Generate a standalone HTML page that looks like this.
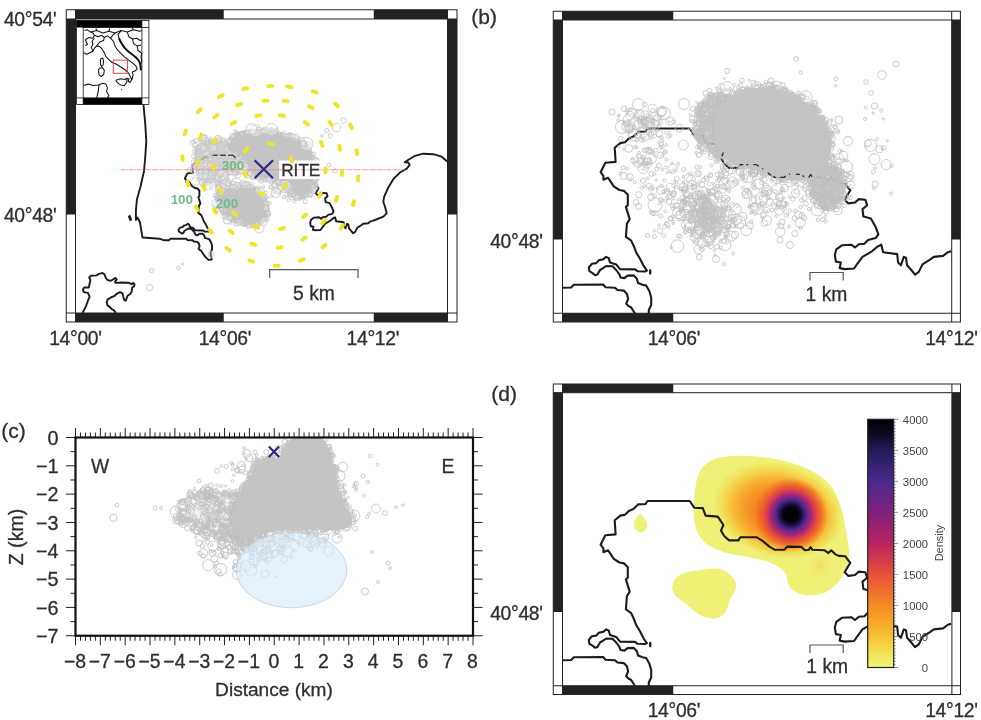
<!DOCTYPE html>
<html lang="en"><head><meta charset="utf-8"><title>Figure</title>
<style>html,body{margin:0;padding:0;background:#fff;}svg{display:block;}</style></head>
<body>
<svg width="981" height="720" viewBox="0 0 981 720" font-family="'Liberation Sans', sans-serif" fill="#2e2e2e"><style>text{stroke:#2e2e2e;stroke-width:0.3px;paint-order:stroke}.g text,text.g{stroke:none}</style>
<rect width="981" height="720" fill="#fff"/>
<g id="panelB">
<path d="M648.8,313.5 L648.8,310.0 L651.2,305.0 L651.2,297.5 L649.4,291.2 L646.2,285.6 L642.5,284.8 L638.1,283.1 L636.9,278.8 L633.8,275.4 L627.5,275.6 L624.4,278.1 L620.6,277.5 L619.4,274.4 L616.2,270.0 L612.5,266.2 L606.2,266.0 L603.1,268.1 L600.0,270.0 L597.5,274.4 L595.0,275.2 L592.5,273.1 L589.4,271.2 L588.8,267.5 L591.9,263.8 L596.2,263.1 L598.8,260.2 L603.1,259.4 L606.2,256.9 L608.8,258.1 L610.0,262.5 L616.2,264.4 L620.0,269.1 L635.0,269.4 L637.5,271.2 L645.0,271.5 L646.9,270.6 L643.8,266.2 L640.0,258.8 L636.2,252.5 L633.8,246.2 L631.2,240.6 L626.9,237.5 L625.9,236.9 L626.9,223.8 L629.7,219.1 L625.9,206.9 L627.8,205.0 L627.8,194.7 L624.1,190.9 L619.4,190.0 L613.8,186.3 L608.1,177.8 L603.4,179.7 L603.4,175.9 L600.6,172.2 L605.3,162.8 L615.6,161.9 L614.7,147.8 L620.3,143.1 L625.0,142.2 L628.8,138.4 L633.4,136.6 L638.1,131.9 L645.6,131.5 L647.5,128.5 L689.7,128.5 L694.4,135.3 L702.8,135.6 L705.6,143.1 L717.8,144.1 L723.4,152.5 L721.0,158.1 L724.4,163.8 L729.1,167.9 L738.4,167.9 L740.3,164.7 L756.3,164.7 L761.9,167.9 L769.4,174.1 L775.0,177.3 L784.4,177.3 L787.2,174.1 L801.3,174.4 L805.0,177.8 L808.8,177.3 L810.6,174.6 L812.5,177.3 L824.7,177.8 L828.4,180.6 L831.3,177.8 L835.0,181.6 L838.8,183.4 L845.3,183.8 L850.3,190.3 L844.7,199.7 L848.4,203.4 L855.0,202.5 L858.8,199.1 L865.3,199.7 L867.2,205.3 L862.5,209.1 L863.4,216.6 L870.9,218.4 L875.6,226.9 L878.4,234.4 L875.6,238.1 L868.1,240.0 L864.4,243.8 L858.8,244.3 L855.0,247.5 L851.3,244.7 L841.9,245.3 L836.3,249.4 L834.8,255.0 L835.9,261.6 L840.9,262.5 L839.6,268.1 L844.7,269.1 L854.1,268.5 L856.9,264.4 L862.5,256.9 L871.9,251.3 L877.5,246.6 L881.3,244.7 L883.1,252.2 L897.2,254.1 L898.1,262.5 L900.9,265.3 L903.8,256.9 L906.0,257.8 L907.1,265.3 L911.3,270.0 L915.0,274.7 L918.8,271.9 L922.5,264.4 L930.0,259.7 L933.8,256.9 L943.1,255.9 L947.8,252.2 L951.2,251.3" fill="none" stroke="#1c1c1c" stroke-width="2.1" stroke-linejoin="round"/>
<path d="M562.5,287.8 L571.2,287.5 L573.8,284.8 L603.1,284.5 L605.6,287.2 L615.0,287.8 L617.5,290.0 L623.8,290.6 L626.9,293.8 L628.1,298.8 L626.2,303.8 L628.8,306.2 L631.2,307.5 L635.0,313.5" fill="none" stroke="#1c1c1c" stroke-width="2.1" stroke-linejoin="round"/>
<ellipse cx="650.2" cy="271.9" rx="1.3" ry="3" fill="#1c1c1c"/>
<path d="M813.3,173.5 L825.8,165.2 L837.3,168.3 L843.5,180.8 L842.1,195.4 L835.2,205.8 L823.8,209.0 L814.4,197.5 L811.7,185.0Z" fill="#c4c4c4" stroke="#c4c4c4" stroke-width="3" stroke-linejoin="round" opacity="0.6"/>
<path d="M692.5,122.5C693.0,117.3 694.6,109.5 697.7,104.8C700.8,100.1 705.5,96.1 711.2,94.4C717.0,92.6 729.3,93.2 732.1,94.4C734.9,95.6 729.7,99.1 727.9,101.7C726.2,104.3 723.2,106.5 721.7,110.0C720.1,113.5 718.9,118.3 718.5,122.5C718.2,126.7 718.9,130.8 719.6,135.0C720.3,139.2 721.0,143.9 722.7,147.5C724.4,151.1 730.2,154.8 730.0,156.9C729.8,159.0 725.8,161.2 721.7,160.0C717.5,158.8 709.5,153.6 705.0,149.6C700.5,145.6 696.7,140.6 694.6,136.0C692.5,131.5 692.0,127.7 692.5,122.5Z" fill="#c4c4c4" opacity="0.5"/>
<g fill="none" stroke="#c0c0c0" stroke-width="0.8" >
<circle cx="815.2" cy="109.6" r="2.9"/>
<circle cx="818.7" cy="141.7" r="2.0"/>
<circle cx="737.9" cy="116.6" r="1.4"/>
<circle cx="730.0" cy="138.7" r="1.6"/>
<circle cx="770.8" cy="153.0" r="2.1"/>
<circle cx="851.1" cy="184.7" r="3.8"/>
<circle cx="723.5" cy="101.0" r="2.3"/>
<circle cx="791.2" cy="147.8" r="3.3"/>
<circle cx="769.6" cy="112.5" r="2.0"/>
<circle cx="801.5" cy="106.3" r="2.3"/>
<circle cx="748.8" cy="80.3" r="1.0"/>
<circle cx="793.0" cy="177.9" r="2.0"/>
<circle cx="703.3" cy="151.4" r="3.0"/>
<circle cx="747.4" cy="158.9" r="1.8"/>
<circle cx="698.0" cy="131.1" r="5.2"/>
<circle cx="741.2" cy="99.7" r="1.8"/>
<circle cx="821.8" cy="130.0" r="3.2"/>
<circle cx="787.3" cy="164.2" r="2.5"/>
<circle cx="799.0" cy="99.7" r="2.3"/>
<circle cx="760.3" cy="111.5" r="0.9"/>
<circle cx="754.2" cy="92.6" r="1.2"/>
<circle cx="798.2" cy="119.5" r="4.5"/>
<circle cx="831.3" cy="167.4" r="1.2"/>
<circle cx="842.9" cy="199.4" r="1.8"/>
<circle cx="781.5" cy="99.0" r="2.0"/>
<circle cx="778.7" cy="103.7" r="1.7"/>
<circle cx="832.9" cy="164.7" r="2.5"/>
<circle cx="781.5" cy="129.6" r="1.8"/>
<circle cx="755.5" cy="111.5" r="3.3"/>
<circle cx="764.8" cy="152.2" r="1.7"/>
<circle cx="692.5" cy="129.0" r="1.5"/>
<circle cx="846.5" cy="166.8" r="6.1"/>
<circle cx="758.4" cy="149.1" r="1.4"/>
<circle cx="831.1" cy="125.3" r="1.0"/>
<circle cx="784.9" cy="170.2" r="2.4"/>
<circle cx="746.5" cy="148.5" r="2.0"/>
<circle cx="813.5" cy="200.1" r="2.2"/>
<circle cx="818.0" cy="147.7" r="4.1"/>
<circle cx="807.0" cy="109.7" r="1.5"/>
<circle cx="720.8" cy="127.8" r="2.0"/>
<circle cx="717.7" cy="125.6" r="1.8"/>
<circle cx="843.4" cy="155.6" r="4.3"/>
<circle cx="743.9" cy="115.7" r="1.6"/>
<circle cx="809.8" cy="156.6" r="1.0"/>
<circle cx="699.6" cy="136.7" r="1.7"/>
<circle cx="799.0" cy="174.7" r="1.2"/>
<circle cx="742.7" cy="132.5" r="1.2"/>
<circle cx="721.5" cy="86.5" r="2.9"/>
<circle cx="787.1" cy="143.2" r="1.4"/>
<circle cx="785.6" cy="167.0" r="1.5"/>
<circle cx="764.5" cy="162.9" r="1.9"/>
<circle cx="792.2" cy="104.1" r="6.1"/>
<circle cx="698.5" cy="134.2" r="1.2"/>
<circle cx="813.3" cy="187.6" r="1.3"/>
<circle cx="837.7" cy="185.9" r="1.9"/>
<circle cx="831.9" cy="149.0" r="1.8"/>
<circle cx="729.7" cy="112.7" r="1.3"/>
<circle cx="719.0" cy="154.8" r="3.4"/>
<circle cx="691.8" cy="120.9" r="1.4"/>
<circle cx="841.8" cy="151.0" r="1.3"/>
<circle cx="821.1" cy="166.8" r="1.9"/>
<circle cx="788.2" cy="105.1" r="1.3"/>
<circle cx="782.3" cy="85.0" r="2.7"/>
<circle cx="819.4" cy="206.8" r="1.9"/>
<circle cx="743.7" cy="121.9" r="1.3"/>
<circle cx="818.8" cy="121.3" r="4.1"/>
<circle cx="829.4" cy="185.2" r="1.4"/>
<circle cx="782.1" cy="164.3" r="1.6"/>
<circle cx="788.0" cy="92.5" r="1.9"/>
<circle cx="796.5" cy="163.4" r="1.9"/>
<circle cx="823.1" cy="186.1" r="1.9"/>
<circle cx="741.8" cy="175.3" r="1.1"/>
<circle cx="830.2" cy="197.9" r="1.7"/>
<circle cx="794.8" cy="108.2" r="1.0"/>
<circle cx="750.4" cy="113.2" r="1.5"/>
<circle cx="763.0" cy="166.7" r="1.6"/>
<circle cx="704.9" cy="130.1" r="2.0"/>
<circle cx="824.2" cy="129.6" r="1.3"/>
<circle cx="749.1" cy="151.2" r="1.8"/>
<circle cx="723.5" cy="112.5" r="1.4"/>
<circle cx="742.3" cy="140.3" r="1.7"/>
<circle cx="783.0" cy="119.4" r="1.2"/>
<circle cx="709.8" cy="97.4" r="2.4"/>
<circle cx="709.7" cy="90.5" r="2.3"/>
<circle cx="789.7" cy="104.5" r="1.0"/>
<circle cx="749.7" cy="173.8" r="1.5"/>
<circle cx="815.3" cy="189.0" r="1.4"/>
<circle cx="798.6" cy="128.8" r="1.0"/>
<circle cx="698.8" cy="148.4" r="1.1"/>
<circle cx="812.2" cy="105.0" r="1.5"/>
<circle cx="731.9" cy="150.7" r="1.1"/>
<circle cx="810.7" cy="198.4" r="1.7"/>
<circle cx="708.9" cy="104.2" r="2.2"/>
<circle cx="819.1" cy="165.1" r="1.3"/>
<circle cx="841.9" cy="191.3" r="2.1"/>
<circle cx="815.4" cy="132.0" r="2.8"/>
<circle cx="793.2" cy="104.2" r="1.3"/>
<circle cx="812.5" cy="180.0" r="2.6"/>
<circle cx="806.3" cy="138.6" r="2.6"/>
<circle cx="750.2" cy="135.3" r="2.8"/>
<circle cx="777.0" cy="131.1" r="1.7"/>
<circle cx="778.0" cy="175.3" r="1.8"/>
<circle cx="838.7" cy="131.0" r="1.3"/>
<circle cx="804.9" cy="189.0" r="2.3"/>
<circle cx="707.4" cy="103.2" r="2.2"/>
<circle cx="782.4" cy="138.8" r="1.9"/>
<circle cx="811.1" cy="105.0" r="1.7"/>
<circle cx="765.8" cy="84.1" r="1.3"/>
<circle cx="739.7" cy="121.1" r="0.9"/>
<circle cx="806.0" cy="140.0" r="1.4"/>
<circle cx="833.7" cy="201.0" r="1.0"/>
<circle cx="728.7" cy="131.9" r="1.6"/>
<circle cx="725.5" cy="96.3" r="1.3"/>
<circle cx="708.5" cy="103.1" r="4.2"/>
<circle cx="829.1" cy="143.9" r="1.4"/>
<circle cx="731.8" cy="149.5" r="1.2"/>
<circle cx="734.6" cy="148.1" r="3.4"/>
<circle cx="791.1" cy="150.7" r="1.0"/>
<circle cx="710.6" cy="94.8" r="2.7"/>
<circle cx="722.3" cy="146.8" r="2.7"/>
<circle cx="695.0" cy="121.5" r="1.6"/>
<circle cx="786.5" cy="88.6" r="1.1"/>
<circle cx="727.0" cy="141.3" r="1.4"/>
<circle cx="832.4" cy="180.5" r="1.8"/>
<circle cx="823.9" cy="180.5" r="2.4"/>
<circle cx="799.8" cy="177.1" r="2.1"/>
<circle cx="737.7" cy="102.0" r="2.0"/>
<circle cx="812.1" cy="101.7" r="1.5"/>
<circle cx="838.7" cy="158.7" r="5.1"/>
<circle cx="713.7" cy="147.9" r="1.2"/>
<circle cx="803.3" cy="164.9" r="1.3"/>
<circle cx="756.2" cy="171.4" r="1.8"/>
<circle cx="824.9" cy="124.1" r="2.3"/>
<circle cx="797.9" cy="107.4" r="2.0"/>
<circle cx="778.6" cy="181.5" r="2.1"/>
<circle cx="765.0" cy="133.9" r="1.4"/>
<circle cx="806.2" cy="149.0" r="5.2"/>
<circle cx="780.4" cy="153.6" r="1.0"/>
<circle cx="762.4" cy="163.3" r="1.3"/>
<circle cx="778.4" cy="89.6" r="1.1"/>
<circle cx="785.4" cy="109.2" r="1.2"/>
<circle cx="720.7" cy="139.9" r="2.0"/>
<circle cx="811.0" cy="173.4" r="2.3"/>
<circle cx="764.5" cy="161.9" r="1.2"/>
<circle cx="822.3" cy="169.5" r="1.7"/>
<circle cx="793.3" cy="133.5" r="3.6"/>
<circle cx="779.6" cy="132.2" r="1.9"/>
<circle cx="810.1" cy="130.1" r="3.0"/>
<circle cx="764.6" cy="179.7" r="2.6"/>
<circle cx="770.7" cy="124.5" r="2.7"/>
<circle cx="823.6" cy="130.2" r="1.5"/>
<circle cx="826.5" cy="183.7" r="2.0"/>
<circle cx="761.5" cy="174.1" r="4.2"/>
<circle cx="694.0" cy="131.4" r="1.3"/>
<circle cx="829.0" cy="156.5" r="2.8"/>
<circle cx="779.6" cy="167.7" r="1.4"/>
<circle cx="799.2" cy="157.0" r="1.7"/>
<circle cx="757.1" cy="104.1" r="2.2"/>
<circle cx="736.2" cy="118.5" r="1.5"/>
<circle cx="746.0" cy="139.0" r="1.6"/>
<circle cx="749.1" cy="156.7" r="1.2"/>
<circle cx="843.4" cy="197.4" r="1.6"/>
<circle cx="750.0" cy="115.1" r="1.1"/>
<circle cx="833.0" cy="145.1" r="2.0"/>
<circle cx="830.1" cy="121.2" r="1.8"/>
<circle cx="769.2" cy="106.0" r="2.6"/>
<circle cx="823.7" cy="142.5" r="1.6"/>
<circle cx="813.9" cy="140.4" r="2.6"/>
<circle cx="749.4" cy="152.0" r="2.7"/>
<circle cx="721.3" cy="121.7" r="2.8"/>
<circle cx="803.9" cy="181.7" r="2.3"/>
<circle cx="822.0" cy="138.7" r="2.0"/>
<circle cx="728.6" cy="164.9" r="1.9"/>
<circle cx="749.9" cy="164.1" r="1.4"/>
<circle cx="730.5" cy="142.8" r="4.5"/>
<circle cx="774.1" cy="163.3" r="1.7"/>
<circle cx="735.6" cy="120.3" r="3.9"/>
<circle cx="730.3" cy="88.7" r="1.2"/>
<circle cx="804.4" cy="105.7" r="1.5"/>
<circle cx="710.7" cy="122.3" r="1.9"/>
<circle cx="814.0" cy="144.4" r="1.2"/>
<circle cx="839.3" cy="166.6" r="2.2"/>
<circle cx="789.9" cy="181.4" r="5.4"/>
<circle cx="811.0" cy="125.3" r="1.9"/>
<circle cx="730.4" cy="137.7" r="1.7"/>
<circle cx="768.3" cy="98.5" r="2.1"/>
<circle cx="760.5" cy="164.4" r="1.1"/>
<circle cx="710.5" cy="98.1" r="1.9"/>
<circle cx="716.7" cy="117.3" r="3.0"/>
<circle cx="718.4" cy="101.6" r="2.4"/>
<circle cx="765.9" cy="81.8" r="1.7"/>
<circle cx="763.3" cy="101.3" r="1.7"/>
<circle cx="718.4" cy="161.4" r="1.8"/>
<circle cx="754.8" cy="135.0" r="1.6"/>
<circle cx="839.4" cy="198.0" r="1.3"/>
<circle cx="796.8" cy="159.2" r="1.7"/>
<circle cx="814.6" cy="108.1" r="1.7"/>
<circle cx="844.2" cy="197.0" r="3.8"/>
<circle cx="707.0" cy="121.5" r="2.1"/>
<circle cx="838.0" cy="210.7" r="4.1"/>
<circle cx="788.4" cy="167.9" r="1.7"/>
<circle cx="799.3" cy="155.2" r="1.9"/>
<circle cx="844.1" cy="160.2" r="1.7"/>
<circle cx="743.2" cy="147.6" r="1.3"/>
<circle cx="801.8" cy="135.5" r="1.2"/>
<circle cx="827.6" cy="179.7" r="1.5"/>
<circle cx="743.4" cy="90.0" r="2.5"/>
<circle cx="710.0" cy="104.2" r="1.2"/>
<circle cx="738.0" cy="139.0" r="1.1"/>
<circle cx="835.3" cy="169.8" r="1.7"/>
<circle cx="827.9" cy="133.1" r="1.4"/>
<circle cx="728.5" cy="98.6" r="1.3"/>
<circle cx="819.1" cy="170.6" r="3.1"/>
<circle cx="723.1" cy="115.2" r="1.7"/>
<circle cx="803.2" cy="96.9" r="2.1"/>
<circle cx="772.7" cy="84.5" r="1.6"/>
<circle cx="702.1" cy="116.1" r="2.3"/>
<circle cx="813.4" cy="160.2" r="1.6"/>
<circle cx="739.5" cy="163.0" r="1.6"/>
<circle cx="792.3" cy="177.7" r="2.2"/>
<circle cx="750.2" cy="175.7" r="1.6"/>
<circle cx="802.6" cy="131.1" r="2.8"/>
<circle cx="805.0" cy="106.9" r="1.3"/>
<circle cx="807.9" cy="116.7" r="3.0"/>
<circle cx="761.6" cy="117.9" r="1.2"/>
<circle cx="738.3" cy="90.0" r="1.5"/>
<circle cx="724.2" cy="115.7" r="1.8"/>
<circle cx="716.6" cy="88.1" r="1.2"/>
<circle cx="764.5" cy="108.2" r="1.4"/>
<circle cx="733.0" cy="155.5" r="2.2"/>
<circle cx="771.2" cy="89.7" r="1.5"/>
<circle cx="829.8" cy="194.5" r="1.3"/>
<circle cx="700.3" cy="114.8" r="2.2"/>
<circle cx="821.2" cy="141.9" r="1.7"/>
<circle cx="740.6" cy="85.3" r="2.1"/>
<circle cx="752.5" cy="100.1" r="3.0"/>
<circle cx="794.2" cy="122.6" r="1.7"/>
<circle cx="781.7" cy="179.3" r="1.9"/>
<circle cx="778.4" cy="106.0" r="5.0"/>
<circle cx="783.6" cy="144.7" r="1.0"/>
<circle cx="715.5" cy="161.7" r="1.8"/>
<circle cx="777.5" cy="176.9" r="1.3"/>
<circle cx="754.2" cy="115.5" r="2.0"/>
<circle cx="749.2" cy="151.5" r="1.3"/>
<circle cx="800.6" cy="153.8" r="1.4"/>
<circle cx="729.1" cy="102.8" r="1.1"/>
<circle cx="827.2" cy="200.2" r="2.2"/>
<circle cx="695.6" cy="123.8" r="1.7"/>
<circle cx="719.8" cy="141.9" r="1.5"/>
<circle cx="716.3" cy="144.2" r="1.2"/>
<circle cx="774.0" cy="178.4" r="2.7"/>
<circle cx="759.9" cy="98.5" r="1.0"/>
<circle cx="820.5" cy="120.9" r="2.5"/>
<circle cx="762.9" cy="167.3" r="1.9"/>
<circle cx="771.4" cy="101.7" r="1.4"/>
<circle cx="711.1" cy="117.4" r="3.9"/>
<circle cx="696.9" cy="108.4" r="1.1"/>
<circle cx="709.6" cy="141.3" r="2.9"/>
<circle cx="746.6" cy="157.4" r="1.1"/>
<circle cx="734.3" cy="84.3" r="1.4"/>
<circle cx="730.2" cy="133.3" r="2.4"/>
<circle cx="811.8" cy="133.6" r="1.5"/>
<circle cx="833.4" cy="201.2" r="1.8"/>
<circle cx="729.7" cy="98.2" r="1.8"/>
<circle cx="759.9" cy="159.5" r="1.3"/>
<circle cx="804.8" cy="142.7" r="1.4"/>
<circle cx="802.1" cy="96.8" r="3.3"/>
<circle cx="703.5" cy="123.7" r="2.4"/>
<circle cx="838.5" cy="160.7" r="2.1"/>
<circle cx="763.4" cy="154.4" r="1.7"/>
<circle cx="808.9" cy="169.6" r="1.3"/>
<circle cx="821.3" cy="134.2" r="1.1"/>
<circle cx="816.4" cy="197.8" r="2.1"/>
<circle cx="765.4" cy="139.1" r="1.4"/>
<circle cx="751.5" cy="137.0" r="1.5"/>
<circle cx="811.6" cy="154.5" r="1.2"/>
<circle cx="798.2" cy="185.9" r="1.0"/>
<circle cx="726.0" cy="110.7" r="1.7"/>
<circle cx="733.8" cy="120.0" r="1.2"/>
<circle cx="812.7" cy="129.3" r="3.6"/>
<circle cx="741.2" cy="164.0" r="3.2"/>
<circle cx="718.8" cy="93.9" r="1.5"/>
<circle cx="802.3" cy="179.9" r="2.6"/>
<circle cx="736.8" cy="163.9" r="1.3"/>
<circle cx="693.9" cy="133.3" r="2.6"/>
<circle cx="782.9" cy="113.3" r="3.8"/>
<circle cx="745.3" cy="160.4" r="2.1"/>
<circle cx="784.8" cy="100.2" r="4.0"/>
<circle cx="729.8" cy="106.3" r="1.0"/>
<circle cx="773.6" cy="159.3" r="1.6"/>
<circle cx="803.2" cy="124.2" r="1.5"/>
<circle cx="742.0" cy="80.4" r="2.2"/>
<circle cx="700.7" cy="106.6" r="1.7"/>
<circle cx="742.8" cy="89.1" r="2.1"/>
<circle cx="759.5" cy="106.9" r="1.8"/>
<circle cx="835.1" cy="163.9" r="1.3"/>
<circle cx="703.6" cy="121.9" r="1.1"/>
<circle cx="692.9" cy="108.8" r="2.5"/>
<circle cx="791.9" cy="93.1" r="1.3"/>
<circle cx="743.2" cy="123.8" r="2.1"/>
<circle cx="798.9" cy="152.2" r="1.9"/>
<circle cx="789.4" cy="93.1" r="1.4"/>
<circle cx="730.9" cy="157.0" r="1.1"/>
<circle cx="844.1" cy="187.9" r="1.8"/>
<circle cx="793.1" cy="148.4" r="2.7"/>
<circle cx="801.7" cy="187.2" r="1.1"/>
<circle cx="817.0" cy="139.6" r="4.6"/>
<circle cx="827.6" cy="209.1" r="1.8"/>
<circle cx="754.2" cy="121.0" r="2.0"/>
<circle cx="770.9" cy="80.9" r="2.9"/>
<circle cx="760.7" cy="106.2" r="3.2"/>
<circle cx="804.8" cy="146.3" r="1.9"/>
<circle cx="830.4" cy="198.4" r="2.3"/>
<circle cx="740.1" cy="116.9" r="1.4"/>
<circle cx="697.2" cy="147.4" r="1.7"/>
<circle cx="770.8" cy="137.4" r="3.9"/>
<circle cx="843.9" cy="205.3" r="2.2"/>
<circle cx="708.8" cy="99.9" r="2.1"/>
<circle cx="790.3" cy="176.3" r="2.1"/>
<circle cx="782.5" cy="107.6" r="2.2"/>
<circle cx="802.6" cy="105.5" r="1.0"/>
<circle cx="776.5" cy="87.3" r="6.1"/>
<circle cx="758.5" cy="167.1" r="3.7"/>
<circle cx="697.6" cy="113.2" r="1.5"/>
<circle cx="750.7" cy="146.4" r="2.1"/>
<circle cx="736.7" cy="166.7" r="3.0"/>
<circle cx="743.0" cy="159.5" r="1.6"/>
<circle cx="820.4" cy="151.5" r="4.4"/>
<circle cx="750.3" cy="126.1" r="1.4"/>
<circle cx="699.7" cy="114.0" r="1.6"/>
<circle cx="790.2" cy="92.7" r="1.6"/>
<circle cx="848.7" cy="197.4" r="1.8"/>
<circle cx="830.5" cy="195.9" r="2.2"/>
<circle cx="790.0" cy="148.8" r="1.1"/>
<circle cx="721.1" cy="148.5" r="1.0"/>
<circle cx="735.9" cy="96.4" r="1.3"/>
<circle cx="690.5" cy="114.7" r="1.4"/>
<circle cx="710.3" cy="104.7" r="3.0"/>
<circle cx="783.7" cy="135.7" r="1.5"/>
<circle cx="758.5" cy="107.0" r="2.4"/>
<circle cx="797.0" cy="118.1" r="1.2"/>
<circle cx="753.6" cy="141.1" r="4.7"/>
<circle cx="805.9" cy="120.7" r="2.5"/>
<circle cx="834.6" cy="131.9" r="1.2"/>
<circle cx="798.4" cy="92.3" r="1.6"/>
<circle cx="693.1" cy="119.6" r="3.7"/>
<circle cx="714.7" cy="108.0" r="2.0"/>
<circle cx="702.5" cy="142.2" r="1.4"/>
<circle cx="785.2" cy="121.9" r="5.6"/>
<circle cx="819.9" cy="154.2" r="2.0"/>
<circle cx="710.9" cy="151.5" r="1.0"/>
<circle cx="791.3" cy="136.5" r="4.2"/>
<circle cx="829.6" cy="131.4" r="2.6"/>
<circle cx="771.9" cy="94.9" r="1.7"/>
<circle cx="780.5" cy="181.2" r="1.4"/>
<circle cx="807.9" cy="113.8" r="1.3"/>
<circle cx="850.5" cy="175.0" r="1.0"/>
<circle cx="757.6" cy="134.7" r="1.8"/>
<circle cx="815.8" cy="103.0" r="1.3"/>
<circle cx="792.9" cy="174.9" r="1.2"/>
<circle cx="765.0" cy="141.3" r="1.3"/>
<circle cx="740.1" cy="171.8" r="4.0"/>
<circle cx="700.4" cy="145.5" r="1.4"/>
<circle cx="718.7" cy="128.5" r="4.3"/>
<circle cx="738.2" cy="159.5" r="3.1"/>
<circle cx="822.8" cy="203.7" r="1.8"/>
<circle cx="742.1" cy="155.2" r="2.3"/>
<circle cx="689.3" cy="129.0" r="1.2"/>
<circle cx="830.6" cy="166.1" r="1.5"/>
<circle cx="811.0" cy="139.2" r="1.8"/>
<circle cx="712.4" cy="147.7" r="1.2"/>
<circle cx="736.9" cy="152.5" r="1.3"/>
<circle cx="810.0" cy="193.1" r="3.8"/>
<circle cx="831.2" cy="156.8" r="2.8"/>
<circle cx="833.6" cy="183.9" r="6.2"/>
<circle cx="805.4" cy="105.9" r="1.2"/>
<circle cx="731.8" cy="122.8" r="1.8"/>
<circle cx="785.0" cy="162.9" r="1.2"/>
<circle cx="720.0" cy="127.7" r="1.6"/>
<circle cx="822.1" cy="152.5" r="1.7"/>
<circle cx="772.1" cy="180.4" r="1.8"/>
<circle cx="795.5" cy="118.1" r="1.4"/>
<circle cx="702.6" cy="141.0" r="2.3"/>
<circle cx="832.3" cy="158.9" r="2.9"/>
<circle cx="697.0" cy="138.0" r="1.5"/>
<circle cx="751.2" cy="156.8" r="1.8"/>
<circle cx="743.6" cy="133.8" r="1.4"/>
<circle cx="803.8" cy="142.1" r="1.9"/>
<circle cx="821.5" cy="144.0" r="2.9"/>
<circle cx="788.0" cy="147.1" r="1.4"/>
<circle cx="831.8" cy="119.9" r="1.3"/>
<circle cx="766.8" cy="96.3" r="1.6"/>
<circle cx="769.9" cy="112.4" r="1.5"/>
<circle cx="755.0" cy="164.5" r="1.9"/>
<circle cx="838.0" cy="185.7" r="1.8"/>
<circle cx="714.7" cy="142.9" r="1.0"/>
<circle cx="702.5" cy="147.4" r="2.7"/>
<circle cx="837.9" cy="132.6" r="1.5"/>
<circle cx="731.1" cy="153.3" r="1.7"/>
<circle cx="702.2" cy="107.1" r="1.4"/>
<circle cx="834.5" cy="203.7" r="2.8"/>
<circle cx="846.6" cy="174.5" r="2.5"/>
<circle cx="829.5" cy="191.1" r="1.8"/>
<circle cx="746.9" cy="92.9" r="2.1"/>
<circle cx="807.3" cy="97.9" r="1.9"/>
<circle cx="779.9" cy="148.8" r="1.3"/>
<circle cx="747.8" cy="123.1" r="1.6"/>
<circle cx="833.9" cy="158.9" r="3.1"/>
<circle cx="798.2" cy="176.8" r="2.1"/>
<circle cx="770.1" cy="86.4" r="4.4"/>
<circle cx="770.8" cy="177.2" r="2.1"/>
<circle cx="795.8" cy="161.4" r="1.1"/>
<circle cx="695.9" cy="111.1" r="2.0"/>
<circle cx="775.5" cy="86.4" r="1.6"/>
<circle cx="755.4" cy="152.1" r="1.1"/>
<circle cx="808.8" cy="125.7" r="1.1"/>
<circle cx="815.0" cy="103.1" r="2.7"/>
<circle cx="763.6" cy="148.9" r="2.4"/>
<circle cx="800.8" cy="131.7" r="1.3"/>
<circle cx="805.3" cy="141.5" r="1.5"/>
<circle cx="755.9" cy="128.2" r="1.6"/>
<circle cx="769.0" cy="117.0" r="2.2"/>
<circle cx="727.9" cy="99.4" r="1.9"/>
<circle cx="760.3" cy="118.6" r="3.1"/>
<circle cx="825.2" cy="192.0" r="3.7"/>
<circle cx="744.6" cy="161.7" r="3.3"/>
<circle cx="835.9" cy="127.3" r="2.3"/>
<circle cx="779.1" cy="138.5" r="1.9"/>
<circle cx="797.2" cy="185.1" r="1.8"/>
<circle cx="741.7" cy="173.5" r="2.1"/>
<circle cx="731.5" cy="147.1" r="2.4"/>
<circle cx="799.8" cy="106.4" r="1.6"/>
<circle cx="820.6" cy="167.9" r="1.5"/>
<circle cx="740.9" cy="166.9" r="1.6"/>
<circle cx="782.6" cy="161.4" r="3.8"/>
<circle cx="761.4" cy="109.6" r="2.5"/>
<circle cx="807.0" cy="141.2" r="2.3"/>
<circle cx="810.2" cy="128.0" r="1.1"/>
<circle cx="702.7" cy="151.6" r="1.4"/>
<circle cx="814.6" cy="114.4" r="1.2"/>
<circle cx="802.4" cy="130.0" r="1.6"/>
<circle cx="741.0" cy="144.4" r="1.5"/>
<circle cx="775.1" cy="171.7" r="1.3"/>
<circle cx="792.7" cy="169.5" r="2.2"/>
<circle cx="751.1" cy="169.4" r="1.5"/>
<circle cx="744.8" cy="160.2" r="1.8"/>
<circle cx="763.5" cy="154.2" r="1.6"/>
<circle cx="724.3" cy="130.8" r="2.2"/>
<circle cx="834.5" cy="126.7" r="2.1"/>
<circle cx="708.4" cy="127.7" r="1.6"/>
<circle cx="769.2" cy="95.4" r="2.0"/>
<circle cx="740.5" cy="116.2" r="1.8"/>
<circle cx="711.3" cy="156.5" r="3.0"/>
<circle cx="759.1" cy="117.9" r="1.3"/>
<circle cx="822.7" cy="178.5" r="1.8"/>
<circle cx="710.2" cy="118.5" r="1.7"/>
<circle cx="822.4" cy="211.1" r="1.6"/>
<circle cx="849.3" cy="177.8" r="3.8"/>
<circle cx="793.8" cy="109.1" r="1.9"/>
<circle cx="748.9" cy="162.3" r="2.6"/>
<circle cx="753.0" cy="82.7" r="2.6"/>
<circle cx="802.3" cy="138.5" r="1.9"/>
<circle cx="818.8" cy="110.7" r="1.9"/>
<circle cx="796.2" cy="168.8" r="1.3"/>
<circle cx="764.3" cy="104.7" r="1.4"/>
<circle cx="754.2" cy="178.4" r="1.8"/>
<circle cx="719.3" cy="91.7" r="2.4"/>
<circle cx="764.0" cy="110.8" r="3.3"/>
<circle cx="819.3" cy="187.9" r="1.2"/>
<circle cx="842.9" cy="190.9" r="2.1"/>
<circle cx="794.2" cy="104.5" r="2.5"/>
<circle cx="822.9" cy="176.1" r="1.4"/>
<circle cx="810.5" cy="172.1" r="1.3"/>
<circle cx="824.1" cy="119.2" r="1.1"/>
<circle cx="798.3" cy="148.2" r="2.2"/>
<circle cx="743.6" cy="123.0" r="1.7"/>
<circle cx="713.8" cy="144.8" r="6.1"/>
<circle cx="748.6" cy="135.6" r="1.3"/>
<circle cx="827.6" cy="170.0" r="1.8"/>
<circle cx="724.0" cy="147.0" r="4.0"/>
<circle cx="703.5" cy="131.8" r="1.7"/>
<circle cx="812.3" cy="194.3" r="2.3"/>
<circle cx="760.5" cy="126.5" r="2.7"/>
<circle cx="771.0" cy="105.6" r="1.8"/>
<circle cx="738.6" cy="120.2" r="2.1"/>
<circle cx="827.9" cy="165.4" r="2.5"/>
<circle cx="758.3" cy="105.9" r="2.4"/>
<circle cx="705.7" cy="93.5" r="2.8"/>
<circle cx="745.4" cy="133.7" r="1.8"/>
<circle cx="839.4" cy="150.7" r="1.6"/>
<circle cx="850.3" cy="175.2" r="4.0"/>
<circle cx="712.3" cy="153.0" r="4.2"/>
<circle cx="719.3" cy="93.3" r="2.1"/>
<circle cx="795.0" cy="140.8" r="3.7"/>
<circle cx="768.2" cy="150.6" r="1.0"/>
<circle cx="763.1" cy="169.2" r="1.5"/>
<circle cx="850.2" cy="185.3" r="1.0"/>
<circle cx="699.6" cy="145.2" r="2.7"/>
<circle cx="726.6" cy="93.3" r="4.4"/>
<circle cx="720.3" cy="112.6" r="1.6"/>
<circle cx="845.3" cy="178.3" r="2.1"/>
<circle cx="827.8" cy="172.2" r="2.3"/>
<circle cx="740.0" cy="131.5" r="1.0"/>
<circle cx="760.4" cy="118.6" r="1.5"/>
<circle cx="700.7" cy="116.4" r="2.0"/>
<circle cx="766.7" cy="169.3" r="1.1"/>
<circle cx="794.0" cy="175.7" r="1.4"/>
<circle cx="705.5" cy="103.7" r="2.7"/>
<circle cx="738.9" cy="117.1" r="6.1"/>
<circle cx="839.5" cy="158.5" r="1.2"/>
<circle cx="745.4" cy="126.8" r="1.3"/>
<circle cx="744.1" cy="105.0" r="2.1"/>
<circle cx="827.5" cy="162.4" r="1.1"/>
<circle cx="754.0" cy="164.1" r="1.3"/>
<circle cx="800.8" cy="139.5" r="1.7"/>
<circle cx="764.6" cy="174.7" r="2.5"/>
<circle cx="775.8" cy="90.5" r="4.1"/>
<circle cx="727.0" cy="88.1" r="6.5"/>
<circle cx="719.5" cy="106.3" r="1.8"/>
<circle cx="756.2" cy="122.3" r="5.9"/>
<circle cx="740.3" cy="165.4" r="1.7"/>
<circle cx="763.1" cy="168.9" r="1.7"/>
<circle cx="767.0" cy="89.7" r="1.7"/>
<circle cx="823.2" cy="122.9" r="2.7"/>
<circle cx="719.8" cy="111.4" r="1.9"/>
<circle cx="783.7" cy="90.3" r="1.9"/>
<circle cx="812.6" cy="109.2" r="2.0"/>
<circle cx="718.0" cy="130.7" r="1.3"/>
<circle cx="813.6" cy="109.3" r="1.2"/>
<circle cx="751.1" cy="172.9" r="1.9"/>
<circle cx="733.1" cy="162.6" r="1.3"/>
<circle cx="781.4" cy="91.0" r="1.2"/>
<circle cx="722.3" cy="149.3" r="1.9"/>
<circle cx="747.6" cy="165.9" r="2.3"/>
<circle cx="761.5" cy="170.5" r="2.1"/>
<circle cx="721.4" cy="109.4" r="2.6"/>
<circle cx="751.3" cy="87.0" r="1.4"/>
<circle cx="720.9" cy="110.6" r="2.3"/>
<circle cx="808.6" cy="178.1" r="2.3"/>
<circle cx="769.3" cy="88.1" r="1.1"/>
<circle cx="716.6" cy="116.5" r="1.2"/>
<circle cx="758.8" cy="88.9" r="1.3"/>
<circle cx="715.7" cy="134.4" r="2.1"/>
<circle cx="762.0" cy="172.6" r="1.7"/>
<circle cx="719.7" cy="123.7" r="1.7"/>
<circle cx="756.5" cy="86.4" r="5.1"/>
<circle cx="763.5" cy="174.5" r="1.5"/>
<circle cx="809.9" cy="179.2" r="1.9"/>
<circle cx="725.2" cy="102.5" r="1.1"/>
<circle cx="826.3" cy="122.4" r="1.4"/>
<circle cx="762.9" cy="89.8" r="2.0"/>
<circle cx="723.9" cy="150.7" r="1.4"/>
<circle cx="734.1" cy="161.4" r="1.2"/>
<circle cx="824.9" cy="167.1" r="2.1"/>
<circle cx="744.2" cy="165.2" r="1.1"/>
<circle cx="717.9" cy="116.4" r="1.7"/>
<circle cx="795.4" cy="100.7" r="2.5"/>
<circle cx="830.0" cy="137.5" r="5.2"/>
<circle cx="808.0" cy="105.0" r="2.0"/>
<circle cx="761.9" cy="86.6" r="2.0"/>
<circle cx="716.5" cy="115.6" r="3.4"/>
<circle cx="812.7" cy="115.8" r="1.6"/>
<circle cx="790.4" cy="100.0" r="3.8"/>
<circle cx="793.0" cy="95.6" r="2.7"/>
<circle cx="742.4" cy="95.5" r="1.2"/>
<circle cx="718.3" cy="137.1" r="1.5"/>
<circle cx="713.8" cy="129.5" r="1.9"/>
<circle cx="731.6" cy="98.7" r="2.1"/>
<circle cx="728.7" cy="154.1" r="2.6"/>
<circle cx="728.4" cy="100.8" r="1.5"/>
<circle cx="828.8" cy="145.0" r="1.3"/>
<circle cx="756.7" cy="91.7" r="1.7"/>
<circle cx="740.7" cy="161.0" r="1.3"/>
<circle cx="799.8" cy="103.7" r="1.5"/>
<circle cx="742.5" cy="91.6" r="1.2"/>
<circle cx="820.6" cy="164.4" r="4.3"/>
<circle cx="758.7" cy="91.0" r="2.3"/>
<circle cx="763.7" cy="90.9" r="1.7"/>
<circle cx="810.2" cy="173.6" r="2.3"/>
<circle cx="753.1" cy="171.7" r="4.9"/>
<circle cx="768.1" cy="170.5" r="1.4"/>
<circle cx="817.1" cy="166.5" r="2.1"/>
<circle cx="776.7" cy="93.8" r="1.2"/>
<circle cx="795.7" cy="178.0" r="1.3"/>
<circle cx="734.2" cy="159.4" r="2.5"/>
<circle cx="756.6" cy="84.8" r="1.8"/>
<circle cx="719.9" cy="151.9" r="2.4"/>
<circle cx="803.3" cy="176.6" r="1.9"/>
<circle cx="808.5" cy="106.4" r="1.1"/>
<circle cx="721.6" cy="150.6" r="1.5"/>
<circle cx="746.1" cy="159.5" r="2.6"/>
<circle cx="829.6" cy="146.9" r="1.7"/>
<circle cx="716.6" cy="117.0" r="2.4"/>
<circle cx="755.5" cy="168.8" r="1.8"/>
<circle cx="828.7" cy="154.7" r="1.2"/>
<circle cx="715.9" cy="122.1" r="2.5"/>
<circle cx="730.9" cy="157.4" r="1.5"/>
<circle cx="783.8" cy="91.1" r="3.2"/>
<circle cx="747.1" cy="87.2" r="1.6"/>
<circle cx="716.3" cy="131.9" r="1.4"/>
<circle cx="792.2" cy="177.1" r="3.7"/>
<circle cx="736.7" cy="93.6" r="1.9"/>
<circle cx="720.9" cy="103.0" r="1.0"/>
<circle cx="833.0" cy="155.5" r="1.5"/>
<circle cx="717.3" cy="121.9" r="1.0"/>
<circle cx="719.7" cy="144.0" r="2.5"/>
<circle cx="779.4" cy="92.2" r="1.8"/>
<circle cx="832.4" cy="143.8" r="2.5"/>
<circle cx="782.2" cy="176.8" r="3.3"/>
<circle cx="761.1" cy="171.3" r="1.4"/>
<circle cx="726.0" cy="155.8" r="2.5"/>
<circle cx="754.1" cy="89.9" r="1.3"/>
<circle cx="719.0" cy="140.9" r="1.0"/>
<circle cx="717.2" cy="114.3" r="2.1"/>
<circle cx="808.7" cy="109.5" r="1.3"/>
<circle cx="746.1" cy="92.4" r="3.5"/>
<circle cx="752.8" cy="91.7" r="2.3"/>
<circle cx="725.5" cy="153.8" r="1.0"/>
<circle cx="716.7" cy="106.6" r="1.7"/>
<circle cx="813.9" cy="169.8" r="1.4"/>
<circle cx="819.7" cy="168.0" r="2.3"/>
<circle cx="768.1" cy="88.4" r="1.6"/>
<circle cx="741.4" cy="165.7" r="2.8"/>
<circle cx="749.4" cy="90.3" r="2.2"/>
<circle cx="738.9" cy="94.5" r="4.2"/>
<circle cx="735.0" cy="96.2" r="2.1"/>
<circle cx="761.1" cy="92.9" r="1.4"/>
<circle cx="803.7" cy="104.5" r="1.7"/>
<circle cx="721.7" cy="111.0" r="1.3"/>
<circle cx="823.3" cy="117.5" r="1.2"/>
<circle cx="722.0" cy="153.1" r="1.9"/>
<circle cx="733.3" cy="164.9" r="2.1"/>
<circle cx="731.7" cy="90.8" r="1.5"/>
<circle cx="767.6" cy="92.6" r="1.8"/>
<circle cx="739.7" cy="92.3" r="1.2"/>
<circle cx="805.8" cy="96.9" r="6.2"/>
<circle cx="734.7" cy="96.9" r="1.4"/>
<circle cx="717.2" cy="137.5" r="1.0"/>
<circle cx="828.1" cy="149.1" r="1.4"/>
<circle cx="718.3" cy="112.2" r="1.2"/>
<circle cx="785.4" cy="97.0" r="1.5"/>
<circle cx="737.6" cy="94.7" r="1.0"/>
<circle cx="816.9" cy="114.3" r="2.0"/>
<circle cx="802.0" cy="105.7" r="2.8"/>
<circle cx="829.7" cy="142.8" r="1.6"/>
<circle cx="801.8" cy="100.9" r="2.0"/>
<circle cx="735.3" cy="164.2" r="1.7"/>
<circle cx="830.9" cy="133.6" r="2.2"/>
<circle cx="741.9" cy="165.4" r="1.7"/>
<circle cx="751.4" cy="88.9" r="1.1"/>
<circle cx="769.8" cy="85.8" r="3.3"/>
<circle cx="718.5" cy="144.8" r="1.1"/>
<circle cx="824.5" cy="128.4" r="2.1"/>
<circle cx="718.4" cy="137.3" r="2.3"/>
<circle cx="782.6" cy="176.8" r="4.9"/>
<circle cx="725.8" cy="107.6" r="1.4"/>
<circle cx="811.5" cy="168.4" r="1.5"/>
<circle cx="816.2" cy="109.6" r="1.7"/>
<circle cx="801.1" cy="176.3" r="2.3"/>
<circle cx="794.5" cy="100.6" r="1.1"/>
<circle cx="811.8" cy="178.8" r="1.6"/>
<circle cx="818.4" cy="114.6" r="2.4"/>
<circle cx="739.2" cy="164.1" r="3.1"/>
<circle cx="763.2" cy="92.4" r="2.5"/>
<circle cx="804.0" cy="173.8" r="2.3"/>
<circle cx="718.3" cy="127.1" r="1.5"/>
<circle cx="788.6" cy="175.5" r="4.2"/>
<circle cx="816.5" cy="111.9" r="2.6"/>
<circle cx="826.1" cy="163.3" r="1.6"/>
<circle cx="745.8" cy="166.4" r="2.2"/>
<circle cx="815.1" cy="112.4" r="1.2"/>
<circle cx="820.9" cy="168.7" r="1.0"/>
<circle cx="762.8" cy="170.4" r="2.0"/>
<circle cx="781.5" cy="173.8" r="3.1"/>
<circle cx="751.0" cy="91.6" r="1.4"/>
<circle cx="743.5" cy="163.8" r="1.1"/>
<circle cx="714.0" cy="126.3" r="2.0"/>
<circle cx="759.2" cy="171.1" r="1.9"/>
<circle cx="738.5" cy="92.6" r="1.4"/>
<circle cx="783.2" cy="93.1" r="1.1"/>
<circle cx="793.6" cy="176.8" r="3.0"/>
<circle cx="715.3" cy="116.0" r="1.4"/>
<circle cx="806.2" cy="111.2" r="2.9"/>
<circle cx="802.8" cy="104.5" r="1.1"/>
<circle cx="827.6" cy="134.7" r="1.9"/>
<circle cx="815.0" cy="121.5" r="5.5"/>
<circle cx="827.9" cy="149.4" r="1.5"/>
<circle cx="749.3" cy="168.0" r="3.7"/>
<circle cx="714.8" cy="144.0" r="1.5"/>
<circle cx="822.4" cy="119.1" r="2.2"/>
<circle cx="795.3" cy="178.3" r="1.8"/>
<circle cx="737.1" cy="95.0" r="1.3"/>
<circle cx="725.9" cy="97.6" r="1.1"/>
<circle cx="769.4" cy="89.9" r="1.2"/>
<circle cx="805.2" cy="107.0" r="2.3"/>
<circle cx="742.2" cy="161.8" r="1.2"/>
<circle cx="737.1" cy="98.3" r="1.0"/>
<circle cx="804.2" cy="108.1" r="2.3"/>
<circle cx="801.5" cy="178.8" r="2.5"/>
<circle cx="726.5" cy="102.1" r="1.1"/>
<circle cx="791.2" cy="98.2" r="2.1"/>
<circle cx="830.3" cy="135.6" r="1.3"/>
<circle cx="831.2" cy="143.8" r="1.2"/>
<circle cx="717.6" cy="122.6" r="2.0"/>
<circle cx="715.3" cy="116.8" r="1.2"/>
<circle cx="723.0" cy="153.1" r="2.1"/>
<circle cx="782.3" cy="180.7" r="1.6"/>
<circle cx="808.0" cy="102.7" r="1.1"/>
<circle cx="730.2" cy="103.8" r="2.4"/>
<circle cx="815.5" cy="108.6" r="1.3"/>
<circle cx="778.0" cy="171.9" r="1.5"/>
<circle cx="762.1" cy="94.8" r="5.7"/>
<circle cx="821.3" cy="167.7" r="2.6"/>
<circle cx="720.8" cy="147.6" r="1.4"/>
<circle cx="710.2" cy="118.5" r="1.7"/>
<circle cx="786.4" cy="93.1" r="1.2"/>
<circle cx="827.2" cy="124.0" r="1.1"/>
<circle cx="748.7" cy="94.0" r="3.7"/>
<circle cx="818.3" cy="119.7" r="2.1"/>
<circle cx="785.1" cy="177.9" r="4.5"/>
<circle cx="744.5" cy="165.6" r="1.6"/>
<circle cx="777.7" cy="173.2" r="3.6"/>
<circle cx="776.1" cy="93.7" r="1.3"/>
<circle cx="724.6" cy="155.0" r="1.3"/>
<circle cx="724.3" cy="102.6" r="1.9"/>
<circle cx="821.4" cy="171.9" r="1.0"/>
<circle cx="769.7" cy="90.0" r="4.0"/>
<circle cx="765.7" cy="171.4" r="1.6"/>
<circle cx="762.0" cy="174.3" r="1.7"/>
<circle cx="769.0" cy="86.2" r="1.1"/>
<circle cx="808.0" cy="110.3" r="1.5"/>
<circle cx="734.6" cy="98.1" r="2.0"/>
<circle cx="802.0" cy="100.8" r="2.1"/>
<circle cx="830.6" cy="141.6" r="1.7"/>
<circle cx="783.6" cy="174.6" r="2.2"/>
<circle cx="829.0" cy="135.5" r="3.9"/>
<circle cx="825.9" cy="142.4" r="1.6"/>
<circle cx="773.1" cy="86.7" r="1.1"/>
<circle cx="755.4" cy="170.0" r="3.9"/>
<circle cx="809.5" cy="105.5" r="1.3"/>
<circle cx="777.5" cy="88.6" r="2.7"/>
<circle cx="817.7" cy="111.4" r="2.0"/>
<circle cx="769.2" cy="91.7" r="1.3"/>
<circle cx="715.4" cy="133.1" r="2.3"/>
<circle cx="823.7" cy="159.7" r="3.5"/>
<circle cx="802.2" cy="176.7" r="0.9"/>
<circle cx="738.4" cy="87.5" r="1.9"/>
<circle cx="797.2" cy="180.8" r="1.8"/>
<circle cx="756.9" cy="88.2" r="3.1"/>
<circle cx="761.7" cy="87.7" r="2.3"/>
<circle cx="745.7" cy="163.4" r="1.2"/>
<circle cx="737.4" cy="160.0" r="0.9"/>
<circle cx="829.1" cy="136.8" r="2.0"/>
<circle cx="722.0" cy="103.1" r="2.3"/>
<circle cx="739.4" cy="162.5" r="1.5"/>
<circle cx="780.9" cy="171.3" r="1.6"/>
<circle cx="802.6" cy="102.7" r="1.2"/>
<circle cx="718.3" cy="118.9" r="2.2"/>
<circle cx="765.0" cy="88.0" r="1.7"/>
<circle cx="832.2" cy="158.2" r="2.2"/>
<circle cx="744.9" cy="166.9" r="1.5"/>
<circle cx="797.7" cy="96.2" r="1.3"/>
<circle cx="817.9" cy="167.4" r="1.4"/>
<circle cx="723.9" cy="104.4" r="3.5"/>
<circle cx="719.3" cy="139.7" r="2.8"/>
<circle cx="721.5" cy="120.0" r="2.5"/>
<circle cx="821.9" cy="165.0" r="2.8"/>
<circle cx="731.2" cy="161.9" r="1.6"/>
<circle cx="811.7" cy="108.3" r="1.7"/>
<circle cx="714.2" cy="120.9" r="1.1"/>
<circle cx="807.7" cy="109.7" r="2.2"/>
<circle cx="778.6" cy="174.2" r="2.7"/>
<circle cx="728.7" cy="162.4" r="1.5"/>
<circle cx="717.1" cy="120.8" r="3.4"/>
<circle cx="732.7" cy="99.1" r="1.2"/>
<circle cx="725.2" cy="154.9" r="1.6"/>
<circle cx="797.3" cy="100.0" r="1.8"/>
<circle cx="717.0" cy="140.6" r="2.6"/>
<circle cx="811.8" cy="108.2" r="2.8"/>
<circle cx="714.9" cy="127.2" r="1.3"/>
<circle cx="723.2" cy="151.2" r="3.4"/>
<circle cx="767.3" cy="170.3" r="5.4"/>
<circle cx="792.0" cy="94.7" r="1.4"/>
<circle cx="748.2" cy="165.2" r="2.3"/>
<circle cx="767.1" cy="94.3" r="1.6"/>
<circle cx="736.4" cy="93.9" r="2.4"/>
<circle cx="723.7" cy="151.3" r="1.6"/>
<circle cx="785.1" cy="96.2" r="2.4"/>
<circle cx="812.5" cy="104.3" r="1.3"/>
<circle cx="722.5" cy="152.8" r="1.9"/>
<circle cx="823.6" cy="166.1" r="2.2"/>
<circle cx="825.8" cy="155.3" r="1.7"/>
<circle cx="798.3" cy="96.8" r="1.4"/>
<circle cx="823.5" cy="157.9" r="3.2"/>
<circle cx="716.9" cy="147.1" r="1.5"/>
<circle cx="789.0" cy="180.5" r="2.6"/>
<circle cx="747.7" cy="89.0" r="1.6"/>
<circle cx="819.6" cy="110.8" r="2.0"/>
<circle cx="772.8" cy="88.6" r="1.9"/>
<circle cx="740.3" cy="95.5" r="6.1"/>
<circle cx="782.2" cy="95.6" r="1.7"/>
<circle cx="810.9" cy="180.3" r="1.2"/>
<circle cx="793.9" cy="99.0" r="1.6"/>
<circle cx="763.8" cy="91.6" r="1.6"/>
<circle cx="744.4" cy="91.5" r="1.7"/>
<circle cx="719.5" cy="112.5" r="1.3"/>
<circle cx="826.2" cy="122.6" r="1.4"/>
<circle cx="722.3" cy="146.1" r="1.0"/>
<circle cx="808.7" cy="176.8" r="2.6"/>
<circle cx="761.8" cy="89.8" r="1.4"/>
<circle cx="742.3" cy="163.9" r="1.2"/>
<circle cx="821.6" cy="173.1" r="1.0"/>
<circle cx="747.1" cy="88.8" r="1.4"/>
<circle cx="826.0" cy="134.8" r="2.4"/>
<circle cx="794.7" cy="180.3" r="3.3"/>
<circle cx="720.4" cy="150.0" r="1.0"/>
<circle cx="712.8" cy="126.7" r="3.2"/>
<circle cx="826.9" cy="128.3" r="1.4"/>
<circle cx="828.6" cy="132.7" r="1.2"/>
<circle cx="770.7" cy="92.7" r="1.7"/>
<circle cx="793.3" cy="95.2" r="1.6"/>
<circle cx="813.3" cy="175.3" r="2.4"/>
<circle cx="814.8" cy="173.8" r="4.2"/>
<circle cx="821.1" cy="123.2" r="1.6"/>
<circle cx="812.1" cy="111.3" r="1.7"/>
<circle cx="716.0" cy="119.6" r="2.1"/>
<circle cx="822.4" cy="118.1" r="2.8"/>
<circle cx="777.9" cy="90.1" r="1.8"/>
<circle cx="718.1" cy="109.4" r="2.2"/>
<circle cx="827.3" cy="134.5" r="2.5"/>
<circle cx="753.1" cy="94.0" r="2.2"/>
<circle cx="792.8" cy="94.3" r="1.8"/>
<circle cx="716.1" cy="138.7" r="1.3"/>
<circle cx="826.6" cy="158.0" r="1.4"/>
<circle cx="720.2" cy="109.2" r="1.4"/>
<circle cx="719.3" cy="104.7" r="3.2"/>
<circle cx="821.3" cy="117.7" r="1.1"/>
<circle cx="802.4" cy="176.5" r="2.6"/>
<circle cx="785.7" cy="90.5" r="2.7"/>
<circle cx="789.2" cy="95.6" r="5.6"/>
<circle cx="787.7" cy="177.7" r="1.4"/>
<circle cx="828.1" cy="134.2" r="6.1"/>
<circle cx="718.9" cy="118.4" r="2.0"/>
<circle cx="752.0" cy="92.9" r="1.8"/>
<circle cx="816.0" cy="109.6" r="1.1"/>
<circle cx="817.2" cy="168.9" r="1.3"/>
<circle cx="817.5" cy="171.5" r="1.6"/>
<circle cx="780.4" cy="178.0" r="4.0"/>
<circle cx="745.5" cy="164.8" r="1.9"/>
<circle cx="784.5" cy="88.3" r="1.8"/>
<circle cx="740.5" cy="96.8" r="3.4"/>
<circle cx="791.5" cy="175.6" r="1.5"/>
<circle cx="824.1" cy="124.7" r="1.6"/>
<circle cx="772.0" cy="91.1" r="3.2"/>
<circle cx="826.6" cy="138.1" r="2.4"/>
<circle cx="826.6" cy="157.0" r="1.3"/>
<circle cx="721.4" cy="119.8" r="2.3"/>
<circle cx="786.3" cy="179.2" r="1.3"/>
<circle cx="759.0" cy="90.2" r="2.0"/>
<circle cx="754.6" cy="172.1" r="4.3"/>
<circle cx="827.3" cy="139.1" r="1.6"/>
<circle cx="827.3" cy="157.8" r="2.5"/>
<circle cx="772.0" cy="92.6" r="2.2"/>
<circle cx="812.9" cy="118.7" r="3.1"/>
<circle cx="719.9" cy="119.4" r="1.5"/>
<circle cx="730.9" cy="101.5" r="1.8"/>
<circle cx="730.9" cy="163.2" r="2.2"/>
<circle cx="816.7" cy="114.8" r="1.6"/>
<circle cx="728.4" cy="148.2" r="1.4"/>
<circle cx="713.8" cy="124.9" r="2.0"/>
<circle cx="723.5" cy="149.6" r="3.0"/>
<circle cx="726.2" cy="102.2" r="2.2"/>
<circle cx="712.2" cy="122.0" r="1.3"/>
<circle cx="721.2" cy="107.4" r="1.9"/>
<circle cx="762.0" cy="86.1" r="1.8"/>
<circle cx="825.9" cy="126.9" r="2.9"/>
<circle cx="743.0" cy="92.0" r="1.4"/>
<circle cx="719.8" cy="109.5" r="1.6"/>
<circle cx="813.0" cy="177.2" r="3.3"/>
<circle cx="785.0" cy="94.4" r="1.6"/>
<circle cx="796.8" cy="95.0" r="1.3"/>
<circle cx="772.6" cy="176.7" r="1.5"/>
<circle cx="773.7" cy="86.9" r="1.5"/>
<circle cx="822.0" cy="116.9" r="1.5"/>
<circle cx="731.0" cy="151.0" r="3.1"/>
<circle cx="795.1" cy="98.6" r="1.4"/>
<circle cx="729.5" cy="152.0" r="1.1"/>
<circle cx="713.5" cy="115.4" r="2.9"/>
<circle cx="828.6" cy="128.7" r="1.9"/>
<circle cx="830.8" cy="154.8" r="2.1"/>
<circle cx="830.1" cy="135.5" r="1.9"/>
<circle cx="832.3" cy="143.9" r="2.1"/>
<circle cx="729.6" cy="156.9" r="2.2"/>
<circle cx="827.7" cy="144.8" r="1.9"/>
<circle cx="788.3" cy="178.2" r="1.1"/>
<circle cx="731.0" cy="160.2" r="1.8"/>
<circle cx="721.9" cy="155.3" r="1.3"/>
<circle cx="771.6" cy="90.0" r="2.0"/>
<circle cx="752.3" cy="170.8" r="1.8"/>
<circle cx="816.0" cy="108.5" r="3.0"/>
<circle cx="784.3" cy="90.7" r="1.3"/>
<circle cx="830.7" cy="132.3" r="1.3"/>
<circle cx="773.2" cy="172.0" r="1.3"/>
<circle cx="795.3" cy="97.3" r="2.2"/>
<circle cx="727.9" cy="160.8" r="1.2"/>
<circle cx="725.5" cy="96.7" r="1.3"/>
<circle cx="781.0" cy="94.2" r="2.3"/>
<circle cx="724.8" cy="98.1" r="1.2"/>
<circle cx="713.3" cy="122.3" r="1.1"/>
<circle cx="714.3" cy="126.7" r="1.3"/>
<circle cx="735.3" cy="92.6" r="1.8"/>
<circle cx="723.5" cy="106.0" r="1.1"/>
<circle cx="762.1" cy="174.2" r="1.7"/>
<circle cx="742.7" cy="165.3" r="4.8"/>
<circle cx="744.6" cy="92.0" r="2.4"/>
<circle cx="724.7" cy="96.4" r="1.6"/>
<circle cx="724.2" cy="155.5" r="3.5"/>
<circle cx="799.3" cy="98.6" r="1.7"/>
<circle cx="746.2" cy="163.6" r="1.3"/>
<circle cx="784.1" cy="94.5" r="1.8"/>
<circle cx="736.7" cy="93.0" r="1.6"/>
<circle cx="761.0" cy="89.0" r="1.4"/>
<circle cx="716.5" cy="132.3" r="4.3"/>
<circle cx="749.3" cy="165.7" r="2.8"/>
<circle cx="715.8" cy="117.3" r="2.6"/>
<circle cx="789.9" cy="176.7" r="2.6"/>
<circle cx="814.4" cy="172.4" r="1.3"/>
<circle cx="806.6" cy="108.5" r="1.4"/>
<circle cx="820.5" cy="121.4" r="3.8"/>
<circle cx="717.4" cy="144.8" r="2.6"/>
<circle cx="776.8" cy="91.2" r="6.1"/>
<circle cx="728.1" cy="100.2" r="1.5"/>
<circle cx="797.6" cy="178.1" r="1.7"/>
<circle cx="751.9" cy="170.6" r="1.5"/>
<circle cx="712.9" cy="135.3" r="2.0"/>
<circle cx="826.5" cy="137.1" r="1.8"/>
<circle cx="726.9" cy="99.5" r="1.9"/>
<circle cx="819.7" cy="119.6" r="2.1"/>
<circle cx="802.1" cy="96.4" r="1.8"/>
<circle cx="824.1" cy="166.4" r="3.6"/>
<circle cx="721.1" cy="96.1" r="1.3"/>
<circle cx="703.2" cy="107.3" r="1.6"/>
<circle cx="718.6" cy="99.8" r="2.2"/>
<circle cx="716.8" cy="144.1" r="1.8"/>
<circle cx="712.4" cy="107.8" r="1.2"/>
<circle cx="699.2" cy="137.0" r="3.1"/>
<circle cx="712.9" cy="126.3" r="1.4"/>
<circle cx="699.8" cy="118.4" r="1.9"/>
<circle cx="717.3" cy="128.2" r="1.4"/>
<circle cx="719.7" cy="111.0" r="1.4"/>
<circle cx="699.5" cy="139.3" r="1.7"/>
<circle cx="717.3" cy="131.7" r="2.5"/>
<circle cx="711.1" cy="144.7" r="0.9"/>
<circle cx="717.6" cy="103.0" r="1.2"/>
<circle cx="715.1" cy="134.3" r="1.1"/>
<circle cx="722.7" cy="158.0" r="1.4"/>
<circle cx="710.6" cy="114.9" r="2.4"/>
<circle cx="698.8" cy="116.3" r="2.1"/>
<circle cx="712.7" cy="138.7" r="1.8"/>
<circle cx="721.5" cy="95.3" r="2.2"/>
<circle cx="701.7" cy="129.8" r="1.6"/>
<circle cx="705.0" cy="141.6" r="1.8"/>
<circle cx="710.7" cy="110.7" r="3.4"/>
<circle cx="712.2" cy="95.7" r="2.3"/>
<circle cx="719.9" cy="140.9" r="2.8"/>
<circle cx="702.1" cy="114.5" r="3.8"/>
<circle cx="714.0" cy="129.7" r="1.2"/>
<circle cx="716.7" cy="97.1" r="4.1"/>
<circle cx="708.3" cy="146.1" r="1.2"/>
<circle cx="718.3" cy="152.8" r="2.9"/>
<circle cx="704.8" cy="125.6" r="1.6"/>
<circle cx="701.8" cy="106.5" r="4.0"/>
<circle cx="699.0" cy="123.2" r="2.9"/>
<circle cx="708.8" cy="144.5" r="1.3"/>
<circle cx="718.5" cy="125.1" r="2.2"/>
<circle cx="704.8" cy="127.4" r="2.2"/>
<circle cx="717.5" cy="157.0" r="1.4"/>
<circle cx="724.8" cy="98.7" r="1.9"/>
<circle cx="717.8" cy="100.3" r="1.4"/>
<circle cx="717.1" cy="150.1" r="1.6"/>
<circle cx="720.2" cy="102.2" r="1.7"/>
<circle cx="709.3" cy="107.2" r="1.8"/>
<circle cx="718.7" cy="141.0" r="1.2"/>
<circle cx="716.2" cy="108.0" r="3.6"/>
<circle cx="720.9" cy="109.5" r="1.1"/>
<circle cx="720.5" cy="95.2" r="1.9"/>
<circle cx="707.8" cy="146.8" r="1.4"/>
<circle cx="709.6" cy="119.9" r="2.9"/>
<circle cx="711.7" cy="117.5" r="1.5"/>
<circle cx="707.8" cy="102.3" r="1.5"/>
<circle cx="727.8" cy="98.8" r="3.5"/>
<circle cx="706.6" cy="125.2" r="1.5"/>
<circle cx="708.6" cy="101.7" r="1.7"/>
<circle cx="699.9" cy="129.5" r="1.3"/>
<circle cx="721.0" cy="141.4" r="2.1"/>
<circle cx="719.1" cy="138.6" r="1.9"/>
<circle cx="705.8" cy="111.2" r="1.2"/>
<circle cx="707.9" cy="120.6" r="1.9"/>
<circle cx="726.7" cy="157.2" r="1.4"/>
<circle cx="716.9" cy="112.3" r="2.0"/>
<circle cx="716.2" cy="140.1" r="1.2"/>
<circle cx="720.2" cy="158.7" r="2.4"/>
<circle cx="718.4" cy="101.5" r="2.6"/>
<circle cx="716.2" cy="142.4" r="1.3"/>
<circle cx="714.5" cy="117.6" r="1.7"/>
<circle cx="723.6" cy="105.5" r="2.2"/>
<circle cx="706.7" cy="121.6" r="1.1"/>
<circle cx="719.4" cy="144.3" r="1.8"/>
<circle cx="714.9" cy="134.3" r="1.9"/>
<circle cx="703.6" cy="133.3" r="1.2"/>
<circle cx="712.8" cy="134.3" r="1.3"/>
<circle cx="698.0" cy="108.5" r="2.9"/>
<circle cx="699.4" cy="129.5" r="2.0"/>
<circle cx="719.0" cy="140.8" r="1.5"/>
<circle cx="700.8" cy="116.3" r="1.2"/>
<circle cx="698.3" cy="137.3" r="2.2"/>
<circle cx="709.1" cy="112.3" r="1.4"/>
<circle cx="705.2" cy="108.5" r="4.2"/>
<circle cx="720.8" cy="154.2" r="2.0"/>
<circle cx="715.8" cy="153.7" r="2.6"/>
<circle cx="710.1" cy="123.5" r="1.9"/>
<circle cx="702.2" cy="126.1" r="3.2"/>
<circle cx="722.3" cy="101.5" r="2.0"/>
<circle cx="711.5" cy="128.9" r="1.3"/>
<circle cx="700.3" cy="136.5" r="1.9"/>
<circle cx="702.5" cy="131.8" r="1.5"/>
<circle cx="715.1" cy="143.5" r="1.9"/>
<circle cx="712.4" cy="111.6" r="1.6"/>
<circle cx="717.5" cy="149.3" r="1.7"/>
<circle cx="718.3" cy="144.8" r="1.4"/>
<circle cx="711.8" cy="151.7" r="1.5"/>
<circle cx="722.5" cy="150.0" r="1.9"/>
<circle cx="718.5" cy="141.5" r="1.6"/>
<circle cx="713.5" cy="137.6" r="2.6"/>
<circle cx="701.4" cy="129.4" r="2.4"/>
<circle cx="717.4" cy="131.7" r="4.5"/>
<circle cx="702.7" cy="102.7" r="1.2"/>
<circle cx="718.4" cy="101.8" r="2.9"/>
<circle cx="723.9" cy="106.3" r="1.5"/>
<circle cx="698.7" cy="138.7" r="1.2"/>
<circle cx="711.2" cy="137.8" r="1.3"/>
<circle cx="704.2" cy="119.9" r="1.6"/>
<circle cx="714.9" cy="114.3" r="3.0"/>
<circle cx="726.6" cy="98.6" r="2.4"/>
<circle cx="714.8" cy="117.6" r="1.8"/>
<circle cx="703.8" cy="129.0" r="1.1"/>
<circle cx="696.4" cy="114.4" r="1.5"/>
<circle cx="711.8" cy="141.4" r="1.4"/>
<circle cx="725.8" cy="157.1" r="3.1"/>
<circle cx="700.5" cy="108.4" r="1.6"/>
<circle cx="701.1" cy="138.7" r="4.5"/>
<circle cx="713.0" cy="120.3" r="4.0"/>
<circle cx="708.5" cy="117.9" r="1.3"/>
<circle cx="701.7" cy="122.9" r="1.9"/>
<circle cx="696.7" cy="121.9" r="1.3"/>
<circle cx="711.0" cy="95.3" r="2.1"/>
<circle cx="696.5" cy="130.6" r="4.2"/>
<circle cx="704.9" cy="108.3" r="2.8"/>
<circle cx="720.2" cy="147.9" r="1.9"/>
<circle cx="715.2" cy="116.9" r="2.4"/>
<circle cx="698.0" cy="137.1" r="1.2"/>
<circle cx="719.2" cy="145.6" r="4.3"/>
<circle cx="694.7" cy="135.9" r="1.2"/>
<circle cx="714.5" cy="141.3" r="1.9"/>
<circle cx="718.1" cy="108.9" r="3.3"/>
<circle cx="707.5" cy="103.8" r="1.5"/>
<circle cx="707.7" cy="120.3" r="2.0"/>
<circle cx="724.3" cy="99.8" r="1.1"/>
<circle cx="697.7" cy="134.5" r="1.6"/>
<circle cx="718.4" cy="140.1" r="2.0"/>
<circle cx="716.1" cy="115.8" r="1.2"/>
<circle cx="716.6" cy="95.0" r="2.5"/>
<circle cx="708.9" cy="147.7" r="1.6"/>
<circle cx="700.6" cy="136.9" r="1.2"/>
<circle cx="721.0" cy="104.6" r="1.4"/>
<circle cx="716.7" cy="156.6" r="1.3"/>
<circle cx="700.2" cy="134.7" r="1.7"/>
<circle cx="715.8" cy="98.6" r="2.2"/>
<circle cx="713.3" cy="106.3" r="1.7"/>
<circle cx="718.0" cy="124.2" r="1.9"/>
<circle cx="706.7" cy="117.3" r="1.7"/>
<circle cx="717.1" cy="156.6" r="2.1"/>
<circle cx="711.1" cy="110.9" r="2.7"/>
<circle cx="720.2" cy="110.5" r="1.1"/>
<circle cx="699.5" cy="112.2" r="1.8"/>
<circle cx="703.6" cy="120.6" r="1.6"/>
<circle cx="703.4" cy="119.3" r="3.1"/>
<circle cx="704.6" cy="117.6" r="2.6"/>
<circle cx="720.6" cy="105.8" r="1.1"/>
<circle cx="719.7" cy="117.2" r="1.4"/>
<circle cx="728.1" cy="97.1" r="1.0"/>
<circle cx="697.2" cy="131.5" r="2.0"/>
<circle cx="712.6" cy="123.1" r="1.9"/>
<circle cx="708.5" cy="136.3" r="1.5"/>
<circle cx="702.2" cy="104.5" r="1.1"/>
<circle cx="717.9" cy="135.4" r="2.0"/>
<circle cx="723.5" cy="149.4" r="1.3"/>
<circle cx="720.3" cy="94.7" r="2.2"/>
<circle cx="725.6" cy="97.2" r="1.3"/>
<circle cx="726.4" cy="94.4" r="3.9"/>
<circle cx="715.4" cy="102.3" r="3.0"/>
<circle cx="700.5" cy="105.9" r="3.0"/>
<circle cx="716.9" cy="134.2" r="1.0"/>
<circle cx="708.1" cy="128.4" r="2.6"/>
<circle cx="718.2" cy="103.3" r="2.7"/>
<circle cx="700.7" cy="109.2" r="1.3"/>
<circle cx="708.1" cy="145.0" r="1.7"/>
<circle cx="713.0" cy="115.0" r="1.5"/>
<circle cx="722.9" cy="107.2" r="2.4"/>
<circle cx="720.5" cy="143.8" r="4.1"/>
<circle cx="696.5" cy="131.8" r="1.2"/>
<circle cx="704.3" cy="124.6" r="1.1"/>
<circle cx="708.0" cy="110.6" r="2.1"/>
<circle cx="700.7" cy="140.0" r="1.2"/>
<circle cx="717.7" cy="110.1" r="2.3"/>
<circle cx="712.1" cy="113.2" r="1.5"/>
<circle cx="716.9" cy="154.3" r="4.4"/>
<circle cx="711.7" cy="136.4" r="2.5"/>
<circle cx="703.3" cy="139.9" r="1.9"/>
<circle cx="715.0" cy="134.7" r="2.5"/>
<circle cx="716.2" cy="97.1" r="1.2"/>
<circle cx="703.9" cy="100.3" r="1.2"/>
<circle cx="718.2" cy="150.5" r="1.8"/>
<circle cx="718.6" cy="147.8" r="1.2"/>
<circle cx="708.7" cy="105.5" r="1.7"/>
<circle cx="704.6" cy="110.0" r="2.1"/>
<circle cx="699.7" cy="139.5" r="1.7"/>
<circle cx="716.2" cy="148.4" r="2.0"/>
<circle cx="712.8" cy="96.2" r="1.9"/>
<circle cx="697.4" cy="114.9" r="0.9"/>
<circle cx="719.5" cy="95.6" r="1.6"/>
<circle cx="702.3" cy="130.8" r="1.4"/>
<circle cx="718.4" cy="122.7" r="3.0"/>
<circle cx="701.1" cy="114.7" r="2.9"/>
<circle cx="709.8" cy="147.2" r="1.4"/>
<circle cx="714.9" cy="138.7" r="2.5"/>
<circle cx="699.7" cy="121.2" r="1.6"/>
<circle cx="714.8" cy="103.2" r="2.2"/>
<circle cx="707.4" cy="124.2" r="1.1"/>
<circle cx="720.2" cy="104.0" r="2.3"/>
<circle cx="708.6" cy="128.7" r="2.3"/>
<circle cx="718.2" cy="137.9" r="1.1"/>
<circle cx="713.2" cy="134.6" r="2.1"/>
<circle cx="710.7" cy="134.4" r="3.0"/>
<circle cx="722.0" cy="95.1" r="1.7"/>
<circle cx="712.6" cy="128.3" r="5.7"/>
<circle cx="717.7" cy="108.8" r="1.3"/>
<circle cx="718.4" cy="111.8" r="1.2"/>
<circle cx="705.7" cy="135.4" r="1.1"/>
<circle cx="699.5" cy="140.9" r="2.5"/>
<circle cx="710.0" cy="125.3" r="1.0"/>
<circle cx="714.6" cy="125.0" r="2.3"/>
<circle cx="700.2" cy="139.1" r="1.6"/>
<circle cx="703.0" cy="113.4" r="2.4"/>
<circle cx="721.3" cy="154.9" r="1.9"/>
<circle cx="714.6" cy="112.7" r="1.7"/>
<circle cx="707.8" cy="130.9" r="2.3"/>
<circle cx="706.3" cy="139.8" r="2.5"/>
<circle cx="695.5" cy="131.3" r="2.7"/>
<circle cx="706.5" cy="141.3" r="2.6"/>
<circle cx="721.4" cy="103.8" r="2.4"/>
<circle cx="724.8" cy="158.0" r="1.4"/>
<circle cx="714.8" cy="108.5" r="1.6"/>
<circle cx="714.0" cy="150.2" r="1.1"/>
<circle cx="719.3" cy="149.0" r="1.6"/>
<circle cx="707.0" cy="105.5" r="1.6"/>
<circle cx="719.0" cy="154.6" r="4.8"/>
<circle cx="713.4" cy="97.1" r="3.6"/>
<circle cx="707.4" cy="139.2" r="1.2"/>
<circle cx="715.9" cy="100.1" r="3.5"/>
<circle cx="728.6" cy="95.0" r="1.3"/>
<circle cx="712.5" cy="123.1" r="1.9"/>
<circle cx="700.7" cy="113.2" r="3.5"/>
<circle cx="696.2" cy="112.0" r="1.1"/>
<circle cx="718.4" cy="130.6" r="1.1"/>
<circle cx="715.0" cy="129.1" r="1.2"/>
<circle cx="702.9" cy="130.9" r="2.8"/>
<circle cx="719.0" cy="130.9" r="1.4"/>
<circle cx="705.9" cy="136.3" r="1.5"/>
<circle cx="719.6" cy="154.7" r="1.2"/>
<circle cx="717.7" cy="128.7" r="2.1"/>
<circle cx="706.5" cy="122.3" r="1.5"/>
<circle cx="703.8" cy="135.1" r="1.7"/>
<circle cx="719.8" cy="156.4" r="1.3"/>
<circle cx="698.5" cy="129.8" r="1.4"/>
<circle cx="703.3" cy="141.6" r="2.8"/>
<circle cx="720.8" cy="99.9" r="5.8"/>
<circle cx="723.3" cy="150.6" r="2.2"/>
<circle cx="709.8" cy="114.6" r="1.5"/>
<circle cx="700.8" cy="116.0" r="1.2"/>
<circle cx="710.5" cy="126.8" r="1.9"/>
<circle cx="716.2" cy="149.5" r="1.3"/>
<circle cx="708.6" cy="119.1" r="1.8"/>
<circle cx="718.1" cy="113.2" r="2.6"/>
<circle cx="719.4" cy="118.5" r="1.5"/>
<circle cx="719.0" cy="111.9" r="1.3"/>
<circle cx="715.7" cy="137.9" r="2.6"/>
<circle cx="700.1" cy="130.1" r="1.6"/>
<circle cx="711.8" cy="149.3" r="1.3"/>
<circle cx="709.4" cy="96.3" r="1.7"/>
<circle cx="713.3" cy="124.7" r="2.3"/>
<circle cx="696.1" cy="137.7" r="2.2"/>
<circle cx="715.8" cy="129.4" r="2.0"/>
<circle cx="704.2" cy="145.6" r="6.0"/>
<circle cx="709.6" cy="137.0" r="1.7"/>
<circle cx="712.2" cy="106.1" r="1.2"/>
<circle cx="714.5" cy="138.4" r="1.7"/>
<circle cx="719.9" cy="113.1" r="1.0"/>
<circle cx="711.8" cy="98.7" r="2.0"/>
<circle cx="696.6" cy="135.3" r="1.2"/>
<circle cx="707.5" cy="142.0" r="1.2"/>
<circle cx="702.7" cy="123.5" r="3.1"/>
<circle cx="714.4" cy="122.0" r="1.8"/>
<circle cx="712.3" cy="112.2" r="1.8"/>
<circle cx="724.8" cy="102.0" r="1.5"/>
<circle cx="716.0" cy="135.9" r="4.6"/>
<circle cx="719.1" cy="150.7" r="1.3"/>
<circle cx="708.0" cy="129.2" r="1.4"/>
<circle cx="710.8" cy="136.3" r="1.7"/>
<circle cx="720.6" cy="146.9" r="1.7"/>
<circle cx="714.7" cy="137.7" r="0.9"/>
<circle cx="700.2" cy="105.0" r="2.9"/>
<circle cx="709.8" cy="152.4" r="1.3"/>
<circle cx="698.3" cy="138.9" r="2.4"/>
<circle cx="702.3" cy="135.5" r="2.7"/>
<circle cx="714.0" cy="105.7" r="2.0"/>
<circle cx="699.9" cy="141.6" r="1.4"/>
<circle cx="710.2" cy="134.6" r="2.1"/>
<circle cx="715.5" cy="132.1" r="1.5"/>
<circle cx="707.8" cy="110.2" r="1.2"/>
<circle cx="714.6" cy="154.8" r="0.9"/>
<circle cx="708.0" cy="143.4" r="2.2"/>
<circle cx="714.6" cy="148.4" r="1.8"/>
<circle cx="701.1" cy="135.6" r="3.0"/>
<circle cx="699.1" cy="117.5" r="1.7"/>
<circle cx="714.3" cy="137.2" r="4.3"/>
<circle cx="700.6" cy="139.9" r="1.8"/>
<circle cx="708.9" cy="121.5" r="1.5"/>
<circle cx="698.0" cy="133.2" r="2.1"/>
<circle cx="698.8" cy="139.1" r="2.1"/>
<circle cx="823.6" cy="170.2" r="1.1"/>
<circle cx="821.6" cy="190.8" r="2.6"/>
<circle cx="827.6" cy="195.8" r="1.1"/>
<circle cx="817.5" cy="185.9" r="2.3"/>
<circle cx="834.4" cy="182.2" r="1.6"/>
<circle cx="813.7" cy="185.7" r="5.1"/>
<circle cx="837.9" cy="185.4" r="1.8"/>
<circle cx="831.8" cy="187.5" r="3.5"/>
<circle cx="823.1" cy="204.7" r="3.4"/>
<circle cx="814.6" cy="186.5" r="1.7"/>
<circle cx="836.6" cy="174.0" r="2.0"/>
<circle cx="824.4" cy="186.3" r="1.8"/>
<circle cx="830.0" cy="200.7" r="2.5"/>
<circle cx="830.2" cy="171.4" r="1.4"/>
<circle cx="817.8" cy="183.8" r="3.8"/>
<circle cx="826.8" cy="204.5" r="1.9"/>
<circle cx="823.1" cy="186.0" r="2.0"/>
<circle cx="812.4" cy="182.0" r="1.8"/>
<circle cx="822.9" cy="170.7" r="1.9"/>
<circle cx="838.2" cy="177.4" r="1.6"/>
<circle cx="828.6" cy="188.1" r="5.7"/>
<circle cx="824.9" cy="207.4" r="1.6"/>
<circle cx="823.7" cy="186.0" r="2.0"/>
<circle cx="833.7" cy="205.9" r="2.6"/>
<circle cx="837.9" cy="179.6" r="2.0"/>
<circle cx="835.4" cy="197.5" r="1.7"/>
<circle cx="836.6" cy="168.6" r="2.1"/>
<circle cx="818.3" cy="170.5" r="2.5"/>
<circle cx="826.5" cy="168.1" r="2.2"/>
<circle cx="829.2" cy="205.6" r="3.4"/>
<circle cx="833.4" cy="171.5" r="1.8"/>
<circle cx="815.0" cy="179.4" r="1.8"/>
<circle cx="818.2" cy="196.7" r="1.5"/>
<circle cx="841.9" cy="185.8" r="1.4"/>
<circle cx="821.7" cy="204.0" r="2.0"/>
<circle cx="821.2" cy="196.8" r="1.6"/>
<circle cx="837.5" cy="191.3" r="2.3"/>
<circle cx="837.4" cy="185.7" r="1.7"/>
<circle cx="824.7" cy="196.0" r="1.9"/>
<circle cx="826.5" cy="178.8" r="3.7"/>
<circle cx="820.1" cy="184.3" r="2.5"/>
<circle cx="823.8" cy="198.2" r="2.7"/>
<circle cx="836.7" cy="200.1" r="1.4"/>
<circle cx="838.6" cy="181.1" r="1.3"/>
<circle cx="823.4" cy="201.9" r="1.5"/>
<circle cx="817.4" cy="195.9" r="2.8"/>
<circle cx="828.4" cy="194.4" r="1.3"/>
<circle cx="833.9" cy="194.5" r="1.9"/>
<circle cx="827.8" cy="194.1" r="3.3"/>
<circle cx="814.6" cy="185.3" r="1.6"/>
<circle cx="830.4" cy="195.8" r="1.8"/>
<circle cx="837.6" cy="173.2" r="2.3"/>
<circle cx="837.3" cy="181.9" r="1.1"/>
<circle cx="822.3" cy="172.2" r="2.9"/>
<circle cx="830.5" cy="192.0" r="1.6"/>
<circle cx="828.0" cy="169.6" r="6.0"/>
<circle cx="837.0" cy="179.1" r="1.1"/>
<circle cx="820.1" cy="193.3" r="1.4"/>
<circle cx="832.3" cy="199.7" r="0.9"/>
<circle cx="822.5" cy="184.0" r="2.9"/>
<circle cx="819.7" cy="176.2" r="3.1"/>
<circle cx="824.9" cy="199.6" r="1.4"/>
<circle cx="827.7" cy="201.7" r="2.7"/>
<circle cx="815.2" cy="177.9" r="2.2"/>
<circle cx="813.7" cy="188.9" r="1.3"/>
<circle cx="833.1" cy="174.1" r="1.3"/>
<circle cx="819.3" cy="171.3" r="1.1"/>
<circle cx="832.4" cy="187.7" r="1.1"/>
<circle cx="830.9" cy="192.2" r="2.2"/>
<circle cx="821.6" cy="197.9" r="3.9"/>
<circle cx="826.0" cy="207.9" r="2.2"/>
<circle cx="826.9" cy="165.7" r="1.0"/>
<circle cx="840.9" cy="177.3" r="1.5"/>
<circle cx="837.9" cy="192.0" r="1.7"/>
<circle cx="835.4" cy="197.5" r="1.1"/>
<circle cx="832.2" cy="179.5" r="1.3"/>
<circle cx="827.4" cy="177.4" r="2.0"/>
<circle cx="822.4" cy="185.4" r="1.6"/>
<circle cx="825.2" cy="177.9" r="1.4"/>
<circle cx="821.4" cy="178.8" r="1.1"/>
<circle cx="817.8" cy="190.7" r="2.5"/>
<circle cx="814.6" cy="176.1" r="2.1"/>
<circle cx="817.1" cy="196.1" r="3.7"/>
<circle cx="820.6" cy="169.6" r="1.2"/>
<circle cx="837.8" cy="184.4" r="2.3"/>
<circle cx="837.3" cy="179.2" r="2.3"/>
<circle cx="822.7" cy="189.7" r="1.9"/>
<circle cx="832.7" cy="198.6" r="1.4"/>
<circle cx="828.7" cy="183.3" r="1.5"/>
<circle cx="817.8" cy="172.7" r="1.8"/>
<circle cx="825.0" cy="196.9" r="1.0"/>
<circle cx="833.9" cy="186.8" r="2.3"/>
<circle cx="827.0" cy="189.4" r="1.8"/>
<circle cx="822.7" cy="197.8" r="1.6"/>
<circle cx="825.0" cy="187.3" r="1.9"/>
<circle cx="832.7" cy="180.3" r="1.8"/>
<circle cx="820.4" cy="180.0" r="2.1"/>
<circle cx="832.1" cy="191.0" r="1.9"/>
<circle cx="834.3" cy="202.9" r="1.3"/>
<circle cx="824.5" cy="195.4" r="1.4"/>
<circle cx="828.5" cy="180.4" r="1.8"/>
<circle cx="825.9" cy="180.0" r="1.7"/>
<circle cx="823.8" cy="193.7" r="3.1"/>
<circle cx="822.4" cy="202.4" r="1.4"/>
<circle cx="823.2" cy="184.2" r="1.5"/>
<circle cx="825.5" cy="204.7" r="1.6"/>
<circle cx="831.8" cy="195.2" r="1.1"/>
<circle cx="824.1" cy="182.2" r="1.9"/>
<circle cx="816.7" cy="171.4" r="1.3"/>
<circle cx="831.6" cy="180.2" r="1.5"/>
<circle cx="817.1" cy="173.7" r="1.3"/>
<circle cx="826.1" cy="205.0" r="1.7"/>
<circle cx="830.2" cy="197.6" r="1.9"/>
<circle cx="815.0" cy="195.5" r="1.7"/>
<circle cx="834.4" cy="191.8" r="2.0"/>
<circle cx="836.9" cy="196.7" r="1.2"/>
<circle cx="834.8" cy="180.7" r="1.5"/>
<circle cx="833.2" cy="178.9" r="3.5"/>
<circle cx="837.6" cy="186.1" r="1.5"/>
<circle cx="821.0" cy="176.4" r="2.1"/>
<circle cx="822.9" cy="181.3" r="2.6"/>
<circle cx="818.9" cy="174.8" r="1.0"/>
<circle cx="842.6" cy="183.6" r="1.9"/>
<circle cx="831.5" cy="195.9" r="1.5"/>
<circle cx="822.2" cy="206.1" r="1.9"/>
<circle cx="821.0" cy="173.6" r="1.7"/>
<circle cx="813.1" cy="176.7" r="2.1"/>
<circle cx="813.6" cy="192.7" r="1.2"/>
<circle cx="829.2" cy="206.5" r="1.1"/>
<circle cx="828.6" cy="172.9" r="2.0"/>
<circle cx="813.6" cy="187.3" r="1.9"/>
<circle cx="818.2" cy="193.3" r="1.0"/>
<circle cx="833.7" cy="198.5" r="3.2"/>
<circle cx="813.4" cy="186.3" r="1.6"/>
<circle cx="816.8" cy="171.7" r="1.7"/>
<circle cx="841.5" cy="189.7" r="1.1"/>
<circle cx="819.8" cy="186.4" r="1.8"/>
<circle cx="813.4" cy="174.7" r="2.0"/>
<circle cx="831.7" cy="195.6" r="2.2"/>
<circle cx="826.5" cy="198.3" r="1.2"/>
<circle cx="819.6" cy="203.0" r="5.7"/>
<circle cx="827.6" cy="200.9" r="2.3"/>
<circle cx="828.3" cy="201.7" r="2.5"/>
<circle cx="834.2" cy="193.2" r="3.6"/>
<circle cx="841.2" cy="188.0" r="1.7"/>
<circle cx="834.2" cy="194.4" r="4.5"/>
<circle cx="824.2" cy="188.3" r="1.0"/>
<circle cx="842.7" cy="186.6" r="1.0"/>
<circle cx="830.0" cy="195.4" r="1.7"/>
<circle cx="824.3" cy="168.8" r="1.8"/>
<circle cx="836.9" cy="198.2" r="1.7"/>
<circle cx="823.8" cy="169.5" r="1.5"/>
<circle cx="838.4" cy="199.2" r="2.2"/>
<circle cx="838.3" cy="201.0" r="2.2"/>
<circle cx="820.1" cy="192.5" r="1.5"/>
<circle cx="826.5" cy="182.3" r="1.8"/>
<circle cx="824.7" cy="194.7" r="2.1"/>
<circle cx="823.4" cy="192.7" r="1.9"/>
<circle cx="831.7" cy="183.0" r="1.1"/>
<circle cx="832.3" cy="193.9" r="1.5"/>
<circle cx="835.5" cy="172.5" r="1.5"/>
<circle cx="832.5" cy="183.5" r="2.9"/>
<circle cx="839.7" cy="192.3" r="1.3"/>
<circle cx="837.5" cy="200.7" r="1.6"/>
<circle cx="841.9" cy="195.4" r="1.6"/>
<circle cx="825.2" cy="194.5" r="1.5"/>
<circle cx="815.9" cy="193.1" r="1.1"/>
<circle cx="841.6" cy="178.8" r="3.4"/>
<circle cx="824.3" cy="206.3" r="1.7"/>
<circle cx="837.1" cy="182.0" r="2.1"/>
<circle cx="832.7" cy="187.5" r="1.9"/>
<circle cx="821.9" cy="186.1" r="1.5"/>
<circle cx="814.0" cy="193.5" r="1.7"/>
<circle cx="816.3" cy="187.4" r="2.8"/>
<circle cx="834.1" cy="177.7" r="1.1"/>
<circle cx="840.6" cy="191.8" r="1.7"/>
<circle cx="831.0" cy="183.6" r="1.9"/>
<circle cx="815.1" cy="183.1" r="1.5"/>
<circle cx="835.3" cy="190.7" r="1.5"/>
<circle cx="830.6" cy="177.4" r="2.2"/>
<circle cx="827.9" cy="184.7" r="1.6"/>
<circle cx="825.6" cy="187.2" r="3.7"/>
<circle cx="821.0" cy="190.0" r="2.2"/>
<circle cx="821.6" cy="182.1" r="3.0"/>
<circle cx="823.2" cy="172.4" r="2.2"/>
<circle cx="824.1" cy="181.5" r="1.3"/>
<circle cx="840.2" cy="188.8" r="1.7"/>
<circle cx="839.4" cy="183.0" r="1.7"/>
<circle cx="824.1" cy="189.2" r="1.7"/>
<circle cx="833.3" cy="202.3" r="2.1"/>
<circle cx="837.7" cy="178.9" r="2.1"/>
<circle cx="835.1" cy="181.7" r="1.8"/>
<circle cx="838.7" cy="195.7" r="1.2"/>
<circle cx="816.3" cy="176.2" r="3.2"/>
<circle cx="821.6" cy="187.7" r="1.5"/>
<circle cx="830.9" cy="170.0" r="1.4"/>
<circle cx="814.5" cy="194.3" r="1.0"/>
<circle cx="832.9" cy="194.1" r="2.2"/>
<circle cx="821.5" cy="180.0" r="2.5"/>
<circle cx="832.4" cy="169.4" r="2.5"/>
<circle cx="820.5" cy="172.9" r="1.0"/>
<circle cx="813.2" cy="185.9" r="2.6"/>
<circle cx="818.2" cy="186.3" r="1.5"/>
<circle cx="818.2" cy="199.9" r="1.6"/>
<circle cx="832.6" cy="172.1" r="4.1"/>
<circle cx="823.7" cy="181.9" r="2.1"/>
<circle cx="826.2" cy="194.7" r="2.5"/>
<circle cx="833.9" cy="169.3" r="1.7"/>
<circle cx="838.6" cy="181.4" r="1.5"/>
<circle cx="812.5" cy="182.8" r="2.7"/>
<circle cx="825.1" cy="183.1" r="1.7"/>
<circle cx="830.7" cy="199.5" r="1.9"/>
<circle cx="833.2" cy="203.6" r="1.5"/>
<circle cx="826.1" cy="203.8" r="1.9"/>
<circle cx="824.0" cy="170.1" r="2.1"/>
<circle cx="815.7" cy="175.2" r="1.3"/>
<circle cx="839.2" cy="179.9" r="1.1"/>
<circle cx="819.8" cy="173.7" r="1.6"/>
<circle cx="831.7" cy="177.7" r="1.1"/>
<circle cx="828.9" cy="184.3" r="1.6"/>
<circle cx="834.6" cy="174.0" r="2.6"/>
<circle cx="820.9" cy="171.3" r="1.6"/>
<circle cx="822.0" cy="201.7" r="0.9"/>
<circle cx="838.6" cy="197.3" r="1.3"/>
<circle cx="839.3" cy="173.7" r="1.9"/>
<circle cx="840.6" cy="188.8" r="1.8"/>
<circle cx="815.8" cy="191.7" r="1.3"/>
<circle cx="825.9" cy="168.3" r="2.1"/>
<circle cx="830.3" cy="173.7" r="1.3"/>
<circle cx="833.0" cy="195.6" r="3.1"/>
<circle cx="838.5" cy="180.2" r="2.4"/>
<circle cx="827.3" cy="167.0" r="4.6"/>
<circle cx="821.6" cy="203.3" r="2.1"/>
<circle cx="831.6" cy="190.7" r="1.9"/>
<circle cx="812.2" cy="183.9" r="1.2"/>
<circle cx="815.6" cy="182.1" r="1.8"/>
<circle cx="824.1" cy="183.8" r="1.2"/>
<circle cx="821.7" cy="199.4" r="2.6"/>
<circle cx="826.4" cy="204.9" r="1.3"/>
<circle cx="822.6" cy="171.5" r="4.5"/>
<circle cx="817.8" cy="175.0" r="1.9"/>
<circle cx="840.9" cy="171.7" r="1.2"/>
<circle cx="840.9" cy="179.2" r="1.4"/>
<circle cx="824.8" cy="207.9" r="2.6"/>
<circle cx="844.4" cy="182.9" r="2.5"/>
<circle cx="830.4" cy="167.9" r="4.6"/>
<circle cx="809.3" cy="179.6" r="2.2"/>
<circle cx="841.4" cy="183.0" r="1.9"/>
<circle cx="822.7" cy="207.7" r="2.1"/>
<circle cx="837.6" cy="165.3" r="1.2"/>
<circle cx="816.5" cy="173.0" r="1.4"/>
<circle cx="827.1" cy="207.5" r="1.3"/>
<circle cx="838.7" cy="183.3" r="1.2"/>
<circle cx="819.9" cy="165.0" r="4.8"/>
<circle cx="825.3" cy="216.6" r="1.3"/>
<circle cx="833.3" cy="207.0" r="2.6"/>
<circle cx="817.5" cy="209.6" r="6.3"/>
<circle cx="833.8" cy="170.9" r="1.0"/>
<circle cx="829.0" cy="205.6" r="1.8"/>
<circle cx="837.6" cy="184.0" r="2.3"/>
<circle cx="809.7" cy="185.0" r="1.2"/>
<circle cx="843.5" cy="198.4" r="1.6"/>
<circle cx="833.2" cy="167.6" r="3.0"/>
<circle cx="838.2" cy="205.6" r="2.9"/>
<circle cx="812.4" cy="172.0" r="1.3"/>
<circle cx="813.3" cy="186.1" r="4.1"/>
<circle cx="839.2" cy="184.6" r="3.3"/>
<circle cx="826.6" cy="208.3" r="2.6"/>
<circle cx="843.9" cy="184.8" r="1.1"/>
<circle cx="840.0" cy="202.6" r="1.4"/>
<circle cx="839.3" cy="201.5" r="2.1"/>
<circle cx="832.4" cy="166.5" r="1.7"/>
<circle cx="814.5" cy="179.5" r="1.8"/>
<circle cx="823.4" cy="164.4" r="2.1"/>
<circle cx="809.1" cy="181.4" r="1.9"/>
<circle cx="807.4" cy="192.3" r="2.4"/>
<circle cx="813.3" cy="192.5" r="3.4"/>
<circle cx="836.3" cy="187.6" r="2.0"/>
<circle cx="823.4" cy="165.0" r="1.6"/>
<circle cx="835.3" cy="169.5" r="1.8"/>
<circle cx="820.3" cy="205.3" r="1.2"/>
<circle cx="840.1" cy="169.9" r="1.9"/>
<circle cx="809.3" cy="183.5" r="2.9"/>
<circle cx="814.5" cy="203.2" r="1.0"/>
<circle cx="819.1" cy="194.2" r="1.0"/>
<circle cx="835.8" cy="201.6" r="2.6"/>
<circle cx="841.0" cy="171.0" r="1.4"/>
<circle cx="809.0" cy="172.9" r="1.7"/>
<circle cx="841.7" cy="194.4" r="2.1"/>
<circle cx="842.2" cy="194.2" r="3.6"/>
<circle cx="835.4" cy="170.1" r="2.6"/>
<circle cx="813.6" cy="192.1" r="2.6"/>
<circle cx="826.8" cy="163.6" r="2.3"/>
<circle cx="841.6" cy="198.7" r="1.3"/>
<circle cx="814.3" cy="181.4" r="2.1"/>
<circle cx="828.6" cy="163.4" r="3.3"/>
<circle cx="815.0" cy="186.5" r="0.9"/>
<circle cx="826.0" cy="160.7" r="1.0"/>
<circle cx="826.2" cy="211.7" r="2.3"/>
<circle cx="819.7" cy="205.5" r="1.2"/>
<circle cx="816.6" cy="194.0" r="1.6"/>
<circle cx="814.7" cy="191.1" r="2.0"/>
<circle cx="832.8" cy="169.5" r="3.5"/>
<circle cx="811.8" cy="192.9" r="1.8"/>
<circle cx="813.9" cy="195.2" r="2.0"/>
<circle cx="810.2" cy="180.5" r="3.0"/>
<circle cx="839.0" cy="197.7" r="1.4"/>
<circle cx="842.5" cy="204.2" r="1.1"/>
<circle cx="836.2" cy="208.9" r="3.0"/>
<circle cx="816.3" cy="167.8" r="1.0"/>
<circle cx="832.7" cy="208.6" r="1.1"/>
<circle cx="841.8" cy="172.9" r="1.2"/>
<circle cx="842.1" cy="172.9" r="2.4"/>
<circle cx="827.1" cy="208.0" r="2.4"/>
<circle cx="844.3" cy="193.4" r="2.2"/>
<circle cx="836.3" cy="205.5" r="2.7"/>
<circle cx="826.0" cy="169.6" r="1.3"/>
<circle cx="829.9" cy="209.3" r="1.6"/>
<circle cx="827.8" cy="168.1" r="5.2"/>
<circle cx="833.7" cy="200.1" r="1.8"/>
<circle cx="816.4" cy="206.6" r="1.8"/>
<circle cx="821.5" cy="171.5" r="1.2"/>
<circle cx="814.9" cy="179.7" r="2.0"/>
<circle cx="842.4" cy="171.4" r="2.3"/>
<circle cx="822.2" cy="174.6" r="2.4"/>
<circle cx="810.9" cy="193.9" r="1.7"/>
<circle cx="829.8" cy="168.6" r="1.9"/>
<circle cx="812.8" cy="188.6" r="1.6"/>
<circle cx="832.5" cy="210.4" r="1.0"/>
<circle cx="823.0" cy="202.0" r="2.9"/>
<circle cx="816.3" cy="170.2" r="2.9"/>
<circle cx="817.5" cy="200.2" r="1.3"/>
<circle cx="845.3" cy="183.7" r="1.6"/>
<circle cx="814.1" cy="196.3" r="1.9"/>
<circle cx="823.9" cy="198.0" r="2.1"/>
<circle cx="843.8" cy="175.7" r="4.7"/>
<circle cx="805.5" cy="182.3" r="1.8"/>
<circle cx="845.1" cy="185.6" r="2.0"/>
<circle cx="839.7" cy="199.4" r="1.1"/>
<circle cx="820.1" cy="194.5" r="1.9"/>
<circle cx="836.1" cy="172.4" r="1.6"/>
<circle cx="817.0" cy="199.8" r="4.0"/>
<circle cx="844.1" cy="183.5" r="3.5"/>
<circle cx="837.7" cy="173.5" r="5.7"/>
<circle cx="816.4" cy="167.9" r="1.6"/>
<circle cx="816.1" cy="197.3" r="2.5"/>
<circle cx="814.7" cy="195.7" r="1.3"/>
<circle cx="813.5" cy="200.8" r="3.1"/>
<circle cx="813.8" cy="189.5" r="5.1"/>
<circle cx="842.9" cy="187.9" r="1.8"/>
<circle cx="707.2" cy="96.6" r="2.3"/>
<circle cx="758.2" cy="128.3" r="2.8"/>
<circle cx="729.7" cy="154.2" r="1.3"/>
<circle cx="785.2" cy="148.9" r="2.5"/>
<circle cx="814.3" cy="107.6" r="1.6"/>
<circle cx="696.7" cy="102.4" r="1.1"/>
<circle cx="726.7" cy="153.3" r="1.3"/>
<circle cx="777.9" cy="101.5" r="2.1"/>
<circle cx="807.6" cy="146.1" r="1.9"/>
<circle cx="777.8" cy="119.4" r="1.4"/>
<circle cx="778.4" cy="131.8" r="1.6"/>
<circle cx="784.3" cy="188.2" r="3.8"/>
<circle cx="786.5" cy="169.6" r="2.4"/>
<circle cx="820.8" cy="152.4" r="1.3"/>
<circle cx="787.7" cy="98.7" r="5.6"/>
<circle cx="728.2" cy="139.8" r="2.7"/>
<circle cx="752.9" cy="133.3" r="1.6"/>
<circle cx="774.8" cy="129.6" r="1.2"/>
<circle cx="742.0" cy="164.4" r="2.8"/>
<circle cx="759.7" cy="90.3" r="6.0"/>
<circle cx="751.1" cy="139.7" r="1.4"/>
<circle cx="745.5" cy="135.1" r="1.7"/>
<circle cx="790.3" cy="113.8" r="1.8"/>
<circle cx="755.5" cy="173.9" r="1.2"/>
<circle cx="732.9" cy="101.3" r="6.3"/>
<circle cx="745.0" cy="132.7" r="3.1"/>
<circle cx="769.2" cy="133.9" r="2.0"/>
<circle cx="835.9" cy="78.8" r="1.9"/>
<circle cx="776.3" cy="97.3" r="1.9"/>
<circle cx="815.7" cy="108.4" r="1.6"/>
<circle cx="783.9" cy="151.1" r="1.8"/>
<circle cx="698.9" cy="154.9" r="2.6"/>
<circle cx="780.2" cy="146.4" r="1.6"/>
<circle cx="740.6" cy="137.8" r="2.3"/>
<circle cx="724.5" cy="78.6" r="1.1"/>
<circle cx="733.4" cy="137.2" r="1.7"/>
<circle cx="825.5" cy="119.5" r="2.3"/>
<circle cx="717.2" cy="160.4" r="1.9"/>
<circle cx="748.1" cy="164.6" r="1.4"/>
<circle cx="805.3" cy="186.3" r="2.1"/>
<circle cx="789.4" cy="149.2" r="3.2"/>
<circle cx="712.9" cy="151.7" r="1.0"/>
<circle cx="764.4" cy="106.9" r="1.9"/>
<circle cx="751.4" cy="133.8" r="1.8"/>
<circle cx="761.7" cy="101.9" r="1.9"/>
<circle cx="792.2" cy="153.7" r="1.2"/>
<circle cx="749.4" cy="102.9" r="3.0"/>
<circle cx="757.7" cy="126.7" r="3.2"/>
<circle cx="815.0" cy="112.0" r="1.7"/>
<circle cx="708.6" cy="120.5" r="2.3"/>
<circle cx="756.0" cy="143.0" r="2.4"/>
<circle cx="783.1" cy="118.2" r="4.2"/>
<circle cx="727.8" cy="137.2" r="1.2"/>
<circle cx="747.6" cy="107.5" r="1.4"/>
<circle cx="725.6" cy="165.8" r="2.4"/>
<circle cx="773.0" cy="116.2" r="2.2"/>
<circle cx="747.9" cy="156.5" r="1.7"/>
<circle cx="793.3" cy="183.8" r="1.7"/>
<circle cx="800.8" cy="72.6" r="1.7"/>
<circle cx="769.4" cy="107.7" r="1.6"/>
<circle cx="755.7" cy="126.8" r="1.1"/>
<circle cx="776.3" cy="160.3" r="2.9"/>
<circle cx="769.8" cy="120.0" r="1.1"/>
<circle cx="728.7" cy="141.0" r="2.1"/>
<circle cx="802.5" cy="114.0" r="1.4"/>
<circle cx="775.2" cy="145.5" r="2.8"/>
<circle cx="793.3" cy="102.2" r="1.3"/>
<circle cx="724.0" cy="152.2" r="1.4"/>
<circle cx="796.2" cy="58.9" r="2.5"/>
<circle cx="835.8" cy="85.7" r="1.3"/>
<circle cx="787.8" cy="176.1" r="2.3"/>
<circle cx="721.1" cy="136.0" r="1.5"/>
<circle cx="769.1" cy="109.9" r="1.7"/>
<circle cx="766.0" cy="185.5" r="2.6"/>
<circle cx="774.9" cy="157.4" r="2.5"/>
<circle cx="760.3" cy="159.3" r="1.5"/>
<circle cx="783.9" cy="121.4" r="2.1"/>
<circle cx="752.9" cy="146.9" r="5.1"/>
<circle cx="775.3" cy="144.1" r="4.2"/>
<circle cx="745.6" cy="91.3" r="1.4"/>
<circle cx="771.0" cy="146.2" r="3.5"/>
<circle cx="800.0" cy="127.2" r="1.4"/>
<circle cx="752.0" cy="163.2" r="1.2"/>
<circle cx="789.4" cy="163.6" r="5.6"/>
<circle cx="739.2" cy="116.0" r="1.8"/>
<circle cx="755.8" cy="117.0" r="4.5"/>
<circle cx="760.2" cy="136.4" r="1.3"/>
<circle cx="808.1" cy="147.7" r="1.7"/>
<circle cx="743.1" cy="121.7" r="1.4"/>
<circle cx="807.1" cy="128.9" r="1.8"/>
<circle cx="627.0" cy="110.3" r="1.7"/>
<circle cx="623.8" cy="123.2" r="1.7"/>
<circle cx="642.6" cy="119.1" r="1.3"/>
<circle cx="650.7" cy="120.1" r="2.7"/>
<circle cx="653.4" cy="127.4" r="1.5"/>
<circle cx="644.8" cy="104.6" r="2.3"/>
<circle cx="636.0" cy="123.1" r="6.3"/>
<circle cx="644.9" cy="114.5" r="3.9"/>
<circle cx="652.7" cy="123.1" r="2.1"/>
<circle cx="641.1" cy="125.6" r="2.4"/>
<circle cx="645.8" cy="118.6" r="1.2"/>
<circle cx="640.9" cy="118.6" r="2.4"/>
<circle cx="638.0" cy="111.3" r="1.1"/>
<circle cx="645.5" cy="127.1" r="1.4"/>
<circle cx="630.1" cy="115.8" r="4.1"/>
<circle cx="659.1" cy="126.1" r="1.7"/>
<circle cx="624.1" cy="108.8" r="2.8"/>
<circle cx="651.2" cy="134.6" r="2.6"/>
<circle cx="626.8" cy="112.6" r="1.1"/>
<circle cx="665.3" cy="132.7" r="1.2"/>
<circle cx="656.7" cy="117.9" r="3.0"/>
<circle cx="634.1" cy="127.0" r="1.8"/>
<circle cx="639.0" cy="120.7" r="1.9"/>
<circle cx="629.9" cy="128.3" r="4.4"/>
<circle cx="644.2" cy="122.0" r="2.3"/>
<circle cx="650.5" cy="133.7" r="1.6"/>
<circle cx="679.2" cy="128.2" r="3.9"/>
<circle cx="626.7" cy="128.3" r="2.8"/>
<circle cx="661.6" cy="137.4" r="1.7"/>
<circle cx="637.2" cy="115.6" r="2.0"/>
<circle cx="648.7" cy="134.0" r="1.2"/>
<circle cx="656.8" cy="122.7" r="2.6"/>
<circle cx="652.3" cy="108.3" r="4.1"/>
<circle cx="650.7" cy="126.4" r="4.0"/>
<circle cx="642.4" cy="120.1" r="1.5"/>
<circle cx="644.9" cy="137.6" r="3.7"/>
<circle cx="647.0" cy="117.5" r="1.2"/>
<circle cx="661.0" cy="122.5" r="1.6"/>
<circle cx="625.4" cy="124.2" r="1.9"/>
<circle cx="638.4" cy="104.4" r="5.9"/>
<circle cx="628.3" cy="126.7" r="6.4"/>
<circle cx="632.1" cy="112.8" r="4.4"/>
<circle cx="634.3" cy="135.0" r="6.0"/>
<circle cx="659.7" cy="137.4" r="1.3"/>
<circle cx="673.7" cy="121.9" r="2.0"/>
<circle cx="663.1" cy="107.4" r="1.3"/>
<circle cx="629.2" cy="123.7" r="2.0"/>
<circle cx="646.0" cy="123.6" r="3.0"/>
<circle cx="629.8" cy="128.6" r="3.4"/>
<circle cx="651.0" cy="119.3" r="1.5"/>
<circle cx="662.0" cy="111.0" r="4.7"/>
<circle cx="652.9" cy="120.7" r="1.8"/>
<circle cx="656.6" cy="113.5" r="1.4"/>
<circle cx="643.0" cy="138.4" r="1.0"/>
<circle cx="618.7" cy="115.5" r="1.6"/>
<circle cx="618.5" cy="116.0" r="1.1"/>
<circle cx="643.7" cy="121.6" r="3.0"/>
<circle cx="652.7" cy="110.6" r="2.2"/>
<circle cx="662.0" cy="117.9" r="2.1"/>
<circle cx="640.3" cy="120.8" r="1.7"/>
<circle cx="646.0" cy="117.5" r="1.4"/>
<circle cx="648.4" cy="119.7" r="5.9"/>
<circle cx="659.2" cy="133.5" r="3.3"/>
<circle cx="644.1" cy="126.0" r="2.4"/>
<circle cx="630.4" cy="109.7" r="1.8"/>
<circle cx="659.5" cy="118.0" r="2.1"/>
<circle cx="650.5" cy="128.9" r="2.0"/>
<circle cx="650.1" cy="116.0" r="1.2"/>
<circle cx="628.0" cy="122.8" r="1.2"/>
<circle cx="644.9" cy="121.7" r="1.8"/>
<circle cx="622.0" cy="126.9" r="6.5"/>
<circle cx="618.2" cy="120.3" r="1.5"/>
<circle cx="641.8" cy="120.7" r="4.4"/>
<circle cx="639.2" cy="114.1" r="4.7"/>
<circle cx="652.6" cy="125.3" r="6.3"/>
<circle cx="664.2" cy="113.4" r="6.2"/>
<circle cx="644.5" cy="138.0" r="1.7"/>
<circle cx="668.9" cy="121.8" r="1.1"/>
<circle cx="637.1" cy="119.9" r="1.4"/>
<circle cx="655.2" cy="129.3" r="1.1"/>
<circle cx="650.8" cy="152.2" r="2.7"/>
<circle cx="664.5" cy="180.5" r="1.6"/>
<circle cx="668.5" cy="136.3" r="1.9"/>
<circle cx="660.2" cy="155.2" r="3.2"/>
<circle cx="638.8" cy="128.8" r="1.3"/>
<circle cx="628.8" cy="148.5" r="3.9"/>
<circle cx="632.5" cy="160.4" r="2.0"/>
<circle cx="623.1" cy="167.6" r="2.0"/>
<circle cx="670.6" cy="135.5" r="1.2"/>
<circle cx="644.0" cy="163.7" r="1.8"/>
<circle cx="648.2" cy="163.0" r="1.5"/>
<circle cx="649.1" cy="150.9" r="3.1"/>
<circle cx="673.5" cy="185.5" r="1.9"/>
<circle cx="639.0" cy="152.6" r="1.3"/>
<circle cx="662.3" cy="140.8" r="1.4"/>
<circle cx="650.6" cy="158.2" r="5.7"/>
<circle cx="644.5" cy="127.6" r="1.5"/>
<circle cx="620.9" cy="173.4" r="1.7"/>
<circle cx="658.8" cy="165.8" r="2.5"/>
<circle cx="636.6" cy="147.2" r="1.5"/>
<circle cx="640.4" cy="160.8" r="3.0"/>
<circle cx="649.6" cy="159.7" r="2.1"/>
<circle cx="647.8" cy="178.4" r="1.5"/>
<circle cx="661.6" cy="144.3" r="2.1"/>
<circle cx="637.6" cy="135.3" r="2.9"/>
<circle cx="648.7" cy="125.3" r="3.8"/>
<circle cx="650.3" cy="148.6" r="1.5"/>
<circle cx="646.9" cy="131.5" r="1.5"/>
<circle cx="655.6" cy="150.2" r="2.0"/>
<circle cx="643.1" cy="158.0" r="1.8"/>
<circle cx="662.7" cy="146.6" r="1.8"/>
<circle cx="637.1" cy="139.9" r="2.0"/>
<circle cx="627.3" cy="168.5" r="1.3"/>
<circle cx="646.0" cy="149.9" r="2.3"/>
<circle cx="662.4" cy="155.7" r="1.6"/>
<circle cx="639.7" cy="165.3" r="1.4"/>
<circle cx="638.2" cy="135.1" r="3.1"/>
<circle cx="641.9" cy="140.2" r="2.1"/>
<circle cx="648.8" cy="186.0" r="2.6"/>
<circle cx="644.2" cy="150.4" r="2.1"/>
<circle cx="650.7" cy="138.6" r="1.2"/>
<circle cx="623.6" cy="149.1" r="1.0"/>
<circle cx="666.6" cy="144.9" r="1.3"/>
<circle cx="654.4" cy="136.1" r="2.1"/>
<circle cx="635.0" cy="147.1" r="1.6"/>
<circle cx="664.9" cy="152.3" r="1.6"/>
<circle cx="652.6" cy="152.3" r="1.9"/>
<circle cx="666.3" cy="159.7" r="1.5"/>
<circle cx="630.8" cy="129.3" r="1.5"/>
<circle cx="668.8" cy="132.5" r="1.5"/>
<circle cx="647.2" cy="163.1" r="4.8"/>
<circle cx="619.0" cy="146.6" r="1.2"/>
<circle cx="656.6" cy="168.8" r="2.1"/>
<circle cx="642.5" cy="156.6" r="1.7"/>
<circle cx="633.0" cy="133.7" r="4.4"/>
<circle cx="643.7" cy="159.7" r="1.4"/>
<circle cx="620.6" cy="139.0" r="2.5"/>
<circle cx="654.4" cy="156.0" r="1.1"/>
<circle cx="643.7" cy="169.0" r="1.5"/>
<circle cx="642.9" cy="180.8" r="2.5"/>
<circle cx="665.5" cy="151.6" r="1.9"/>
<circle cx="647.0" cy="161.9" r="3.7"/>
<circle cx="637.7" cy="156.6" r="1.2"/>
<circle cx="633.8" cy="163.1" r="1.2"/>
<circle cx="645.7" cy="118.4" r="1.8"/>
<circle cx="660.8" cy="147.3" r="1.8"/>
<circle cx="638.8" cy="156.4" r="2.8"/>
<circle cx="632.7" cy="158.8" r="1.4"/>
<circle cx="658.9" cy="142.5" r="1.5"/>
<circle cx="647.4" cy="163.6" r="1.5"/>
<circle cx="708.4" cy="227.6" r="3.1"/>
<circle cx="706.0" cy="218.8" r="1.8"/>
<circle cx="718.6" cy="232.0" r="1.4"/>
<circle cx="696.9" cy="218.6" r="1.5"/>
<circle cx="716.4" cy="230.5" r="1.8"/>
<circle cx="719.5" cy="224.0" r="1.0"/>
<circle cx="715.5" cy="227.3" r="1.4"/>
<circle cx="706.3" cy="216.1" r="1.8"/>
<circle cx="708.1" cy="199.7" r="2.2"/>
<circle cx="689.5" cy="196.8" r="1.8"/>
<circle cx="706.8" cy="244.4" r="2.2"/>
<circle cx="711.4" cy="222.4" r="1.4"/>
<circle cx="717.7" cy="223.2" r="1.4"/>
<circle cx="709.8" cy="214.7" r="1.1"/>
<circle cx="704.0" cy="210.6" r="4.0"/>
<circle cx="699.1" cy="257.2" r="2.7"/>
<circle cx="707.7" cy="201.3" r="1.9"/>
<circle cx="709.7" cy="216.1" r="1.8"/>
<circle cx="721.4" cy="216.3" r="1.3"/>
<circle cx="708.3" cy="201.2" r="1.2"/>
<circle cx="702.8" cy="199.2" r="2.0"/>
<circle cx="707.0" cy="207.2" r="1.6"/>
<circle cx="702.9" cy="212.2" r="1.8"/>
<circle cx="705.7" cy="210.2" r="1.9"/>
<circle cx="684.2" cy="228.4" r="1.1"/>
<circle cx="690.9" cy="200.5" r="2.4"/>
<circle cx="695.2" cy="222.7" r="1.5"/>
<circle cx="713.3" cy="237.6" r="2.9"/>
<circle cx="707.4" cy="229.5" r="1.4"/>
<circle cx="709.8" cy="201.1" r="2.7"/>
<circle cx="720.9" cy="175.7" r="2.6"/>
<circle cx="696.9" cy="228.8" r="1.7"/>
<circle cx="720.6" cy="224.0" r="1.5"/>
<circle cx="712.4" cy="208.8" r="2.0"/>
<circle cx="700.4" cy="234.9" r="1.8"/>
<circle cx="724.4" cy="211.3" r="1.7"/>
<circle cx="692.7" cy="218.5" r="1.3"/>
<circle cx="695.9" cy="202.5" r="1.0"/>
<circle cx="705.9" cy="221.5" r="5.2"/>
<circle cx="712.6" cy="211.0" r="1.2"/>
<circle cx="706.1" cy="210.0" r="1.6"/>
<circle cx="685.0" cy="232.1" r="1.7"/>
<circle cx="704.9" cy="220.0" r="2.2"/>
<circle cx="707.3" cy="196.1" r="1.8"/>
<circle cx="735.9" cy="226.7" r="1.5"/>
<circle cx="723.1" cy="228.7" r="1.6"/>
<circle cx="709.5" cy="205.3" r="3.1"/>
<circle cx="696.3" cy="211.5" r="2.3"/>
<circle cx="711.9" cy="217.8" r="1.9"/>
<circle cx="695.5" cy="213.5" r="3.2"/>
<circle cx="710.4" cy="218.7" r="2.0"/>
<circle cx="712.2" cy="226.1" r="2.6"/>
<circle cx="703.8" cy="210.1" r="2.0"/>
<circle cx="710.9" cy="246.1" r="2.5"/>
<circle cx="704.6" cy="207.0" r="2.4"/>
<circle cx="702.0" cy="209.5" r="1.0"/>
<circle cx="724.9" cy="244.6" r="6.1"/>
<circle cx="714.5" cy="250.4" r="1.3"/>
<circle cx="704.8" cy="217.5" r="1.6"/>
<circle cx="699.8" cy="214.4" r="3.5"/>
<circle cx="710.1" cy="202.0" r="1.4"/>
<circle cx="714.3" cy="233.0" r="6.4"/>
<circle cx="717.4" cy="219.4" r="2.4"/>
<circle cx="724.2" cy="205.2" r="3.7"/>
<circle cx="713.2" cy="222.7" r="6.3"/>
<circle cx="696.0" cy="236.2" r="6.0"/>
<circle cx="730.2" cy="226.6" r="1.0"/>
<circle cx="720.8" cy="247.9" r="1.8"/>
<circle cx="717.2" cy="233.2" r="2.2"/>
<circle cx="722.7" cy="223.2" r="2.0"/>
<circle cx="692.0" cy="216.5" r="1.6"/>
<circle cx="704.1" cy="224.7" r="1.3"/>
<circle cx="702.6" cy="234.0" r="1.6"/>
<circle cx="721.1" cy="229.0" r="1.7"/>
<circle cx="695.4" cy="231.8" r="2.1"/>
<circle cx="704.7" cy="220.1" r="2.0"/>
<circle cx="724.6" cy="227.7" r="5.1"/>
<circle cx="715.2" cy="234.0" r="1.7"/>
<circle cx="704.0" cy="214.7" r="1.8"/>
<circle cx="728.6" cy="198.9" r="1.8"/>
<circle cx="693.7" cy="241.2" r="1.5"/>
<circle cx="713.1" cy="225.2" r="1.4"/>
<circle cx="705.7" cy="210.8" r="1.1"/>
<circle cx="713.7" cy="220.3" r="3.4"/>
<circle cx="705.2" cy="213.5" r="1.1"/>
<circle cx="699.1" cy="193.1" r="1.9"/>
<circle cx="710.5" cy="214.4" r="1.0"/>
<circle cx="693.9" cy="197.1" r="1.8"/>
<circle cx="713.9" cy="219.8" r="1.1"/>
<circle cx="704.7" cy="215.5" r="1.2"/>
<circle cx="718.2" cy="232.9" r="1.7"/>
<circle cx="703.3" cy="215.3" r="1.7"/>
<circle cx="700.9" cy="222.2" r="2.2"/>
<circle cx="712.5" cy="212.8" r="1.9"/>
<circle cx="721.5" cy="211.7" r="1.4"/>
<circle cx="685.7" cy="197.4" r="1.6"/>
<circle cx="709.4" cy="230.9" r="6.4"/>
<circle cx="714.9" cy="219.4" r="5.6"/>
<circle cx="692.7" cy="208.8" r="2.4"/>
<circle cx="698.6" cy="219.9" r="1.3"/>
<circle cx="715.1" cy="211.2" r="1.3"/>
<circle cx="699.2" cy="206.9" r="1.1"/>
<circle cx="701.2" cy="220.5" r="4.3"/>
<circle cx="726.7" cy="234.0" r="3.1"/>
<circle cx="697.9" cy="213.2" r="1.5"/>
<circle cx="698.8" cy="197.1" r="1.4"/>
<circle cx="683.0" cy="208.4" r="1.2"/>
<circle cx="696.2" cy="242.2" r="2.5"/>
<circle cx="694.8" cy="205.6" r="1.5"/>
<circle cx="726.7" cy="233.6" r="1.9"/>
<circle cx="721.3" cy="213.7" r="4.1"/>
<circle cx="694.4" cy="227.4" r="1.1"/>
<circle cx="729.4" cy="215.5" r="6.3"/>
<circle cx="716.5" cy="194.9" r="3.0"/>
<circle cx="706.2" cy="211.2" r="3.8"/>
<circle cx="716.9" cy="246.6" r="2.5"/>
<circle cx="712.2" cy="215.2" r="1.6"/>
<circle cx="699.8" cy="224.9" r="1.3"/>
<circle cx="689.0" cy="212.3" r="1.7"/>
<circle cx="698.2" cy="215.2" r="1.3"/>
<circle cx="708.0" cy="221.5" r="1.9"/>
<circle cx="704.2" cy="223.6" r="1.6"/>
<circle cx="700.1" cy="248.1" r="1.5"/>
<circle cx="718.7" cy="216.8" r="1.9"/>
<circle cx="696.6" cy="214.5" r="1.6"/>
<circle cx="717.8" cy="207.7" r="1.2"/>
<circle cx="702.9" cy="198.6" r="1.3"/>
<circle cx="709.3" cy="194.5" r="1.6"/>
<circle cx="695.9" cy="226.3" r="1.5"/>
<circle cx="708.0" cy="191.0" r="2.3"/>
<circle cx="699.6" cy="236.7" r="1.8"/>
<circle cx="689.2" cy="229.0" r="1.9"/>
<circle cx="707.9" cy="212.9" r="1.1"/>
<circle cx="707.5" cy="200.9" r="1.6"/>
<circle cx="717.1" cy="217.4" r="1.1"/>
<circle cx="711.2" cy="217.3" r="1.4"/>
<circle cx="697.1" cy="232.8" r="5.9"/>
<circle cx="701.4" cy="206.6" r="1.4"/>
<circle cx="681.1" cy="211.7" r="1.5"/>
<circle cx="695.9" cy="216.3" r="1.8"/>
<circle cx="722.2" cy="213.2" r="1.5"/>
<circle cx="724.5" cy="208.3" r="2.6"/>
<circle cx="716.3" cy="193.0" r="1.4"/>
<circle cx="711.4" cy="194.1" r="1.6"/>
<circle cx="714.4" cy="207.6" r="2.8"/>
<circle cx="713.4" cy="213.9" r="1.8"/>
<circle cx="689.3" cy="231.0" r="1.6"/>
<circle cx="698.6" cy="249.4" r="4.6"/>
<circle cx="720.9" cy="241.0" r="1.9"/>
<circle cx="720.9" cy="222.6" r="5.4"/>
<circle cx="710.7" cy="243.3" r="2.1"/>
<circle cx="704.7" cy="215.4" r="2.2"/>
<circle cx="703.9" cy="209.7" r="2.9"/>
<circle cx="702.2" cy="249.4" r="2.1"/>
<circle cx="698.0" cy="202.1" r="1.5"/>
<circle cx="687.2" cy="211.2" r="1.7"/>
<circle cx="709.7" cy="213.4" r="1.7"/>
<circle cx="703.2" cy="237.5" r="2.7"/>
<circle cx="705.7" cy="208.7" r="2.5"/>
<circle cx="726.7" cy="228.0" r="1.9"/>
<circle cx="714.5" cy="211.4" r="1.8"/>
<circle cx="700.4" cy="199.9" r="5.9"/>
<circle cx="714.4" cy="220.4" r="2.6"/>
<circle cx="691.7" cy="219.4" r="3.5"/>
<circle cx="719.5" cy="200.9" r="1.9"/>
<circle cx="710.9" cy="204.9" r="1.3"/>
<circle cx="706.0" cy="206.0" r="3.3"/>
<circle cx="714.3" cy="230.5" r="1.3"/>
<circle cx="723.9" cy="223.5" r="3.6"/>
<circle cx="703.0" cy="220.4" r="1.2"/>
<circle cx="697.3" cy="223.9" r="1.5"/>
<circle cx="731.0" cy="210.4" r="1.8"/>
<circle cx="708.2" cy="223.8" r="1.3"/>
<circle cx="724.3" cy="208.6" r="1.8"/>
<circle cx="700.7" cy="198.4" r="2.1"/>
<circle cx="712.2" cy="207.2" r="1.9"/>
<circle cx="701.1" cy="220.0" r="2.6"/>
<circle cx="714.9" cy="218.3" r="3.6"/>
<circle cx="705.0" cy="231.9" r="1.0"/>
<circle cx="700.8" cy="193.4" r="3.7"/>
<circle cx="724.9" cy="214.0" r="3.9"/>
<circle cx="711.7" cy="222.6" r="1.4"/>
<circle cx="686.0" cy="203.6" r="2.8"/>
<circle cx="705.5" cy="220.6" r="2.0"/>
<circle cx="698.1" cy="211.4" r="1.3"/>
<circle cx="694.8" cy="201.3" r="1.5"/>
<circle cx="701.7" cy="232.8" r="1.1"/>
<circle cx="702.8" cy="197.6" r="2.3"/>
<circle cx="708.4" cy="231.1" r="1.6"/>
<circle cx="699.4" cy="211.3" r="3.0"/>
<circle cx="687.8" cy="203.9" r="1.6"/>
<circle cx="702.2" cy="204.7" r="1.6"/>
<circle cx="717.6" cy="206.8" r="1.3"/>
<circle cx="693.2" cy="205.2" r="3.4"/>
<circle cx="714.8" cy="220.9" r="1.6"/>
<circle cx="713.0" cy="191.0" r="2.9"/>
<circle cx="703.1" cy="234.5" r="3.0"/>
<circle cx="711.4" cy="228.8" r="2.0"/>
<circle cx="699.9" cy="236.5" r="1.8"/>
<circle cx="703.7" cy="203.4" r="1.6"/>
<circle cx="696.9" cy="184.7" r="1.8"/>
<circle cx="713.1" cy="208.4" r="2.2"/>
<circle cx="723.0" cy="214.8" r="2.4"/>
<circle cx="700.6" cy="221.4" r="2.9"/>
<circle cx="721.1" cy="209.9" r="2.4"/>
<circle cx="684.7" cy="215.9" r="1.8"/>
<circle cx="698.4" cy="219.2" r="3.4"/>
<circle cx="697.0" cy="195.4" r="4.4"/>
<circle cx="726.8" cy="242.4" r="1.6"/>
<circle cx="701.6" cy="201.4" r="2.3"/>
<circle cx="716.5" cy="220.8" r="2.6"/>
<circle cx="685.6" cy="232.2" r="1.4"/>
<circle cx="709.3" cy="206.2" r="1.5"/>
<circle cx="714.2" cy="217.2" r="1.0"/>
<circle cx="707.6" cy="240.0" r="1.0"/>
<circle cx="678.2" cy="213.2" r="2.1"/>
<circle cx="709.9" cy="231.8" r="4.8"/>
<circle cx="716.9" cy="221.2" r="1.3"/>
<circle cx="722.5" cy="220.3" r="1.3"/>
<circle cx="712.4" cy="227.2" r="1.2"/>
<circle cx="689.5" cy="213.9" r="1.7"/>
<circle cx="705.7" cy="214.2" r="1.1"/>
<circle cx="717.9" cy="230.6" r="4.2"/>
<circle cx="699.0" cy="220.8" r="1.6"/>
<circle cx="714.2" cy="224.1" r="2.8"/>
<circle cx="702.8" cy="200.4" r="3.5"/>
<circle cx="709.0" cy="217.4" r="1.7"/>
<circle cx="716.3" cy="234.1" r="2.7"/>
<circle cx="700.2" cy="229.8" r="1.0"/>
<circle cx="739.4" cy="222.0" r="6.2"/>
<circle cx="709.7" cy="209.9" r="2.0"/>
<circle cx="711.8" cy="208.6" r="3.8"/>
<circle cx="699.9" cy="223.3" r="1.8"/>
<circle cx="708.7" cy="237.1" r="5.8"/>
<circle cx="705.1" cy="217.8" r="1.7"/>
<circle cx="692.0" cy="235.5" r="1.1"/>
<circle cx="691.2" cy="213.0" r="2.4"/>
<circle cx="711.2" cy="234.0" r="1.8"/>
<circle cx="707.0" cy="203.2" r="1.8"/>
<circle cx="679.1" cy="219.8" r="1.3"/>
<circle cx="684.5" cy="202.3" r="2.4"/>
<circle cx="704.6" cy="226.4" r="1.0"/>
<circle cx="707.2" cy="225.2" r="2.3"/>
<circle cx="714.7" cy="203.9" r="1.3"/>
<circle cx="694.4" cy="206.8" r="1.1"/>
<circle cx="714.5" cy="211.0" r="1.3"/>
<circle cx="704.6" cy="196.4" r="2.1"/>
<circle cx="702.4" cy="204.3" r="2.7"/>
<circle cx="706.4" cy="205.1" r="4.7"/>
<circle cx="718.8" cy="228.2" r="2.2"/>
<circle cx="714.1" cy="236.6" r="1.7"/>
<circle cx="717.8" cy="211.0" r="1.7"/>
<circle cx="700.4" cy="213.2" r="2.0"/>
<circle cx="704.9" cy="220.2" r="1.4"/>
<circle cx="695.2" cy="209.9" r="1.4"/>
<circle cx="701.9" cy="213.3" r="1.9"/>
<circle cx="703.6" cy="228.9" r="2.1"/>
<circle cx="702.9" cy="220.4" r="5.0"/>
<circle cx="715.8" cy="216.0" r="1.8"/>
<circle cx="712.7" cy="209.2" r="1.5"/>
<circle cx="704.2" cy="235.0" r="2.4"/>
<circle cx="705.5" cy="215.7" r="3.4"/>
<circle cx="666.0" cy="223.1" r="1.6"/>
<circle cx="707.6" cy="209.9" r="4.7"/>
<circle cx="683.4" cy="203.2" r="3.1"/>
<circle cx="687.7" cy="188.7" r="1.6"/>
<circle cx="725.4" cy="216.0" r="1.4"/>
<circle cx="673.2" cy="208.7" r="1.7"/>
<circle cx="695.1" cy="203.0" r="2.5"/>
<circle cx="715.4" cy="208.6" r="1.9"/>
<circle cx="728.3" cy="206.6" r="1.2"/>
<circle cx="687.3" cy="191.0" r="5.7"/>
<circle cx="707.8" cy="200.4" r="2.2"/>
<circle cx="707.0" cy="230.9" r="2.1"/>
<circle cx="672.3" cy="205.7" r="2.0"/>
<circle cx="647.5" cy="235.5" r="2.0"/>
<circle cx="652.7" cy="188.9" r="1.3"/>
<circle cx="714.7" cy="185.3" r="1.6"/>
<circle cx="702.5" cy="212.3" r="5.2"/>
<circle cx="667.1" cy="224.2" r="2.4"/>
<circle cx="684.3" cy="198.0" r="1.3"/>
<circle cx="690.2" cy="221.4" r="2.3"/>
<circle cx="691.2" cy="227.0" r="6.0"/>
<circle cx="699.2" cy="229.6" r="4.9"/>
<circle cx="754.1" cy="208.0" r="4.6"/>
<circle cx="680.8" cy="209.1" r="1.4"/>
<circle cx="703.5" cy="179.9" r="2.3"/>
<circle cx="681.1" cy="210.4" r="1.1"/>
<circle cx="684.6" cy="215.1" r="1.6"/>
<circle cx="678.4" cy="235.8" r="2.0"/>
<circle cx="694.3" cy="186.8" r="2.4"/>
<circle cx="686.4" cy="194.6" r="2.2"/>
<circle cx="708.5" cy="191.7" r="1.5"/>
<circle cx="705.2" cy="226.4" r="1.9"/>
<circle cx="678.1" cy="163.9" r="1.5"/>
<circle cx="747.0" cy="190.3" r="2.1"/>
<circle cx="671.3" cy="247.6" r="1.2"/>
<circle cx="708.7" cy="222.0" r="1.7"/>
<circle cx="753.2" cy="185.8" r="2.4"/>
<circle cx="682.5" cy="208.9" r="1.2"/>
<circle cx="732.5" cy="225.4" r="2.5"/>
<circle cx="734.8" cy="220.0" r="2.6"/>
<circle cx="708.3" cy="206.0" r="4.2"/>
<circle cx="654.7" cy="195.6" r="1.7"/>
<circle cx="734.8" cy="225.2" r="0.9"/>
<circle cx="702.2" cy="209.9" r="1.4"/>
<circle cx="686.6" cy="224.7" r="5.2"/>
<circle cx="731.3" cy="217.2" r="3.1"/>
<circle cx="682.2" cy="201.5" r="2.0"/>
<circle cx="726.1" cy="236.2" r="1.4"/>
<circle cx="686.5" cy="200.9" r="3.1"/>
<circle cx="713.1" cy="217.8" r="1.9"/>
<circle cx="673.6" cy="198.5" r="1.5"/>
<circle cx="690.3" cy="205.8" r="1.5"/>
<circle cx="677.5" cy="205.5" r="2.6"/>
<circle cx="682.5" cy="198.0" r="2.7"/>
<circle cx="704.6" cy="214.3" r="1.6"/>
<circle cx="695.8" cy="233.8" r="1.8"/>
<circle cx="704.6" cy="243.8" r="2.4"/>
<circle cx="731.4" cy="236.1" r="5.0"/>
<circle cx="697.2" cy="206.9" r="2.3"/>
<circle cx="654.4" cy="236.5" r="2.0"/>
<circle cx="692.9" cy="217.6" r="2.5"/>
<circle cx="701.9" cy="242.7" r="4.8"/>
<circle cx="724.9" cy="187.1" r="2.1"/>
<circle cx="725.3" cy="236.9" r="1.3"/>
<circle cx="723.3" cy="199.1" r="2.0"/>
<circle cx="694.4" cy="231.0" r="1.7"/>
<circle cx="715.8" cy="201.5" r="2.1"/>
<circle cx="664.6" cy="226.6" r="2.0"/>
<circle cx="731.7" cy="204.9" r="2.7"/>
<circle cx="710.7" cy="175.9" r="1.8"/>
<circle cx="712.4" cy="192.4" r="3.0"/>
<circle cx="690.7" cy="205.6" r="1.5"/>
<circle cx="701.3" cy="210.4" r="2.1"/>
<circle cx="683.6" cy="169.4" r="2.0"/>
<circle cx="713.9" cy="188.3" r="1.8"/>
<circle cx="667.4" cy="196.7" r="1.7"/>
<circle cx="723.8" cy="206.2" r="2.2"/>
<circle cx="713.3" cy="214.0" r="5.4"/>
<circle cx="749.6" cy="195.1" r="2.4"/>
<circle cx="699.0" cy="182.5" r="1.7"/>
<circle cx="697.7" cy="215.5" r="4.8"/>
<circle cx="704.7" cy="204.0" r="3.5"/>
<circle cx="700.9" cy="226.1" r="1.5"/>
<circle cx="697.4" cy="200.5" r="2.3"/>
<circle cx="673.0" cy="221.7" r="1.4"/>
<circle cx="672.9" cy="193.8" r="2.9"/>
<circle cx="686.1" cy="214.9" r="5.4"/>
<circle cx="692.9" cy="211.6" r="2.0"/>
<circle cx="670.9" cy="218.2" r="2.2"/>
<circle cx="671.5" cy="193.1" r="0.9"/>
<circle cx="693.0" cy="207.8" r="2.1"/>
<circle cx="718.2" cy="194.6" r="3.4"/>
<circle cx="695.3" cy="207.1" r="4.7"/>
<circle cx="716.6" cy="221.3" r="2.1"/>
<circle cx="723.8" cy="264.1" r="1.6"/>
<circle cx="718.8" cy="210.6" r="2.9"/>
<circle cx="689.7" cy="223.0" r="5.7"/>
<circle cx="690.1" cy="212.1" r="1.8"/>
<circle cx="654.3" cy="230.6" r="1.3"/>
<circle cx="683.2" cy="218.4" r="1.6"/>
<circle cx="711.5" cy="229.0" r="1.2"/>
<circle cx="673.3" cy="216.5" r="1.9"/>
<circle cx="733.2" cy="253.5" r="1.5"/>
<circle cx="735.1" cy="235.0" r="3.7"/>
<circle cx="691.0" cy="179.2" r="4.3"/>
<circle cx="722.6" cy="215.5" r="1.6"/>
<circle cx="665.3" cy="211.4" r="1.3"/>
<circle cx="674.3" cy="170.1" r="1.4"/>
<circle cx="690.9" cy="194.4" r="1.7"/>
<circle cx="700.2" cy="201.7" r="4.1"/>
<circle cx="695.4" cy="196.7" r="3.8"/>
<circle cx="678.9" cy="212.4" r="6.1"/>
<circle cx="748.2" cy="177.6" r="5.0"/>
<circle cx="707.1" cy="223.6" r="6.3"/>
<circle cx="707.0" cy="224.1" r="5.0"/>
<circle cx="716.7" cy="216.4" r="1.9"/>
<circle cx="704.3" cy="204.1" r="1.1"/>
<circle cx="694.3" cy="210.2" r="1.2"/>
<circle cx="686.4" cy="201.7" r="1.6"/>
<circle cx="659.9" cy="230.8" r="2.7"/>
<circle cx="736.6" cy="219.2" r="5.1"/>
<circle cx="677.4" cy="246.1" r="6.3"/>
<circle cx="659.2" cy="203.4" r="1.3"/>
<circle cx="680.2" cy="236.3" r="2.1"/>
<circle cx="660.7" cy="199.7" r="2.2"/>
<circle cx="748.9" cy="207.0" r="1.2"/>
<circle cx="708.9" cy="191.2" r="1.9"/>
<circle cx="734.5" cy="219.6" r="1.9"/>
<circle cx="735.6" cy="209.0" r="5.6"/>
<circle cx="713.9" cy="221.3" r="2.8"/>
<circle cx="714.0" cy="237.0" r="1.6"/>
<circle cx="682.3" cy="209.1" r="1.4"/>
<circle cx="697.9" cy="217.0" r="1.4"/>
<circle cx="685.2" cy="226.4" r="1.1"/>
<circle cx="701.0" cy="209.0" r="1.1"/>
<circle cx="682.9" cy="200.2" r="1.0"/>
<circle cx="731.0" cy="216.6" r="1.3"/>
<circle cx="718.7" cy="219.2" r="1.9"/>
<circle cx="697.4" cy="224.2" r="2.8"/>
<circle cx="659.1" cy="225.2" r="1.3"/>
<circle cx="716.8" cy="198.0" r="1.3"/>
<circle cx="721.7" cy="218.2" r="1.7"/>
<circle cx="698.3" cy="232.4" r="6.1"/>
<circle cx="669.1" cy="201.7" r="2.7"/>
<circle cx="710.6" cy="216.7" r="1.9"/>
<circle cx="725.7" cy="198.9" r="4.0"/>
<circle cx="653.0" cy="213.1" r="2.5"/>
<circle cx="713.9" cy="241.5" r="1.0"/>
<circle cx="655.5" cy="213.3" r="2.6"/>
<circle cx="701.9" cy="192.7" r="6.5"/>
<circle cx="742.8" cy="216.4" r="4.1"/>
<circle cx="702.2" cy="214.0" r="1.3"/>
<circle cx="711.8" cy="230.3" r="1.4"/>
<circle cx="692.1" cy="185.4" r="1.2"/>
<circle cx="699.8" cy="193.6" r="2.2"/>
<circle cx="757.5" cy="208.7" r="5.6"/>
<circle cx="732.7" cy="182.1" r="5.2"/>
<circle cx="692.3" cy="230.6" r="1.3"/>
<circle cx="690.7" cy="173.6" r="1.8"/>
<circle cx="700.4" cy="195.1" r="3.8"/>
<circle cx="753.7" cy="183.5" r="2.2"/>
<circle cx="705.1" cy="198.3" r="2.3"/>
<circle cx="727.2" cy="224.6" r="4.2"/>
<circle cx="691.1" cy="221.0" r="2.2"/>
<circle cx="668.9" cy="226.9" r="1.3"/>
<circle cx="732.4" cy="221.0" r="2.4"/>
<circle cx="698.1" cy="173.5" r="3.4"/>
<circle cx="680.8" cy="215.6" r="5.0"/>
<circle cx="683.1" cy="176.8" r="1.2"/>
<circle cx="683.6" cy="201.1" r="2.1"/>
<circle cx="685.2" cy="203.1" r="1.5"/>
<circle cx="662.3" cy="200.3" r="1.5"/>
<circle cx="729.4" cy="219.0" r="1.7"/>
<circle cx="709.3" cy="195.5" r="1.8"/>
<circle cx="723.8" cy="241.4" r="2.5"/>
<circle cx="691.6" cy="220.9" r="1.6"/>
<circle cx="708.5" cy="231.4" r="1.5"/>
<circle cx="704.1" cy="223.8" r="3.1"/>
<circle cx="728.7" cy="226.3" r="2.1"/>
<circle cx="719.9" cy="209.4" r="1.2"/>
<circle cx="708.8" cy="245.6" r="1.5"/>
<circle cx="684.1" cy="191.2" r="1.9"/>
<circle cx="670.6" cy="218.5" r="2.3"/>
<circle cx="680.5" cy="210.2" r="2.0"/>
<circle cx="684.5" cy="206.1" r="1.9"/>
<circle cx="686.8" cy="215.9" r="1.5"/>
<circle cx="669.8" cy="196.6" r="2.2"/>
<circle cx="740.6" cy="225.8" r="3.2"/>
<circle cx="706.6" cy="224.3" r="1.6"/>
<circle cx="650.8" cy="211.9" r="1.7"/>
<circle cx="673.3" cy="223.5" r="1.2"/>
<circle cx="667.3" cy="191.4" r="2.2"/>
<circle cx="705.8" cy="177.5" r="1.9"/>
<circle cx="726.0" cy="199.7" r="1.0"/>
<circle cx="675.9" cy="205.9" r="2.9"/>
<circle cx="715.1" cy="255.1" r="1.1"/>
<circle cx="693.3" cy="206.0" r="1.2"/>
<circle cx="728.0" cy="228.8" r="2.0"/>
<circle cx="780.3" cy="231.6" r="4.8"/>
<circle cx="786.0" cy="202.7" r="1.2"/>
<circle cx="800.3" cy="222.8" r="4.9"/>
<circle cx="727.7" cy="226.6" r="2.5"/>
<circle cx="760.5" cy="190.4" r="1.4"/>
<circle cx="767.9" cy="197.9" r="1.8"/>
<circle cx="782.2" cy="222.2" r="2.9"/>
<circle cx="776.2" cy="216.0" r="1.3"/>
<circle cx="766.5" cy="211.1" r="1.1"/>
<circle cx="781.6" cy="204.6" r="4.2"/>
<circle cx="710.7" cy="212.0" r="3.1"/>
<circle cx="850.6" cy="197.5" r="2.1"/>
<circle cx="794.8" cy="233.6" r="3.1"/>
<circle cx="796.4" cy="191.5" r="2.6"/>
<circle cx="758.1" cy="184.1" r="4.8"/>
<circle cx="784.7" cy="206.5" r="1.4"/>
<circle cx="825.4" cy="221.4" r="1.8"/>
<circle cx="819.6" cy="199.1" r="3.3"/>
<circle cx="776.3" cy="204.2" r="5.1"/>
<circle cx="743.7" cy="193.0" r="2.0"/>
<circle cx="778.5" cy="203.9" r="2.7"/>
<circle cx="767.0" cy="193.1" r="1.6"/>
<circle cx="795.7" cy="193.2" r="4.2"/>
<circle cx="742.7" cy="187.8" r="1.5"/>
<circle cx="769.8" cy="198.5" r="1.1"/>
<circle cx="781.2" cy="226.2" r="2.8"/>
<circle cx="762.9" cy="204.1" r="2.8"/>
<circle cx="800.7" cy="207.0" r="1.7"/>
<circle cx="746.3" cy="230.5" r="5.3"/>
<circle cx="743.9" cy="197.5" r="1.0"/>
<circle cx="765.8" cy="193.3" r="2.2"/>
<circle cx="795.2" cy="210.8" r="1.8"/>
<circle cx="767.0" cy="190.6" r="5.1"/>
<circle cx="759.8" cy="208.6" r="1.3"/>
<circle cx="794.6" cy="218.1" r="2.5"/>
<circle cx="780.1" cy="192.3" r="1.8"/>
<circle cx="761.5" cy="198.8" r="6.5"/>
<circle cx="777.6" cy="224.3" r="1.0"/>
<circle cx="768.6" cy="192.6" r="2.5"/>
<circle cx="789.7" cy="196.9" r="1.3"/>
<circle cx="778.1" cy="207.5" r="1.8"/>
<circle cx="754.7" cy="201.1" r="5.6"/>
<circle cx="762.7" cy="194.9" r="1.7"/>
<circle cx="764.2" cy="223.2" r="3.3"/>
<circle cx="783.8" cy="198.1" r="1.3"/>
<circle cx="783.9" cy="208.6" r="2.7"/>
<circle cx="753.9" cy="200.0" r="2.8"/>
<circle cx="769.8" cy="202.1" r="3.7"/>
<circle cx="782.2" cy="188.9" r="1.7"/>
<circle cx="801.9" cy="215.5" r="2.8"/>
<circle cx="780.8" cy="199.8" r="1.9"/>
<circle cx="823.1" cy="219.5" r="2.4"/>
<circle cx="775.2" cy="191.3" r="1.6"/>
<circle cx="792.8" cy="199.2" r="2.2"/>
<circle cx="766.4" cy="210.3" r="3.0"/>
<circle cx="749.8" cy="206.0" r="1.5"/>
<circle cx="777.2" cy="197.2" r="1.3"/>
<circle cx="786.6" cy="203.2" r="1.1"/>
<circle cx="782.6" cy="189.8" r="2.3"/>
<circle cx="778.2" cy="205.4" r="1.7"/>
<circle cx="766.3" cy="174.2" r="2.1"/>
<circle cx="754.1" cy="206.8" r="3.4"/>
<circle cx="767.0" cy="220.4" r="4.7"/>
<circle cx="786.2" cy="215.1" r="2.2"/>
<circle cx="798.3" cy="214.6" r="3.7"/>
<circle cx="692.6" cy="199.9" r="2.4"/>
<circle cx="789.7" cy="210.4" r="1.7"/>
<circle cx="801.5" cy="200.1" r="2.0"/>
<circle cx="806.0" cy="203.7" r="2.4"/>
<circle cx="784.0" cy="203.6" r="2.1"/>
<circle cx="791.2" cy="165.9" r="2.1"/>
<circle cx="763.4" cy="215.4" r="2.8"/>
<circle cx="772.3" cy="210.0" r="2.0"/>
<circle cx="787.6" cy="214.5" r="1.4"/>
<circle cx="747.2" cy="193.8" r="4.9"/>
<circle cx="754.8" cy="212.8" r="2.3"/>
<circle cx="779.4" cy="210.3" r="4.7"/>
<circle cx="741.3" cy="179.0" r="1.7"/>
<circle cx="775.8" cy="184.4" r="1.2"/>
<circle cx="737.5" cy="205.4" r="1.8"/>
<circle cx="779.4" cy="197.1" r="3.9"/>
<circle cx="775.2" cy="204.6" r="1.5"/>
<circle cx="760.5" cy="197.4" r="1.7"/>
<circle cx="751.0" cy="222.0" r="1.8"/>
<circle cx="761.9" cy="182.8" r="2.3"/>
<circle cx="718.7" cy="189.0" r="1.7"/>
<circle cx="764.6" cy="193.5" r="3.2"/>
<circle cx="777.5" cy="189.0" r="5.6"/>
<circle cx="804.5" cy="198.1" r="2.5"/>
<circle cx="761.8" cy="204.4" r="1.8"/>
<circle cx="770.2" cy="189.3" r="1.4"/>
<circle cx="809.1" cy="209.0" r="1.7"/>
<circle cx="817.8" cy="219.9" r="1.7"/>
<circle cx="762.4" cy="217.4" r="1.5"/>
<circle cx="800.6" cy="228.0" r="1.7"/>
<circle cx="803.8" cy="217.9" r="2.6"/>
<circle cx="787.4" cy="204.4" r="1.6"/>
<circle cx="749.9" cy="225.4" r="3.6"/>
<circle cx="751.0" cy="213.0" r="1.3"/>
<circle cx="788.9" cy="226.5" r="1.5"/>
<circle cx="745.1" cy="180.3" r="2.2"/>
<circle cx="736.2" cy="182.4" r="1.3"/>
<circle cx="729.3" cy="167.4" r="2.0"/>
<circle cx="725.3" cy="181.3" r="2.8"/>
<circle cx="733.3" cy="181.2" r="1.2"/>
<circle cx="716.5" cy="180.4" r="1.4"/>
<circle cx="711.5" cy="165.6" r="1.6"/>
<circle cx="706.6" cy="178.7" r="2.4"/>
<circle cx="730.6" cy="167.6" r="6.3"/>
<circle cx="713.3" cy="183.5" r="1.3"/>
<circle cx="749.0" cy="192.9" r="2.2"/>
<circle cx="685.4" cy="188.6" r="2.7"/>
<circle cx="742.4" cy="176.8" r="2.3"/>
<circle cx="741.7" cy="174.8" r="2.1"/>
<circle cx="756.3" cy="174.6" r="1.6"/>
<circle cx="724.9" cy="183.5" r="5.9"/>
<circle cx="698.2" cy="173.6" r="1.9"/>
<circle cx="710.5" cy="174.9" r="2.3"/>
<circle cx="754.5" cy="155.7" r="2.7"/>
<circle cx="723.8" cy="171.8" r="1.7"/>
<circle cx="721.5" cy="172.5" r="1.0"/>
<circle cx="717.8" cy="174.8" r="2.6"/>
<circle cx="728.9" cy="191.9" r="1.2"/>
<circle cx="725.4" cy="166.9" r="5.2"/>
<circle cx="696.9" cy="167.1" r="2.0"/>
<circle cx="717.5" cy="185.9" r="1.6"/>
<circle cx="751.8" cy="170.5" r="3.1"/>
<circle cx="761.2" cy="178.5" r="1.3"/>
<circle cx="727.6" cy="181.8" r="1.4"/>
<circle cx="719.2" cy="180.2" r="2.0"/>
<circle cx="759.3" cy="172.5" r="1.8"/>
<circle cx="726.5" cy="189.0" r="1.3"/>
<circle cx="705.0" cy="194.6" r="1.0"/>
<circle cx="727.5" cy="170.3" r="5.5"/>
<circle cx="745.1" cy="177.4" r="2.6"/>
<circle cx="763.6" cy="189.2" r="1.2"/>
<circle cx="719.8" cy="178.0" r="2.1"/>
<circle cx="741.8" cy="170.3" r="2.2"/>
<circle cx="723.2" cy="175.9" r="1.4"/>
<circle cx="754.6" cy="188.1" r="2.0"/>
<circle cx="735.8" cy="170.4" r="1.1"/>
<circle cx="735.8" cy="182.5" r="3.1"/>
<circle cx="709.2" cy="183.8" r="2.1"/>
<circle cx="723.4" cy="173.7" r="5.1"/>
<circle cx="723.3" cy="185.6" r="2.2"/>
<circle cx="653.1" cy="186.5" r="1.3"/>
<circle cx="748.5" cy="189.8" r="1.5"/>
<circle cx="730.0" cy="189.1" r="1.2"/>
<circle cx="725.8" cy="165.6" r="3.5"/>
<circle cx="722.5" cy="188.8" r="4.4"/>
<circle cx="651.4" cy="173.8" r="2.5"/>
<circle cx="688.5" cy="177.7" r="4.2"/>
<circle cx="672.6" cy="168.8" r="4.6"/>
<circle cx="662.2" cy="169.5" r="1.4"/>
<circle cx="650.6" cy="188.8" r="2.2"/>
<circle cx="644.4" cy="186.2" r="1.4"/>
<circle cx="638.7" cy="194.8" r="3.1"/>
<circle cx="693.0" cy="185.9" r="1.6"/>
<circle cx="637.7" cy="161.7" r="1.6"/>
<circle cx="677.9" cy="199.9" r="1.2"/>
<circle cx="660.7" cy="190.2" r="4.1"/>
<circle cx="654.2" cy="174.0" r="1.7"/>
<circle cx="656.2" cy="180.1" r="1.1"/>
<circle cx="663.6" cy="191.7" r="1.6"/>
<circle cx="683.3" cy="186.9" r="4.2"/>
<circle cx="676.6" cy="182.9" r="1.3"/>
<circle cx="665.5" cy="200.4" r="1.6"/>
<circle cx="638.6" cy="206.3" r="3.0"/>
<circle cx="630.6" cy="179.2" r="1.5"/>
<circle cx="702.2" cy="185.0" r="2.8"/>
<circle cx="645.7" cy="163.6" r="2.1"/>
<circle cx="634.7" cy="182.1" r="1.6"/>
<circle cx="687.5" cy="194.7" r="3.2"/>
<circle cx="636.1" cy="202.4" r="2.8"/>
<circle cx="680.1" cy="188.7" r="1.4"/>
<circle cx="683.8" cy="183.7" r="1.3"/>
<circle cx="670.4" cy="171.3" r="1.6"/>
<circle cx="684.4" cy="189.6" r="2.6"/>
<circle cx="638.2" cy="164.0" r="3.4"/>
<circle cx="641.5" cy="187.9" r="1.6"/>
<circle cx="661.7" cy="185.8" r="1.7"/>
<circle cx="665.4" cy="167.6" r="1.5"/>
<circle cx="663.8" cy="191.8" r="1.8"/>
<circle cx="674.6" cy="181.2" r="1.2"/>
<circle cx="651.0" cy="197.1" r="3.4"/>
<circle cx="623.6" cy="175.9" r="3.7"/>
<circle cx="673.4" cy="194.8" r="2.1"/>
<circle cx="661.0" cy="216.0" r="2.0"/>
<circle cx="681.4" cy="188.9" r="2.1"/>
<circle cx="706.3" cy="200.8" r="1.7"/>
<circle cx="667.0" cy="172.8" r="1.1"/>
<circle cx="676.9" cy="178.4" r="2.4"/>
<circle cx="647.9" cy="148.3" r="1.1"/>
<circle cx="683.3" cy="182.4" r="1.3"/>
<circle cx="672.1" cy="163.2" r="1.1"/>
<circle cx="670.3" cy="187.6" r="4.3"/>
<circle cx="683.4" cy="144.9" r="4.9"/>
<circle cx="643.2" cy="168.5" r="5.0"/>
<circle cx="676.5" cy="187.0" r="1.5"/>
<circle cx="674.4" cy="193.0" r="2.3"/>
<circle cx="696.6" cy="152.9" r="1.6"/>
<circle cx="630.0" cy="177.2" r="3.5"/>
<circle cx="663.7" cy="235.6" r="2.0"/>
<circle cx="708.5" cy="200.8" r="2.6"/>
<circle cx="657.4" cy="188.5" r="1.4"/>
<circle cx="656.8" cy="131.3" r="1.6"/>
<circle cx="700.5" cy="167.3" r="1.4"/>
<circle cx="714.6" cy="195.5" r="1.0"/>
<circle cx="667.7" cy="189.9" r="1.8"/>
<circle cx="651.4" cy="194.2" r="1.3"/>
<circle cx="873.3" cy="113.0" r="1.1"/>
<circle cx="891.1" cy="193.4" r="1.5"/>
<circle cx="865.5" cy="107.5" r="1.4"/>
<circle cx="875.2" cy="167.9" r="1.4"/>
<circle cx="866.5" cy="147.1" r="1.2"/>
<circle cx="882.1" cy="148.9" r="1.1"/>
<circle cx="873.5" cy="171.8" r="2.0"/>
<circle cx="891.6" cy="165.8" r="1.7"/>
<circle cx="887.3" cy="140.8" r="1.1"/>
<circle cx="881.2" cy="110.6" r="1.6"/>
<circle cx="874.5" cy="106.0" r="3.2"/>
<circle cx="870.5" cy="145.4" r="6.1"/>
<circle cx="875.1" cy="184.2" r="3.2"/>
<circle cx="886.2" cy="164.6" r="5.1"/>
<circle cx="877.0" cy="139.2" r="1.5"/>
<circle cx="879.4" cy="149.3" r="3.7"/>
<circle cx="874.5" cy="159.2" r="5.5"/>
<circle cx="873.9" cy="188.1" r="1.5"/>
<circle cx="865.1" cy="118.9" r="1.6"/>
<circle cx="847.0" cy="160.3" r="1.4"/>
<circle cx="883.6" cy="147.9" r="2.2"/>
<circle cx="883.4" cy="118.9" r="1.2"/>
<circle cx="882.0" cy="75.0" r="4.3"/>
<circle cx="896.0" cy="64.0" r="3.0"/>
<circle cx="866.0" cy="82.0" r="2.3"/>
<circle cx="871.0" cy="93.0" r="2.3"/>
<circle cx="727.0" cy="71.0" r="2.6"/>
<circle cx="848.0" cy="141.0" r="4.6"/>
<circle cx="839.0" cy="120.0" r="4.0"/>
<circle cx="868.0" cy="143.0" r="3.3"/>
<circle cx="684.0" cy="104.0" r="5.5"/>
<circle cx="629.0" cy="120.0" r="6.0"/>
<circle cx="661.0" cy="112.0" r="4.5"/>
<circle cx="670.0" cy="121.0" r="4.2"/>
<circle cx="692.0" cy="185.0" r="4.5"/>
<circle cx="612.0" cy="112.0" r="3.0"/>
<circle cx="655.0" cy="205.0" r="7.0"/>
<circle cx="780.0" cy="240.0" r="3.0"/>
<circle cx="790.0" cy="245.0" r="3.5"/>
<circle cx="716.0" cy="259.0" r="3.5"/>
</g>
<path d="M715.4,122.5C715.8,118.3 717.0,113.5 718.5,110.0C720.1,106.5 722.5,103.9 724.8,101.7C727.0,99.4 728.4,98.2 732.1,96.5C735.7,94.7 741.5,92.5 746.7,91.2C751.9,90.0 757.8,89.2 763.3,89.2C768.9,89.2 774.4,89.7 780.0,91.2C785.6,92.8 791.8,95.9 796.7,98.5C801.5,101.1 805.3,103.8 809.2,106.9C813.0,110.0 816.6,113.6 819.6,117.3C822.5,120.9 825.1,124.8 826.9,128.8C828.6,132.7 829.7,137.1 830.0,141.2C830.3,145.4 830.0,149.9 829.0,153.8C827.9,157.6 826.0,161.0 823.8,164.2C821.5,167.3 818.5,170.2 815.4,172.5C812.3,174.8 808.8,176.7 805.0,177.7C801.2,178.8 797.0,179.1 792.5,178.8C788.0,178.4 782.8,176.8 777.9,175.6C773.1,174.4 768.2,173.0 763.3,171.5C758.5,169.9 753.3,167.8 748.8,166.2C744.2,164.7 739.7,163.6 736.2,162.1C732.8,160.5 730.7,159.3 727.9,156.9C725.1,154.4 721.5,151.1 719.6,147.5C717.7,143.9 717.2,139.2 716.5,135.0C715.8,130.8 715.1,126.7 715.4,122.5Z" fill="#c4c4c4" stroke="#c4c4c4" stroke-width="3" stroke-linejoin="round"/>
<path d="M723.4,152.5 L721.0,158.1 L724.4,163.8 L729.1,167.9 L738.4,167.9 L740.3,164.7 L756.3,164.7 L761.9,167.9 L769.4,174.1 L775.0,177.3 L784.4,177.3 L787.2,174.1 L801.3,174.4 L805.0,177.8 L808.8,177.3 L810.6,174.6 L812.5,177.3" fill="none" stroke="#1c1c1c" stroke-width="1.3" stroke-dasharray="4 3 2 5 6 4 1 6" opacity="0.9"/>
<rect x="562.5" y="11.25" width="110.75" height="8.75" fill="#222"/>
<rect x="562.5" y="313.25" width="110.75" height="8.75" fill="#222"/>
<rect x="553.25" y="20" width="9.25" height="219.5" fill="#222"/>
<rect x="951.7" y="20" width="8.699999999999932" height="219.5" fill="#222"/>
<rect x="553.25" y="11.25" width="407.15" height="310.75" fill="none" stroke="#222" stroke-width="1"/>
<rect x="562.5" y="20" width="389.20000000000005" height="293.25" fill="none" stroke="#222" stroke-width="1"/>
<path d="M562.5,11.25V20H553.25M951.7,11.25V20H960.4M562.5,322V313.25H553.25M951.7,322V313.25H960.4" fill="none" stroke="#222" stroke-width="1"/>
<path d="M810,280.5V272.5H843.2V280.5" fill="none" stroke="#555" stroke-width="1.2"/>
<text x="826.5" y="301" font-size="19.3" text-anchor="middle">1 km</text>
<text x="471.3" y="23.9" font-size="21">(b)</text>
<text x="517" y="247.5" font-size="19.3" letter-spacing="-0.3" dx="-0.6" text-anchor="middle">40°48'</text>
<text x="674.5" y="345" font-size="19.3" letter-spacing="-0.3" dx="-0.6" text-anchor="middle">14°06'</text>
<text x="952" y="345" font-size="19.3" letter-spacing="-0.3" dx="-0.6" text-anchor="middle">14°12'</text>
</g>
<defs>
<radialGradient id="heat2"><stop offset="0" stop-color="#f4d85a" stop-opacity="0.8"/><stop offset="1" stop-color="#eff274" stop-opacity="0"/></radialGradient>
<radialGradient id="heat" cx="0.5" cy="0.5" r="0.5" fx="0.58" fy="0.55">
<stop offset="0" stop-color="#f0641f"/>
<stop offset="0.35" stop-color="#f47a20"/>
<stop offset="0.55" stop-color="#f69627"/>
<stop offset="0.72" stop-color="#f7b836"/>
<stop offset="0.87" stop-color="#f3dc54"/>
<stop offset="1" stop-color="#eef176"/>
</radialGradient>
<radialGradient id="core" cx="0.5" cy="0.5" r="0.5">
<stop offset="0" stop-color="#000004" stop-opacity="1"/>
<stop offset="0.2" stop-color="#030208" stop-opacity="1"/>
<stop offset="0.29" stop-color="#1b1044" stop-opacity="1"/>
<stop offset="0.37" stop-color="#3b2278" stop-opacity="1"/>
<stop offset="0.45" stop-color="#6a2a8a" stop-opacity="1"/>
<stop offset="0.54" stop-color="#a0257a" stop-opacity="1"/>
<stop offset="0.64" stop-color="#d23a52" stop-opacity="1"/>
<stop offset="0.78" stop-color="#ee5a2c" stop-opacity="0.9"/>
<stop offset="1" stop-color="#f26a1e" stop-opacity="0"/>
</radialGradient>
<linearGradient id="cbar" x1="0" y1="0" x2="0" y2="1">
<stop offset="0" stop-color="#000004"/>
<stop offset="0.06" stop-color="#0c0a20"/>
<stop offset="0.125" stop-color="#241a5c"/>
<stop offset="0.25" stop-color="#4a2a8c"/>
<stop offset="0.375" stop-color="#80207e"/>
<stop offset="0.5" stop-color="#b8245e"/>
<stop offset="0.625" stop-color="#e8503a"/>
<stop offset="0.75" stop-color="#f58a22"/>
<stop offset="0.875" stop-color="#f6c232"/>
<stop offset="0.95" stop-color="#f1e65a"/>
<stop offset="1" stop-color="#eef47a"/>
</linearGradient>
<clipPath id="clipBlob"><path d="M697.5,477.5C699.3,471.7 701.2,468.3 705.0,465.0C708.8,461.7 712.5,459.0 720.0,457.5C727.5,456.0 740.0,455.6 750.0,456.0C760.0,456.4 770.0,457.7 780.0,460.0C790.0,462.3 801.7,465.8 810.0,470.0C818.3,474.2 825.0,479.2 830.0,485.0C835.0,490.8 837.3,497.5 840.0,505.0C842.7,512.5 844.5,520.8 846.0,530.0C847.5,539.2 850.0,551.7 849.0,560.0C848.0,568.3 844.0,574.6 840.0,580.0C836.0,585.4 830.8,590.0 825.0,592.5C819.2,595.0 810.8,595.8 805.0,595.0C799.2,594.2 793.3,591.2 790.0,587.5C786.7,583.8 788.3,576.7 785.0,572.5C781.7,568.3 775.8,565.0 770.0,562.5C764.2,560.0 757.5,559.2 750.0,557.5C742.5,555.8 732.5,555.0 725.0,552.5C717.5,550.0 710.0,547.1 705.0,542.5C700.0,537.9 696.8,532.1 695.0,525.0C693.2,517.9 693.6,507.9 694.0,500.0C694.4,492.1 695.7,483.3 697.5,477.5Z"/></clipPath>
</defs>
<g id="panelD">
<path d="M697.5,477.5C699.3,471.7 701.2,468.3 705.0,465.0C708.8,461.7 712.5,459.0 720.0,457.5C727.5,456.0 740.0,455.6 750.0,456.0C760.0,456.4 770.0,457.7 780.0,460.0C790.0,462.3 801.7,465.8 810.0,470.0C818.3,474.2 825.0,479.2 830.0,485.0C835.0,490.8 837.3,497.5 840.0,505.0C842.7,512.5 844.5,520.8 846.0,530.0C847.5,539.2 850.0,551.7 849.0,560.0C848.0,568.3 844.0,574.6 840.0,580.0C836.0,585.4 830.8,590.0 825.0,592.5C819.2,595.0 810.8,595.8 805.0,595.0C799.2,594.2 793.3,591.2 790.0,587.5C786.7,583.8 788.3,576.7 785.0,572.5C781.7,568.3 775.8,565.0 770.0,562.5C764.2,560.0 757.5,559.2 750.0,557.5C742.5,555.8 732.5,555.0 725.0,552.5C717.5,550.0 710.0,547.1 705.0,542.5C700.0,537.9 696.8,532.1 695.0,525.0C693.2,517.9 693.6,507.9 694.0,500.0C694.4,492.1 695.7,483.3 697.5,477.5Z" fill="#eef176"/>
<g clip-path="url(#clipBlob)"><ellipse cx="778" cy="510" rx="66" ry="47" fill="url(#heat)" transform="rotate(14 778 510)"/><circle cx="791" cy="514.7" r="37" fill="url(#core)"/><circle cx="820" cy="566" r="14" fill="url(#heat2)"/></g>
<path d="M672.5,585.0C673.3,581.7 675.4,577.5 680.0,575.0C684.6,572.5 693.3,571.0 700.0,570.0C706.7,569.0 714.6,567.8 720.0,569.0C725.4,570.2 729.8,574.4 732.5,577.5C735.2,580.6 736.4,583.8 736.0,587.5C735.6,591.2 731.8,595.8 730.0,600.0C728.2,604.2 727.5,609.4 725.0,612.5C722.5,615.6 719.2,618.1 715.0,618.5C710.8,618.9 704.6,617.2 700.0,615.0C695.4,612.8 691.7,608.3 687.5,605.0C683.3,601.7 677.5,598.3 675.0,595.0C672.5,591.7 671.7,588.3 672.5,585.0Z" fill="#eef176"/>
<path d="M640,514 C645,518 648,523 647,527 C646,532 641,533 637.5,531 C634,529 633,524 635,520 C636,518 638,516 640,514Z" fill="#eef176"/>
<path d="M648.8,686.0 L648.8,682.5 L651.2,677.5 L651.2,670.0 L649.4,663.8 L646.2,658.1 L642.5,657.2 L638.1,655.6 L636.9,651.2 L633.8,647.9 L627.5,648.1 L624.4,650.6 L620.6,650.0 L619.4,646.9 L616.2,642.5 L612.5,638.8 L606.2,638.5 L603.1,640.6 L600.0,642.5 L597.5,646.9 L595.0,647.8 L592.5,645.6 L589.4,643.8 L588.8,640.0 L591.9,636.2 L596.2,635.6 L598.8,632.8 L603.1,631.9 L606.2,629.4 L608.8,630.6 L610.0,635.0 L616.2,636.9 L620.0,641.6 L635.0,641.9 L637.5,643.8 L645.0,644.0 L646.9,643.1 L643.8,638.8 L640.0,631.2 L636.2,625.0 L633.8,618.8 L631.2,613.1 L626.9,610.0 L625.9,609.4 L626.9,596.3 L629.7,591.6 L625.9,579.4 L627.8,577.5 L627.8,567.2 L624.1,563.4 L619.4,562.5 L613.8,558.8 L608.1,550.3 L603.4,552.2 L603.4,548.4 L600.6,544.7 L605.3,535.3 L615.6,534.4 L614.7,520.3 L620.3,515.6 L625.0,514.7 L628.8,510.9 L633.4,509.1 L638.1,504.4 L645.6,504.0 L647.5,501.0 L689.7,501.0 L694.4,507.8 L702.8,508.1 L705.6,515.6 L717.8,516.6 L723.4,525.0 L721.0,530.6 L724.4,536.3 L729.1,540.4 L738.4,540.4 L740.3,537.2 L756.3,537.2 L761.9,540.4 L769.4,546.6 L775.0,549.8 L784.4,549.8 L787.2,546.6 L801.3,546.9 L805.0,550.3 L808.8,549.8 L810.6,547.1 L812.5,549.8 L824.7,550.3 L828.4,553.1 L831.3,550.3 L835.0,554.1 L838.8,555.9 L845.3,556.3 L850.3,562.8 L844.7,572.2 L848.4,575.9 L855.0,575.0 L858.8,571.6 L865.3,572.2 L867.2,577.8 L862.5,581.6 L863.4,589.1 L870.9,590.9 L875.6,599.4 L878.4,606.9 L875.6,610.6 L868.1,612.5 L864.4,616.3 L858.8,616.8 L855.0,620.0 L851.3,617.2 L841.9,617.8 L836.3,621.9 L834.8,627.5 L835.9,634.1 L840.9,635.0 L839.6,640.6 L844.7,641.6 L854.1,641.0 L856.9,636.9 L862.5,629.4 L871.9,623.8 L877.5,619.1 L881.3,617.2 L883.1,624.7 L897.2,626.6 L898.1,635.0 L900.9,637.8 L903.8,629.4 L906.0,630.3 L907.1,637.8 L911.3,642.5 L915.0,647.2 L918.8,644.4 L922.5,636.9 L930.0,632.2 L933.8,629.4 L943.1,628.4 L947.8,624.7 L951.2,623.8" fill="none" stroke="#1c1c1c" stroke-width="2.1" stroke-linejoin="round"/>
<path d="M562.5,660.2 L571.2,660.0 L573.8,657.2 L603.1,657.0 L605.6,659.8 L615.0,660.2 L617.5,662.5 L623.8,663.1 L626.9,666.2 L628.1,671.2 L626.2,676.2 L628.8,678.8 L631.2,680.0 L635.0,686.0" fill="none" stroke="#1c1c1c" stroke-width="2.1" stroke-linejoin="round"/>
<ellipse cx="650.2" cy="644.4" rx="1.3" ry="3" fill="#1c1c1c"/>
<rect x="562.5" y="384.0" width="110.75" height="8.699999999999989" fill="#222"/>
<rect x="562.5" y="685.75" width="110.75" height="8.75" fill="#222"/>
<rect x="553.25" y="392.5" width="9.25" height="219.5" fill="#222"/>
<rect x="951.9" y="392.5" width="8.600000000000023" height="219.5" fill="#222"/>
<rect x="553.25" y="384.0" width="407.25" height="310.5" fill="none" stroke="#222" stroke-width="1"/>
<rect x="562.5" y="392.7" width="389.4" height="293.05" fill="none" stroke="#222" stroke-width="1"/>
<path d="M562.5,384.0V392.7H553.25M951.9,384.0V392.7H960.5M562.5,694.5V685.75H553.25M951.9,694.5V685.75H960.5" fill="none" stroke="#222" stroke-width="1"/>
<path d="M810,653.0V645.0H843.2V653.0" fill="none" stroke="#555" stroke-width="1.2"/>
<text x="827.2" y="672.9" font-size="19.3" text-anchor="middle">1 km</text>
<rect x="867.7" y="419.3" width="26" height="248.2" fill="url(#cbar)" stroke="#222" stroke-width="1.2"/>
<path d="M893.7,419.30h4.5M893.7,422.40h2M893.7,425.50h2M893.7,428.61h2M893.7,431.71h2M893.7,434.81h2M893.7,437.92h2M893.7,441.02h2M893.7,444.12h2M893.7,447.22h2M893.7,450.32h4.5M893.7,453.43h2M893.7,456.53h2M893.7,459.63h2M893.7,462.74h2M893.7,465.84h2M893.7,468.94h2M893.7,472.04h2M893.7,475.14h2M893.7,478.25h2M893.7,481.35h4.5M893.7,484.45h2M893.7,487.56h2M893.7,490.66h2M893.7,493.76h2M893.7,496.86h2M893.7,499.97h2M893.7,503.07h2M893.7,506.17h2M893.7,509.27h2M893.7,512.38h4.5M893.7,515.48h2M893.7,518.58h2M893.7,521.68h2M893.7,524.78h2M893.7,527.89h2M893.7,530.99h2M893.7,534.09h2M893.7,537.20h2M893.7,540.30h2M893.7,543.40h4.5M893.7,546.50h2M893.7,549.61h2M893.7,552.71h2M893.7,555.81h2M893.7,558.91h2M893.7,562.01h2M893.7,565.12h2M893.7,568.22h2M893.7,571.32h2M893.7,574.42h4.5M893.7,577.53h2M893.7,580.63h2M893.7,583.73h2M893.7,586.84h2M893.7,589.94h2M893.7,593.04h2M893.7,596.14h2M893.7,599.25h2M893.7,602.35h2M893.7,605.45h4.5M893.7,608.55h2M893.7,611.65h2M893.7,614.76h2M893.7,617.86h2M893.7,620.96h2M893.7,624.07h2M893.7,627.17h2M893.7,630.27h2M893.7,633.37h2M893.7,636.48h4.5M893.7,639.58h2M893.7,642.68h2M893.7,645.78h2M893.7,648.88h2M893.7,651.99h2M893.7,655.09h2M893.7,658.19h2M893.7,661.29h2M893.7,664.40h2M893.7,667.50h4.5" stroke="#444" stroke-width="0.6" fill="none"/>
<text x="928" y="423.5" font-size="11.3" text-anchor="end" fill="#444" class="g">4000</text>
<text x="928" y="454.5" font-size="11.3" text-anchor="end" fill="#444" class="g">3500</text>
<text x="928" y="485.6" font-size="11.3" text-anchor="end" fill="#444" class="g">3000</text>
<text x="928" y="516.6" font-size="11.3" text-anchor="end" fill="#444" class="g">2500</text>
<text x="928" y="547.6" font-size="11.3" text-anchor="end" fill="#444" class="g">2000</text>
<text x="928" y="578.6" font-size="11.3" text-anchor="end" fill="#444" class="g">1500</text>
<text x="928" y="609.7" font-size="11.3" text-anchor="end" fill="#444" class="g">1000</text>
<text x="928" y="640.7" font-size="11.3" text-anchor="end" fill="#444" class="g">500</text>
<text x="928" y="671.7" font-size="11.3" text-anchor="end" fill="#444" class="g">0</text>
<text transform="translate(943,543) rotate(-90)" font-size="11" text-anchor="middle" fill="#444" class="g">Density</text>
<text x="491.3" y="401.2" font-size="21">(d)</text>
<text x="517" y="620.0" font-size="19.3" letter-spacing="-0.3" dx="-0.6" text-anchor="middle">40°48'</text>
<text x="674.5" y="716.5" font-size="19.3" letter-spacing="-0.3" dx="-0.6" text-anchor="middle">14°06'</text>
<text x="952" y="716.5" font-size="19.3" letter-spacing="-0.3" dx="-0.6" text-anchor="middle">14°12'</text>
</g>
<g id="panelA">
<path d="M143.4,103.8 L145.3,124.4 L146.3,141.3 L145.3,156.3 L144.0,171.3 L140.6,186.3 L136.9,199.4 L135.9,210.6 L135.9,220.0 L137.5,217.5 L140.0,222.5 L142.5,237.5 L160.0,238.8 L164.5,240.3 L169.1,240.2 L170.5,238.7 L186.2,238.6 L187.5,240.1 L192.6,240.3 L193.9,241.5 L197.3,241.9 L198.9,243.5 L199.6,246.2 L198.6,248.9 L199.9,250.2 L201.3,250.9 L203.3,254.1 L205.4,256.8 L208.5,259.9 L211.7,259.6 L210.6,254.1 L210.6,252.2 L212.0,249.6 L212.0,245.5 L211.0,242.2 L209.3,239.2 L207.3,238.7 L204.9,237.9 L204.3,235.5 L202.6,233.7 L199.3,233.8 L197.6,235.2 L195.6,234.8 L194.9,233.2 L193.2,230.8 L191.2,228.8 L187.9,228.7 L186.2,229.8 L184.5,230.8 L183.2,233.2 L181.9,233.6 L180.5,232.5 L178.8,231.5 L178.5,229.5 L180.2,227.5 L182.5,227.1 L183.9,225.6 L186.2,225.1 L187.9,223.8 L189.2,224.5 L189.9,226.8 L193.2,227.8 L195.2,230.4 L203.3,230.5 L204.6,231.5 L208.6,231.6 L209.6,231.2 L208.0,228.8 L206.0,224.8 L203.9,221.5 L202.6,218.1 L201.3,215.1 L198.9,213.4 L198.4,213.1 L198.9,206.1 L200.4,203.6 L198.4,197.0 L199.4,196.0 L199.4,190.5 L197.4,188.5 L194.9,188.0 L191.9,186.0 L188.9,181.5 L186.4,182.5 L186.4,180.5 L184.9,178.5 L187.4,173.4 L192.9,172.9 L192.4,165.4 L195.4,162.9 L197.9,162.4 L199.9,160.4 L202.4,159.4 L204.9,156.9 L209.0,156.7 L210.0,155.1 L232.5,155.1 L235.1,158.7 L239.6,158.9 L241.1,162.9 L247.6,163.4 L250.6,167.9 L249.3,170.9 L251.1,173.9 L253.6,176.2 L258.6,176.2 L259.7,174.5 L268.2,174.5 L271.2,176.2 L275.2,179.5 L278.2,181.2 L283.2,181.2 L284.7,179.5 L292.3,179.7 L294.3,181.5 L296.3,181.2 L297.3,179.8 L298.3,181.2 L304.8,181.5 L306.8,183.0 L308.3,181.5 L310.3,183.5 L312.3,184.5 L315.9,184.7 L318.5,188.2 L315.5,193.2 L317.5,195.2 L321.0,194.7 L323.1,192.9 L326.6,193.2 L327.6,196.2 L325.1,198.2 L325.6,202.2 L329.6,203.2 L332.1,207.7 L333.6,211.8 L332.1,213.8 L328.1,214.8 L326.1,216.8 L323.1,217.1 L321.0,218.8 L319.0,217.3 L314.0,217.6 L311.0,219.8 L310.2,222.8 L310.8,226.3 L313.5,226.8 L312.8,229.8 L315.5,230.3 L320.5,230.0 L322.1,227.8 L325.1,223.8 L330.1,220.8 L333.1,218.3 L335.1,217.3 L336.1,221.3 L343.6,222.3 L344.1,226.8 L345.6,228.3 L347.1,223.8 L348.3,224.3 L349.0,228.3 L351.2,230.8 L353.2,233.3 L355.2,231.8 L357.2,227.8 L361.2,225.3 L363.2,223.8 L368.2,223.3 L370.7,221.3 L372.5,220.8 L375.0,220.0 L383.3,216.7 L386.7,213.3 L385.0,206.7 L383.3,201.7 L384.2,196.7 L388.3,187.5 L393.3,179.2 L400.0,172.5 L406.7,168.7 L409.7,165.0 L408.3,162.5 L404.7,162.2 L409.2,159.2 L415.0,155.8 L423.3,153.7 L433.3,154.2 L441.7,156.7 L447.5,161.7" fill="none" stroke="#1c1c1c" stroke-width="1.9" stroke-linejoin="round"/>
<path d="M82.5,312.9 L85.8,306.7 L87.9,300.8 L89.6,296.7 L87.9,292.9 L83.8,292.1 L82.9,289.6 L84.2,287.5 L88.8,287.5 L90.4,280.0 L89.2,277.5 L90.8,275.8 L96.7,275.4 L99.2,273.8 L102.5,272.9 L104.6,274.6 L105.8,277.9 L107.5,280.0 L110.8,280.8 L113.3,279.2 L115.4,277.9 L116.7,279.6 L115.0,281.7 L115.4,282.9 L121.7,282.5 L128.3,282.7 L131.7,284.2 L133.3,282.9 L134.6,284.6 L133.8,286.7 L132.1,287.5 L131.7,291.7 L130.0,294.2 L127.5,295.8 L125.8,300.8 L124.2,300.0 L123.3,296.7 L122.5,293.3 L120.0,292.1 L116.7,293.8 L114.2,296.2 L110.8,297.5 L107.5,299.6 L106.7,302.5 L107.5,305.4 L110.0,307.1 L111.7,309.2 L114.2,310.4 L115.8,312.9" fill="none" stroke="#1c1c1c" stroke-width="1.9" stroke-linejoin="round"/>
<path d="M128.4,216l1.8,-0.6l1.5,4.6l-1.9,0.6z" fill="#1c1c1c" stroke="#1c1c1c" stroke-width="0.9"/>
<path d="M195.3,148.9C196.2,145.6 198.0,144.0 200.1,142.4C202.3,140.8 205.2,139.5 208.2,139.2C211.1,138.9 214.9,140.3 217.9,140.8C220.8,141.3 224.1,140.5 225.9,142.4C227.8,144.3 227.6,149.4 229.2,152.1C230.8,154.8 233.7,156.4 235.6,158.6C237.5,160.7 239.9,162.9 240.5,165.0C241.0,167.2 241.0,170.1 238.9,171.5C236.7,172.8 230.8,172.3 227.6,173.1C224.3,173.9 222.2,174.7 219.5,176.3C216.8,177.9 214.1,182.0 211.4,182.8C208.7,183.6 205.8,182.8 203.3,181.2C200.9,179.5 198.4,176.3 196.9,173.1C195.4,169.9 194.7,165.8 194.5,161.8C194.2,157.7 194.3,152.1 195.3,148.9Z" fill="#c4c4c4" opacity="0.8"/>
<g fill="#fff" stroke="#c4c4c4" stroke-width="0.8" fill-opacity="0.25">
<circle cx="207.4" cy="145.0" r="1.7"/>
<circle cx="230.4" cy="169.8" r="1.2"/>
<circle cx="215.3" cy="157.8" r="1.4"/>
<circle cx="199.1" cy="165.5" r="1.3"/>
<circle cx="205.1" cy="153.7" r="2.5"/>
<circle cx="211.0" cy="179.0" r="3.0"/>
<circle cx="217.4" cy="165.6" r="1.6"/>
<circle cx="225.4" cy="172.1" r="1.6"/>
<circle cx="209.4" cy="155.0" r="1.5"/>
<circle cx="199.0" cy="178.3" r="1.4"/>
<circle cx="205.9" cy="167.0" r="1.0"/>
<circle cx="219.3" cy="146.1" r="1.6"/>
<circle cx="223.9" cy="168.1" r="2.4"/>
<circle cx="208.7" cy="146.2" r="1.8"/>
<circle cx="210.0" cy="174.1" r="2.5"/>
<circle cx="208.6" cy="174.8" r="1.3"/>
<circle cx="210.8" cy="175.2" r="1.7"/>
<circle cx="204.0" cy="173.7" r="6.1"/>
<circle cx="215.0" cy="147.2" r="1.5"/>
<circle cx="201.1" cy="149.1" r="1.5"/>
<circle cx="207.8" cy="153.5" r="2.9"/>
<circle cx="198.9" cy="162.4" r="2.7"/>
<circle cx="198.3" cy="152.3" r="1.6"/>
<circle cx="237.6" cy="161.9" r="2.1"/>
<circle cx="208.1" cy="172.9" r="1.8"/>
<circle cx="232.7" cy="160.4" r="1.5"/>
<circle cx="203.3" cy="148.1" r="2.9"/>
<circle cx="237.4" cy="171.1" r="1.6"/>
<circle cx="213.6" cy="174.2" r="1.5"/>
<circle cx="221.8" cy="160.2" r="1.5"/>
<circle cx="203.3" cy="171.3" r="1.6"/>
<circle cx="222.7" cy="174.2" r="1.5"/>
<circle cx="230.9" cy="159.2" r="2.2"/>
<circle cx="219.4" cy="141.2" r="2.2"/>
<circle cx="207.3" cy="143.7" r="1.1"/>
<circle cx="201.2" cy="156.5" r="1.0"/>
<circle cx="210.0" cy="150.2" r="1.8"/>
<circle cx="201.7" cy="166.2" r="5.0"/>
<circle cx="219.5" cy="155.9" r="1.5"/>
<circle cx="202.4" cy="174.3" r="5.8"/>
<circle cx="197.8" cy="155.5" r="2.7"/>
<circle cx="203.0" cy="171.6" r="1.6"/>
<circle cx="225.8" cy="167.8" r="1.6"/>
<circle cx="224.5" cy="174.3" r="1.7"/>
<circle cx="236.2" cy="163.5" r="1.0"/>
<circle cx="226.8" cy="154.2" r="1.4"/>
<circle cx="227.8" cy="148.4" r="2.3"/>
<circle cx="220.6" cy="169.6" r="1.8"/>
<circle cx="233.1" cy="167.8" r="2.7"/>
<circle cx="225.1" cy="143.0" r="2.4"/>
<circle cx="229.3" cy="159.6" r="1.4"/>
<circle cx="217.0" cy="152.4" r="1.8"/>
<circle cx="228.5" cy="172.4" r="3.1"/>
<circle cx="211.3" cy="167.9" r="1.6"/>
<circle cx="206.3" cy="161.3" r="1.8"/>
<circle cx="213.2" cy="141.1" r="1.9"/>
<circle cx="196.4" cy="147.2" r="1.2"/>
<circle cx="215.3" cy="180.5" r="1.4"/>
<circle cx="230.6" cy="152.0" r="6.4"/>
<circle cx="238.7" cy="170.5" r="1.3"/>
<circle cx="223.4" cy="169.0" r="1.5"/>
<circle cx="196.5" cy="165.5" r="2.1"/>
<circle cx="194.9" cy="167.3" r="1.6"/>
<circle cx="225.8" cy="155.3" r="1.3"/>
<circle cx="201.4" cy="161.7" r="1.9"/>
<circle cx="200.6" cy="155.4" r="1.6"/>
<circle cx="210.9" cy="176.1" r="2.9"/>
<circle cx="233.2" cy="170.8" r="1.8"/>
<circle cx="213.6" cy="154.5" r="1.3"/>
<circle cx="202.9" cy="175.2" r="1.2"/>
<circle cx="202.7" cy="139.7" r="1.9"/>
<circle cx="207.2" cy="164.5" r="3.8"/>
<circle cx="220.1" cy="166.0" r="1.1"/>
<circle cx="211.0" cy="180.4" r="1.5"/>
<circle cx="214.4" cy="148.6" r="1.2"/>
<circle cx="213.2" cy="155.6" r="2.2"/>
<circle cx="201.7" cy="164.4" r="1.6"/>
<circle cx="207.6" cy="143.1" r="1.6"/>
<circle cx="209.6" cy="145.4" r="1.4"/>
<circle cx="196.2" cy="155.0" r="1.8"/>
<circle cx="228.6" cy="148.1" r="1.6"/>
<circle cx="230.7" cy="157.0" r="1.9"/>
<circle cx="221.0" cy="176.7" r="5.8"/>
<circle cx="210.3" cy="182.3" r="1.2"/>
<circle cx="210.6" cy="156.8" r="1.3"/>
<circle cx="222.1" cy="168.4" r="2.0"/>
<circle cx="237.8" cy="167.8" r="1.3"/>
<circle cx="225.8" cy="142.0" r="1.3"/>
<circle cx="214.8" cy="147.4" r="2.0"/>
<circle cx="207.9" cy="141.1" r="0.9"/>
<circle cx="212.0" cy="144.6" r="1.2"/>
<circle cx="207.8" cy="139.1" r="1.4"/>
<circle cx="209.3" cy="169.8" r="1.0"/>
<circle cx="229.9" cy="169.4" r="2.2"/>
<circle cx="208.4" cy="163.1" r="1.2"/>
<circle cx="214.1" cy="173.0" r="1.7"/>
<circle cx="212.2" cy="180.9" r="2.0"/>
<circle cx="213.2" cy="147.9" r="3.8"/>
<circle cx="217.2" cy="152.5" r="1.1"/>
<circle cx="198.4" cy="158.7" r="1.5"/>
<circle cx="228.4" cy="147.2" r="1.3"/>
<circle cx="226.8" cy="152.1" r="1.3"/>
<circle cx="219.6" cy="174.8" r="1.3"/>
<circle cx="216.8" cy="168.4" r="2.2"/>
<circle cx="210.0" cy="164.9" r="2.5"/>
<circle cx="200.4" cy="171.2" r="2.0"/>
<circle cx="202.1" cy="173.5" r="1.3"/>
<circle cx="212.9" cy="145.0" r="2.6"/>
<circle cx="222.2" cy="172.9" r="1.3"/>
<circle cx="195.6" cy="156.9" r="1.7"/>
<circle cx="214.1" cy="159.5" r="1.6"/>
<circle cx="222.4" cy="176.0" r="2.5"/>
<circle cx="213.7" cy="176.8" r="1.7"/>
<circle cx="229.3" cy="169.5" r="1.4"/>
<circle cx="195.4" cy="164.3" r="1.9"/>
<circle cx="205.9" cy="180.7" r="1.9"/>
<circle cx="193.9" cy="156.3" r="2.3"/>
<circle cx="216.1" cy="141.3" r="1.9"/>
<circle cx="209.2" cy="155.5" r="1.6"/>
<circle cx="197.9" cy="173.6" r="1.3"/>
<circle cx="210.3" cy="159.2" r="2.2"/>
<circle cx="205.6" cy="172.9" r="1.4"/>
<circle cx="207.5" cy="182.2" r="1.3"/>
<circle cx="238.5" cy="160.8" r="2.0"/>
<circle cx="226.7" cy="174.7" r="1.3"/>
<circle cx="210.4" cy="173.7" r="2.1"/>
<circle cx="209.4" cy="144.1" r="1.1"/>
<circle cx="213.7" cy="143.7" r="1.5"/>
<circle cx="221.3" cy="167.3" r="2.0"/>
<circle cx="204.7" cy="141.8" r="1.9"/>
<circle cx="234.7" cy="169.4" r="2.2"/>
<circle cx="198.2" cy="162.3" r="1.4"/>
<circle cx="234.5" cy="156.1" r="2.1"/>
<circle cx="222.0" cy="172.3" r="2.2"/>
<circle cx="224.9" cy="170.2" r="1.4"/>
<circle cx="205.9" cy="171.6" r="2.4"/>
<circle cx="229.7" cy="160.4" r="1.7"/>
<circle cx="219.7" cy="156.7" r="1.8"/>
<circle cx="228.9" cy="157.9" r="1.2"/>
<circle cx="203.2" cy="166.9" r="1.2"/>
<circle cx="233.6" cy="153.9" r="2.2"/>
<circle cx="239.7" cy="166.4" r="1.9"/>
<circle cx="218.2" cy="139.6" r="1.1"/>
<circle cx="193.8" cy="142.0" r="1.9"/>
<circle cx="218.7" cy="138.3" r="2.3"/>
<circle cx="195.3" cy="181.5" r="4.0"/>
<circle cx="233.8" cy="152.5" r="1.9"/>
<circle cx="201.9" cy="179.0" r="1.2"/>
<circle cx="203.8" cy="138.0" r="3.2"/>
<circle cx="228.5" cy="150.7" r="1.3"/>
<circle cx="222.6" cy="177.2" r="1.5"/>
<circle cx="195.2" cy="145.5" r="2.5"/>
<circle cx="203.9" cy="182.7" r="1.2"/>
<circle cx="241.2" cy="166.9" r="1.7"/>
<circle cx="228.1" cy="144.6" r="2.1"/>
<circle cx="205.8" cy="136.5" r="1.6"/>
<circle cx="245.1" cy="160.4" r="1.2"/>
<circle cx="237.6" cy="173.1" r="1.9"/>
<circle cx="235.4" cy="161.8" r="2.9"/>
<circle cx="238.0" cy="175.3" r="2.6"/>
<circle cx="229.4" cy="171.9" r="1.5"/>
<circle cx="223.1" cy="180.0" r="2.3"/>
<circle cx="193.8" cy="151.8" r="1.5"/>
<circle cx="198.6" cy="179.7" r="1.5"/>
<circle cx="198.9" cy="147.3" r="1.7"/>
<circle cx="220.7" cy="139.4" r="1.9"/>
<circle cx="213.3" cy="143.7" r="1.0"/>
<circle cx="201.5" cy="184.8" r="1.2"/>
<circle cx="233.7" cy="173.2" r="1.5"/>
<circle cx="235.1" cy="153.8" r="1.1"/>
<circle cx="209.6" cy="181.4" r="1.5"/>
<circle cx="205.1" cy="183.1" r="1.6"/>
<circle cx="238.1" cy="155.9" r="1.7"/>
<circle cx="208.0" cy="183.0" r="2.1"/>
<circle cx="241.0" cy="171.9" r="1.5"/>
<circle cx="196.4" cy="151.9" r="1.2"/>
<circle cx="218.0" cy="139.2" r="1.1"/>
<circle cx="241.3" cy="160.0" r="1.3"/>
<circle cx="200.3" cy="139.8" r="1.1"/>
<circle cx="196.5" cy="160.1" r="1.6"/>
<circle cx="223.2" cy="138.7" r="1.2"/>
<circle cx="200.3" cy="140.5" r="1.4"/>
<circle cx="220.2" cy="138.5" r="1.5"/>
<circle cx="236.9" cy="159.5" r="2.5"/>
<circle cx="194.9" cy="147.5" r="1.7"/>
<circle cx="223.0" cy="179.7" r="1.9"/>
<circle cx="201.6" cy="141.7" r="1.6"/>
<circle cx="212.5" cy="183.8" r="1.5"/>
<circle cx="244.8" cy="161.6" r="1.9"/>
<circle cx="239.9" cy="160.4" r="2.6"/>
<circle cx="196.4" cy="140.6" r="2.1"/>
<circle cx="203.8" cy="136.7" r="1.6"/>
<circle cx="192.2" cy="142.5" r="2.0"/>
<circle cx="234.9" cy="173.2" r="2.9"/>
<circle cx="229.0" cy="172.4" r="2.6"/>
<circle cx="224.7" cy="174.9" r="1.1"/>
<circle cx="193.3" cy="169.9" r="3.4"/>
<circle cx="193.0" cy="165.0" r="1.5"/>
<circle cx="192.8" cy="161.6" r="1.6"/>
<circle cx="218.6" cy="177.9" r="1.0"/>
<circle cx="189.3" cy="169.7" r="2.1"/>
<circle cx="238.1" cy="173.9" r="1.0"/>
<circle cx="232.7" cy="148.6" r="1.8"/>
<circle cx="231.0" cy="172.7" r="2.2"/>
<circle cx="220.7" cy="180.1" r="2.4"/>
<circle cx="239.0" cy="167.6" r="1.3"/>
<circle cx="205.2" cy="184.2" r="1.4"/>
<circle cx="207.5" cy="141.5" r="1.5"/>
<circle cx="210.9" cy="187.7" r="1.5"/>
<circle cx="225.8" cy="139.8" r="1.2"/>
<circle cx="192.0" cy="168.5" r="1.8"/>
<circle cx="241.7" cy="171.8" r="1.6"/>
<circle cx="217.5" cy="178.3" r="2.8"/>
<circle cx="242.3" cy="168.7" r="1.7"/>
<circle cx="203.7" cy="140.3" r="1.4"/>
<circle cx="222.4" cy="173.8" r="4.9"/>
<circle cx="193.6" cy="165.1" r="1.0"/>
<circle cx="235.4" cy="156.1" r="1.3"/>
<circle cx="235.4" cy="173.4" r="1.4"/>
<circle cx="219.5" cy="180.8" r="1.2"/>
<circle cx="214.7" cy="181.6" r="1.3"/>
<circle cx="226.3" cy="148.8" r="1.8"/>
<circle cx="211.7" cy="177.4" r="1.3"/>
<circle cx="210.4" cy="138.2" r="1.4"/>
<circle cx="199.6" cy="148.5" r="1.1"/>
<circle cx="220.2" cy="179.2" r="3.0"/>
<circle cx="206.7" cy="140.1" r="1.7"/>
<circle cx="196.4" cy="147.0" r="1.2"/>
<circle cx="217.6" cy="138.9" r="3.7"/>
<circle cx="200.7" cy="183.2" r="1.6"/>
<circle cx="218.5" cy="179.3" r="1.4"/>
<circle cx="228.8" cy="189.0" r="4.5"/>
<circle cx="217.0" cy="182.9" r="1.6"/>
<circle cx="218.0" cy="183.8" r="1.5"/>
<circle cx="227.5" cy="178.3" r="1.2"/>
<circle cx="220.7" cy="185.2" r="1.4"/>
<circle cx="221.0" cy="185.5" r="1.8"/>
<circle cx="223.9" cy="177.3" r="3.4"/>
<circle cx="222.4" cy="180.3" r="1.2"/>
<circle cx="220.5" cy="180.6" r="1.1"/>
<circle cx="223.3" cy="180.1" r="3.8"/>
<circle cx="218.4" cy="186.1" r="1.8"/>
<circle cx="221.8" cy="188.5" r="6.2"/>
<circle cx="225.3" cy="178.8" r="4.0"/>
<circle cx="216.7" cy="185.1" r="1.2"/>
<circle cx="220.9" cy="181.2" r="1.2"/>
<circle cx="216.3" cy="186.1" r="1.3"/>
<circle cx="225.7" cy="174.6" r="2.8"/>
<circle cx="225.1" cy="180.7" r="1.9"/>
<circle cx="226.7" cy="185.6" r="1.5"/>
<circle cx="227.2" cy="179.7" r="1.2"/>
<circle cx="227.1" cy="185.6" r="3.2"/>
<circle cx="225.6" cy="180.5" r="1.0"/>
<circle cx="218.1" cy="185.4" r="1.1"/>
<circle cx="226.7" cy="183.7" r="1.3"/>
<circle cx="296.0" cy="184.9" r="1.4"/>
<circle cx="257.6" cy="191.1" r="2.7"/>
<circle cx="290.1" cy="192.9" r="3.2"/>
<circle cx="282.0" cy="189.1" r="2.2"/>
<circle cx="275.0" cy="192.7" r="1.4"/>
<circle cx="278.0" cy="186.5" r="1.2"/>
<circle cx="292.0" cy="194.8" r="5.0"/>
<circle cx="290.7" cy="186.9" r="1.2"/>
<circle cx="301.2" cy="185.9" r="4.0"/>
<circle cx="273.1" cy="188.9" r="0.9"/>
<circle cx="258.1" cy="189.2" r="1.3"/>
<circle cx="274.2" cy="185.3" r="1.8"/>
<circle cx="278.5" cy="193.4" r="1.2"/>
<circle cx="275.5" cy="188.8" r="1.5"/>
<circle cx="295.4" cy="192.5" r="1.0"/>
<circle cx="308.1" cy="182.0" r="1.1"/>
<circle cx="285.3" cy="182.9" r="1.7"/>
<circle cx="259.4" cy="188.1" r="1.7"/>
<circle cx="293.2" cy="184.5" r="1.5"/>
<circle cx="273.0" cy="188.8" r="1.3"/>
<circle cx="281.3" cy="192.3" r="1.2"/>
<circle cx="290.8" cy="195.0" r="2.5"/>
<circle cx="285.2" cy="196.8" r="1.1"/>
<circle cx="279.9" cy="193.4" r="0.9"/>
<circle cx="284.2" cy="185.9" r="1.3"/>
<circle cx="289.8" cy="192.2" r="1.9"/>
<circle cx="288.3" cy="186.9" r="1.5"/>
<circle cx="305.6" cy="192.2" r="1.0"/>
<circle cx="244.8" cy="184.2" r="2.4"/>
<circle cx="271.3" cy="196.2" r="1.3"/>
<circle cx="273.7" cy="191.5" r="1.2"/>
<circle cx="290.6" cy="188.0" r="1.4"/>
<circle cx="283.4" cy="182.7" r="1.6"/>
<circle cx="290.9" cy="190.9" r="2.0"/>
<circle cx="263.6" cy="186.8" r="1.3"/>
<circle cx="278.1" cy="190.7" r="1.5"/>
<circle cx="288.5" cy="185.9" r="6.4"/>
<circle cx="280.1" cy="186.8" r="3.0"/>
<circle cx="275.9" cy="192.6" r="4.8"/>
<circle cx="284.0" cy="196.9" r="1.9"/>
<circle cx="300.5" cy="183.2" r="1.2"/>
<circle cx="255.4" cy="188.5" r="1.9"/>
<circle cx="299.8" cy="191.4" r="2.5"/>
<circle cx="284.1" cy="188.7" r="2.1"/>
<circle cx="270.4" cy="187.3" r="1.4"/>
<circle cx="288.6" cy="200.3" r="1.7"/>
<circle cx="281.2" cy="185.3" r="1.4"/>
<circle cx="295.2" cy="191.3" r="1.2"/>
<circle cx="271.0" cy="187.0" r="2.0"/>
<circle cx="292.3" cy="189.0" r="4.6"/>
<circle cx="343.5" cy="120.6" r="2.8"/>
<circle cx="336.5" cy="127.5" r="4.2"/>
<circle cx="326.8" cy="130.5" r="2.1"/>
<circle cx="330.3" cy="136.0" r="2.1"/>
<circle cx="322.0" cy="136.0" r="1.4"/>
<circle cx="329.0" cy="165.0" r="2.0"/>
<circle cx="335.0" cy="171.0" r="2.3"/>
<circle cx="211.0" cy="254.5" r="3.0"/>
<circle cx="149.5" cy="287.5" r="3.2"/>
<circle cx="151.5" cy="270.5" r="2.2"/>
<circle cx="178.5" cy="268.0" r="1.8"/>
<circle cx="182.5" cy="264.0" r="1.0"/>
</g>
<path d="M227.6,141.5C228.4,139.5 230.1,136.4 232.7,134.7C235.3,133.0 239.2,132.1 242.9,131.3C246.6,130.4 250.6,129.7 254.8,129.6C259.1,129.4 263.9,129.9 268.4,130.4C273.0,131.0 277.5,131.7 282.0,133.0C286.6,134.3 291.7,136.1 295.7,138.1C299.6,140.1 303.0,142.3 305.9,144.9C308.7,147.4 311.0,150.3 312.7,153.4C314.4,156.5 315.2,160.2 316.1,163.6C316.9,167.0 317.8,170.4 317.8,173.8C317.8,177.2 316.9,180.9 316.1,184.0C315.2,187.1 314.4,190.3 312.7,192.5C311.0,194.8 308.4,196.5 305.9,197.6C303.3,198.8 299.9,199.6 297.4,199.3C294.8,199.1 292.5,197.6 290.5,195.9C288.6,194.2 287.4,191.1 285.4,189.1C283.5,187.1 281.5,185.4 278.6,184.0C275.8,182.6 271.8,181.5 268.4,180.6C265.0,179.8 261.3,179.8 258.2,178.9C255.1,178.1 252.0,176.6 249.7,175.5C247.4,174.4 245.7,173.8 244.6,172.1C243.5,170.4 244.0,167.6 242.9,165.3C241.8,163.0 239.8,160.8 237.8,158.5C235.8,156.2 232.7,153.7 231.0,151.7C229.3,149.7 228.2,148.3 227.6,146.6C227.0,144.9 226.7,143.5 227.6,141.5Z" fill="#c4c4c4" stroke="#c4c4c4" stroke-width="1.5"/>
<path d="M215.6,195.3C216.3,192.5 218.1,188.9 220.6,186.9C223.1,185.0 227.0,184.2 230.6,183.6C234.2,183.0 238.4,183.0 242.3,183.6C246.2,184.2 250.6,185.3 254.0,186.9C257.3,188.6 260.1,191.1 262.3,193.6C264.5,196.1 266.2,198.9 267.3,201.9C268.4,205.0 269.2,208.9 269.0,211.9C268.7,215.0 267.3,218.0 265.6,220.3C264.0,222.5 261.7,224.2 259.0,225.3C256.2,226.4 252.6,227.2 249.0,226.9C245.4,226.7 240.9,225.0 237.3,223.6C233.7,222.2 230.1,220.5 227.3,218.6C224.5,216.7 222.4,214.4 220.6,211.9C218.8,209.4 217.3,206.4 216.5,203.6C215.6,200.8 214.9,198.0 215.6,195.3Z" fill="#c4c4c4" stroke="#c4c4c4" stroke-width="1.5"/>
<g fill="#fff" stroke="#c4c4c4" stroke-width="0.8" fill-opacity="0.35">
<circle cx="247.0" cy="174.1" r="1.3"/>
<circle cx="231.8" cy="152.3" r="1.4"/>
<circle cx="265.9" cy="131.1" r="1.4"/>
<circle cx="285.1" cy="186.5" r="6.2"/>
<circle cx="235.6" cy="158.0" r="1.0"/>
<circle cx="310.4" cy="193.8" r="1.7"/>
<circle cx="315.6" cy="158.9" r="1.6"/>
<circle cx="276.5" cy="129.1" r="1.3"/>
<circle cx="267.1" cy="130.3" r="1.3"/>
<circle cx="271.4" cy="182.9" r="1.5"/>
<circle cx="306.8" cy="145.2" r="1.5"/>
<circle cx="225.6" cy="144.9" r="1.0"/>
<circle cx="290.0" cy="134.5" r="1.8"/>
<circle cx="308.0" cy="144.4" r="3.1"/>
<circle cx="278.1" cy="185.9" r="1.1"/>
<circle cx="251.6" cy="174.9" r="2.3"/>
<circle cx="247.3" cy="176.7" r="1.9"/>
<circle cx="258.4" cy="129.2" r="2.5"/>
<circle cx="314.1" cy="159.5" r="1.7"/>
<circle cx="252.6" cy="175.3" r="1.2"/>
<circle cx="270.7" cy="181.0" r="2.4"/>
<circle cx="232.7" cy="154.7" r="1.5"/>
<circle cx="312.7" cy="186.8" r="1.9"/>
<circle cx="257.4" cy="129.7" r="1.2"/>
<circle cx="289.5" cy="133.6" r="1.3"/>
<circle cx="309.5" cy="149.0" r="2.1"/>
<circle cx="311.3" cy="196.7" r="0.9"/>
<circle cx="317.8" cy="169.9" r="1.4"/>
<circle cx="287.8" cy="191.4" r="1.0"/>
<circle cx="276.9" cy="182.5" r="2.3"/>
<circle cx="240.2" cy="160.1" r="1.2"/>
<circle cx="277.1" cy="183.7" r="1.1"/>
<circle cx="274.6" cy="133.1" r="1.4"/>
<circle cx="302.0" cy="144.2" r="2.1"/>
<circle cx="249.0" cy="173.8" r="1.5"/>
<circle cx="267.2" cy="179.5" r="1.8"/>
<circle cx="253.3" cy="131.1" r="2.3"/>
<circle cx="286.8" cy="136.3" r="2.2"/>
<circle cx="262.1" cy="181.1" r="2.0"/>
<circle cx="242.5" cy="134.2" r="1.3"/>
<circle cx="306.4" cy="195.8" r="1.8"/>
<circle cx="264.7" cy="180.0" r="1.5"/>
<circle cx="316.6" cy="188.2" r="1.3"/>
<circle cx="312.6" cy="187.8" r="1.2"/>
<circle cx="294.2" cy="196.4" r="1.9"/>
<circle cx="261.1" cy="181.3" r="1.7"/>
<circle cx="269.9" cy="177.7" r="1.6"/>
<circle cx="313.5" cy="158.4" r="1.2"/>
<circle cx="294.3" cy="201.6" r="1.4"/>
<circle cx="263.9" cy="130.9" r="3.1"/>
<circle cx="296.7" cy="197.6" r="2.6"/>
<circle cx="299.8" cy="199.5" r="1.1"/>
<circle cx="252.9" cy="176.8" r="2.5"/>
<circle cx="316.1" cy="160.7" r="1.2"/>
<circle cx="240.7" cy="171.0" r="1.3"/>
<circle cx="297.2" cy="138.6" r="1.4"/>
<circle cx="315.4" cy="165.3" r="1.8"/>
<circle cx="255.9" cy="130.8" r="6.0"/>
<circle cx="296.4" cy="140.1" r="1.5"/>
<circle cx="316.9" cy="185.2" r="1.4"/>
<circle cx="314.1" cy="188.5" r="1.3"/>
<circle cx="257.6" cy="178.7" r="1.0"/>
<circle cx="305.2" cy="201.6" r="2.1"/>
<circle cx="278.5" cy="182.0" r="2.3"/>
<circle cx="235.4" cy="153.7" r="1.5"/>
<circle cx="252.2" cy="178.0" r="1.3"/>
<circle cx="245.5" cy="169.4" r="1.7"/>
<circle cx="253.6" cy="176.9" r="2.2"/>
<circle cx="233.8" cy="154.4" r="1.3"/>
<circle cx="318.3" cy="179.2" r="1.1"/>
<circle cx="250.5" cy="133.0" r="1.5"/>
<circle cx="313.1" cy="156.1" r="1.2"/>
<circle cx="233.6" cy="136.1" r="1.7"/>
<circle cx="250.2" cy="173.2" r="2.3"/>
<circle cx="289.7" cy="195.4" r="1.4"/>
<circle cx="306.6" cy="143.9" r="6.5"/>
<circle cx="282.7" cy="186.9" r="1.5"/>
<circle cx="298.6" cy="138.6" r="2.0"/>
<circle cx="244.5" cy="173.5" r="2.2"/>
<circle cx="287.1" cy="189.4" r="1.4"/>
<circle cx="234.9" cy="153.2" r="1.4"/>
<circle cx="244.4" cy="132.0" r="1.0"/>
<circle cx="313.8" cy="161.6" r="1.8"/>
<circle cx="258.2" cy="128.6" r="1.3"/>
<circle cx="286.1" cy="187.4" r="1.7"/>
<circle cx="289.3" cy="136.2" r="2.2"/>
<circle cx="270.7" cy="128.7" r="1.6"/>
<circle cx="257.3" cy="130.2" r="1.0"/>
<circle cx="286.3" cy="136.7" r="1.3"/>
<circle cx="264.1" cy="130.0" r="1.9"/>
<circle cx="287.0" cy="188.8" r="2.0"/>
<circle cx="303.4" cy="143.4" r="2.8"/>
<circle cx="265.1" cy="179.2" r="1.1"/>
<circle cx="313.3" cy="191.0" r="2.4"/>
<circle cx="229.5" cy="140.3" r="1.8"/>
<circle cx="315.4" cy="178.8" r="2.7"/>
<circle cx="295.8" cy="137.3" r="2.9"/>
<circle cx="265.2" cy="130.5" r="3.3"/>
<circle cx="310.4" cy="194.9" r="2.2"/>
<circle cx="291.0" cy="191.9" r="1.7"/>
<circle cx="232.1" cy="135.9" r="2.3"/>
<circle cx="279.9" cy="183.8" r="1.2"/>
<circle cx="235.5" cy="131.0" r="1.5"/>
<circle cx="314.3" cy="188.7" r="1.2"/>
<circle cx="284.3" cy="132.6" r="1.8"/>
<circle cx="316.4" cy="161.3" r="3.2"/>
<circle cx="316.8" cy="160.2" r="2.1"/>
<circle cx="279.4" cy="133.5" r="1.5"/>
<circle cx="314.4" cy="189.7" r="1.8"/>
<circle cx="271.8" cy="129.4" r="6.0"/>
<circle cx="235.6" cy="132.2" r="1.3"/>
<circle cx="234.5" cy="154.4" r="1.5"/>
<circle cx="232.6" cy="156.3" r="1.5"/>
<circle cx="245.4" cy="175.2" r="1.3"/>
<circle cx="306.8" cy="144.6" r="1.5"/>
<circle cx="280.9" cy="187.5" r="2.8"/>
<circle cx="297.5" cy="196.8" r="1.9"/>
<circle cx="313.6" cy="154.0" r="2.0"/>
<circle cx="289.1" cy="136.8" r="1.1"/>
<circle cx="249.9" cy="173.3" r="2.2"/>
<circle cx="286.5" cy="135.0" r="1.9"/>
<circle cx="272.1" cy="178.6" r="1.5"/>
<circle cx="240.4" cy="133.4" r="1.3"/>
<circle cx="276.6" cy="131.0" r="1.7"/>
<circle cx="305.0" cy="142.5" r="1.1"/>
<circle cx="252.0" cy="132.1" r="2.0"/>
<circle cx="234.7" cy="154.5" r="1.1"/>
<circle cx="283.4" cy="135.1" r="1.7"/>
<circle cx="301.9" cy="139.9" r="2.4"/>
<circle cx="264.9" cy="131.1" r="2.2"/>
<circle cx="256.1" cy="176.7" r="1.0"/>
<circle cx="315.6" cy="159.3" r="1.4"/>
<circle cx="317.8" cy="167.6" r="1.7"/>
<circle cx="301.1" cy="198.1" r="1.2"/>
<circle cx="303.3" cy="142.5" r="1.5"/>
<circle cx="250.8" cy="175.3" r="1.4"/>
<circle cx="265.7" cy="180.9" r="1.5"/>
<circle cx="292.3" cy="135.3" r="1.3"/>
<circle cx="251.4" cy="129.1" r="5.4"/>
<circle cx="273.3" cy="130.2" r="1.2"/>
<circle cx="268.6" cy="179.9" r="2.4"/>
<circle cx="262.6" cy="131.4" r="1.9"/>
<circle cx="305.0" cy="144.5" r="1.2"/>
<circle cx="303.5" cy="143.2" r="2.6"/>
<circle cx="294.0" cy="138.7" r="1.5"/>
<circle cx="270.3" cy="129.7" r="1.5"/>
<circle cx="240.4" cy="157.5" r="1.8"/>
<circle cx="239.1" cy="158.6" r="1.8"/>
<circle cx="262.9" cy="177.9" r="1.4"/>
<circle cx="259.3" cy="130.6" r="1.2"/>
<circle cx="264.8" cy="179.9" r="1.3"/>
<circle cx="228.7" cy="141.5" r="2.4"/>
<circle cx="232.8" cy="157.5" r="1.1"/>
<circle cx="291.3" cy="135.8" r="2.3"/>
<circle cx="253.5" cy="178.0" r="2.1"/>
<circle cx="247.2" cy="132.5" r="2.2"/>
<circle cx="243.1" cy="168.2" r="5.9"/>
<circle cx="278.4" cy="184.0" r="1.0"/>
<circle cx="285.5" cy="190.7" r="1.7"/>
<circle cx="296.3" cy="199.6" r="1.2"/>
<circle cx="289.0" cy="134.9" r="1.2"/>
<circle cx="283.1" cy="185.7" r="2.2"/>
<circle cx="293.6" cy="136.2" r="2.1"/>
<circle cx="242.0" cy="161.9" r="2.6"/>
<circle cx="293.5" cy="194.2" r="1.7"/>
<circle cx="317.2" cy="181.9" r="1.0"/>
<circle cx="315.6" cy="186.0" r="1.3"/>
<circle cx="258.6" cy="178.7" r="2.0"/>
<circle cx="316.6" cy="165.6" r="2.3"/>
<circle cx="237.5" cy="158.2" r="1.9"/>
<circle cx="221.0" cy="209.3" r="1.7"/>
<circle cx="269.5" cy="203.2" r="1.7"/>
<circle cx="265.7" cy="196.2" r="1.3"/>
<circle cx="263.9" cy="198.7" r="1.3"/>
<circle cx="259.6" cy="223.4" r="1.1"/>
<circle cx="260.9" cy="191.9" r="1.3"/>
<circle cx="226.9" cy="186.1" r="2.6"/>
<circle cx="255.0" cy="226.8" r="1.5"/>
<circle cx="236.2" cy="184.0" r="5.7"/>
<circle cx="217.6" cy="206.6" r="1.9"/>
<circle cx="257.0" cy="190.5" r="1.5"/>
<circle cx="246.6" cy="184.9" r="3.6"/>
<circle cx="233.5" cy="186.6" r="2.3"/>
<circle cx="222.5" cy="185.5" r="2.6"/>
<circle cx="253.2" cy="225.4" r="2.5"/>
<circle cx="223.9" cy="187.8" r="2.1"/>
<circle cx="241.5" cy="220.6" r="1.6"/>
<circle cx="227.6" cy="184.5" r="2.3"/>
<circle cx="224.9" cy="216.2" r="1.8"/>
<circle cx="222.3" cy="189.2" r="2.9"/>
<circle cx="246.2" cy="184.0" r="1.5"/>
<circle cx="265.4" cy="220.6" r="1.1"/>
<circle cx="267.5" cy="197.8" r="1.0"/>
<circle cx="233.8" cy="221.4" r="1.5"/>
<circle cx="256.4" cy="188.0" r="1.1"/>
<circle cx="220.6" cy="187.7" r="1.3"/>
<circle cx="241.9" cy="183.0" r="1.1"/>
<circle cx="238.0" cy="223.5" r="2.5"/>
<circle cx="226.8" cy="218.9" r="1.0"/>
<circle cx="257.9" cy="190.6" r="2.7"/>
<circle cx="227.1" cy="220.1" r="4.0"/>
<circle cx="221.4" cy="190.4" r="1.2"/>
<circle cx="245.8" cy="183.8" r="1.0"/>
<circle cx="259.3" cy="228.2" r="4.8"/>
<circle cx="236.4" cy="183.9" r="2.1"/>
<circle cx="214.4" cy="195.1" r="1.8"/>
<circle cx="266.5" cy="196.9" r="1.2"/>
<circle cx="225.5" cy="184.5" r="4.5"/>
<circle cx="214.2" cy="196.9" r="0.9"/>
<circle cx="266.9" cy="209.2" r="1.3"/>
<circle cx="216.3" cy="195.6" r="1.4"/>
<circle cx="221.5" cy="212.5" r="1.1"/>
<circle cx="249.2" cy="186.2" r="1.8"/>
<circle cx="226.2" cy="217.3" r="1.6"/>
<circle cx="223.0" cy="185.7" r="2.5"/>
<circle cx="216.8" cy="211.3" r="1.0"/>
<circle cx="228.6" cy="218.6" r="1.7"/>
<circle cx="263.1" cy="195.1" r="1.4"/>
<circle cx="266.9" cy="220.3" r="1.4"/>
<circle cx="266.5" cy="206.6" r="1.3"/>
<circle cx="263.5" cy="221.9" r="3.7"/>
<circle cx="233.3" cy="221.8" r="1.2"/>
<circle cx="257.0" cy="223.5" r="1.8"/>
<circle cx="227.7" cy="184.7" r="1.4"/>
<circle cx="242.7" cy="182.9" r="2.9"/>
<circle cx="268.4" cy="213.5" r="2.4"/>
<circle cx="268.7" cy="203.2" r="1.4"/>
<circle cx="260.8" cy="191.9" r="1.6"/>
<circle cx="238.0" cy="184.2" r="2.1"/>
<circle cx="231.3" cy="183.8" r="1.5"/>
<circle cx="264.1" cy="194.3" r="1.5"/>
<circle cx="258.0" cy="226.0" r="1.9"/>
<circle cx="230.4" cy="223.0" r="1.3"/>
<circle cx="217.1" cy="202.3" r="1.2"/>
<circle cx="242.8" cy="225.0" r="1.4"/>
<circle cx="261.7" cy="195.1" r="1.6"/>
<circle cx="217.0" cy="205.0" r="2.9"/>
<circle cx="220.0" cy="194.1" r="1.6"/>
<circle cx="216.4" cy="191.5" r="0.9"/>
<circle cx="266.6" cy="218.0" r="1.2"/>
<circle cx="241.6" cy="223.0" r="1.1"/>
<circle cx="222.1" cy="184.5" r="1.3"/>
<circle cx="262.5" cy="195.7" r="2.7"/>
<circle cx="269.0" cy="215.9" r="1.1"/>
<circle cx="263.7" cy="219.2" r="1.7"/>
<circle cx="252.2" cy="186.4" r="2.1"/>
<circle cx="267.3" cy="207.6" r="1.0"/>
<circle cx="244.9" cy="186.2" r="1.5"/>
<circle cx="233.0" cy="183.3" r="2.0"/>
<circle cx="235.7" cy="224.6" r="1.7"/>
<circle cx="233.4" cy="182.8" r="2.0"/>
<circle cx="249.6" cy="225.9" r="1.3"/>
<circle cx="244.1" cy="184.1" r="2.2"/>
<circle cx="216.7" cy="203.7" r="4.8"/>
<circle cx="248.8" cy="226.5" r="2.3"/>
<circle cx="243.8" cy="187.4" r="1.4"/>
<circle cx="269.2" cy="213.2" r="1.2"/>
<circle cx="224.1" cy="216.8" r="2.3"/>
<circle cx="238.4" cy="221.0" r="1.6"/>
<circle cx="262.7" cy="194.8" r="1.7"/>
<circle cx="265.9" cy="208.2" r="2.6"/>
<circle cx="218.3" cy="187.3" r="2.1"/>
<circle cx="267.5" cy="218.5" r="1.8"/>
<circle cx="228.3" cy="183.2" r="2.5"/>
<circle cx="231.1" cy="187.0" r="1.9"/>
<circle cx="253.3" cy="226.3" r="1.4"/>
<circle cx="260.9" cy="191.2" r="3.3"/>
<circle cx="246.9" cy="184.0" r="2.1"/>
<circle cx="265.8" cy="192.6" r="1.8"/>
<circle cx="268.6" cy="213.1" r="1.9"/>
<circle cx="225.2" cy="210.9" r="1.2"/>
<circle cx="258.8" cy="194.4" r="1.9"/>
<circle cx="251.8" cy="184.0" r="1.6"/>
<circle cx="221.9" cy="213.1" r="1.0"/>
<circle cx="230.4" cy="217.8" r="2.0"/>
<circle cx="224.1" cy="218.2" r="1.1"/>
<circle cx="239.2" cy="186.0" r="1.7"/>
<circle cx="223.8" cy="186.0" r="1.6"/>
<circle cx="265.7" cy="203.0" r="2.2"/>
<circle cx="229.6" cy="181.5" r="1.4"/>
</g>
<path d="M212.5,155.3h5M220,155.3h6M228,155.3h5l2.5,2.5" fill="none" stroke="#1c1c1c" stroke-width="1.1"/>
<rect x="279.2" y="160.5" width="42" height="18.5" fill="#fff"/>
<path d="M121,169.7H405" stroke="#ee7f7a" stroke-width="1.1" fill="none" stroke-dasharray="5 0.8 1.2 0.8" opacity="0.8"/>
<path d="M268.3,86.1L272.3,85.9M287.3,86.5L291.3,87.1M312.8,91.2L316.6,92.6M335.0,103.5L338.0,106.3M350.3,124.6L351.9,128.2M356.6,150.1L357.2,154.1M358.2,176.3L358.0,180.3M354.2,201.2L353.0,205.0M342.9,225.1L340.7,228.3M325.5,244.8L322.5,247.4M303.6,259.2L300.0,260.8M278.8,265.8L274.8,265.8M253.1,261.6L249.4,260.4M229.6,250.4L226.4,248.0M211.8,232.7L209.4,229.5M197.6,210.0L195.8,206.4M188.5,185.5L187.5,181.7M182.6,160.1L182.4,156.1M184.6,134.3L186.0,130.5M197.8,112.1L200.6,109.3M218.9,97.0L222.5,95.2M243.3,89.0L247.3,88.2M263.6,100.8L267.6,100.6M283.6,100.8L287.6,101.4M309.0,106.3L312.6,108.1M329.4,122.0L331.8,125.2M339.3,146.0L340.1,149.8M342.1,171.0L341.9,175.0M337.2,197.0L335.8,200.8M324.9,220.2L322.3,223.2M305.6,237.7L302.2,239.8M281.6,247.3L277.6,247.7M255.2,244.9L251.4,243.7M232.6,233.1L229.6,230.5M216.1,212.7L214.1,209.3M204.7,189.3L203.3,185.5M197.9,164.5L197.7,160.5M199.9,138.4L201.3,134.6M214.3,117.5L217.3,115.0M237.1,105.2L240.9,104.0M256.2,115.9L260.2,115.3M279.7,115.3L283.7,115.9M304.8,122.1L308.0,124.5M321.0,142.1L322.4,145.9M325.5,168.4L325.3,172.4M320.7,193.2L319.1,196.8M306.1,214.5L303.1,217.1M283.8,228.1L280.0,229.1M258.0,227.6L254.2,226.4M236.0,215.2L233.2,212.3M221.5,192.6L219.9,189.0M213.3,168.7L212.9,164.7M214.3,142.8L215.9,139.2M231.8,123.9L235.2,121.9M269.0,143.6L273.0,144.4M290.8,157.8L292.0,161.6M286.0,184.5L283.4,187.5M263.6,194.2L259.8,193.0M245.7,176.1L244.3,172.3M244.8,151.5L247.4,148.5" fill="none" stroke="#eee527" stroke-width="3.9" stroke-linecap="round"/>
<text x="233" y="170.3" font-size="13.4" font-weight="bold" fill="#74b88e" class="g" text-anchor="middle">300</text>
<text x="181.8" y="204.2" font-size="13.4" font-weight="bold" fill="#74b88e" class="g" text-anchor="middle">100</text>
<text x="227" y="208.3" font-size="13.4" font-weight="bold" fill="#74b88e" class="g" text-anchor="middle">200</text>
<text x="281.2" y="175.7" font-size="17.2">RITE</text>
<path d="M254.6,160.3L273,178.3M273,160.3L254.6,178.3" stroke="#32288c" stroke-width="2.3" fill="none"/>
<path d="M269.7,278V269.7H358V278" fill="none" stroke="#555" stroke-width="1.2"/>
<text x="314" y="299.5" font-size="19.3" text-anchor="middle">5 km</text>
<rect x="75.5" y="9.75" width="148.25" height="9.25" fill="#222"/>
<rect x="75.5" y="313" width="148.25" height="9" fill="#222"/>
<rect x="373.75" y="9.75" width="73.75" height="9.25" fill="#222"/>
<rect x="373.75" y="313" width="73.75" height="9" fill="#222"/>
<rect x="66.25" y="19" width="9.25" height="195.5" fill="#222"/>
<rect x="447.5" y="19" width="9.5" height="195.5" fill="#222"/>
<rect x="66.25" y="9.75" width="390.75" height="312.25" fill="none" stroke="#222" stroke-width="1"/>
<rect x="75.5" y="19" width="372.0" height="294" fill="none" stroke="#222" stroke-width="1"/>
<path d="M75.5,9.75V19H66.25M447.5,9.75V19H457M75.5,322V313H66.25M447.5,322V313H457" fill="none" stroke="#222" stroke-width="1"/>
<g id="inset">
<rect x="76.6" y="20.5" width="72.3" height="84" fill="#fff"/>
<g fill="none" stroke="#111" stroke-width="1.05" stroke-linejoin="round"><polyline points="83.7,52.8 86.8,54.3 89.8,52.8 92.9,51.2 94.4,48.2 96.7,45.9 99.8,46.6 102.0,48.9 104.3,52.8 105.9,56.6 108.2,58.9 110.5,61.2 112.8,62.7 116.6,64.2 121.2,67.3 125.7,70.3 128.8,73.4 130.3,76.5 131.9,79.5 130.0,82.6 128.3,81.0 129.1,78.0"/><polyline points="113.5,41.3 115.0,45.9 117.3,49.7 120.4,52.8 124.2,56.6 128.0,59.6 131.9,62.7 135.7,65.7 137.2,68.8 134.9,71.1 132.2,71.9 133.1,74.9 131.9,79.5"/><polyline points="100.5,58.9 102.8,58.1 103.6,61.2 103.1,65.0 101.6,66.5 100.5,64.2 100.5,58.9"/><polyline points="99.0,68.5 102.5,67.6 104.3,70.3 103.7,74.6 101.3,76.5 99.1,74.9 98.5,71.3 99.0,68.5"/><polyline points="115.8,80.3 120.4,78.7 125.0,79.5 127.3,78.0 126.7,82.6 124.2,85.6 120.4,84.9 117.3,82.6 115.8,80.3"/><polyline points="83.7,85.6 88.3,84.1 92.9,85.6 98.2,84.9 102.8,83.3 105.9,84.1 107.4,87.9 106.6,91.7 108.9,95.6 107.4,97.9"/><polyline points="99.0,84.9 98.2,91.7 96.7,97.9"/><polyline points="90.6,32.1 96.7,30.6 102.8,32.9 108.9,31.3 115.0,32.9 121.2,30.6 127.3,32.1 133.4,29.8 139.5,31.3 141.8,30.6"/><polyline points="85.2,39.8 89.1,37.5 92.9,38.2 94.4,35.2 92.9,32.9 90.6,32.1 87.5,29.8 84.5,30.6"/><polyline points="94.4,35.2 98.2,36.7 101.3,35.2 104.3,37.5 107.4,35.9 110.5,38.2 113.5,41.3"/><polyline points="85.2,45.9 87.5,44.3 86.0,41.3 85.2,39.8"/><polyline points="92.9,51.2 91.3,47.4 92.9,44.3 92.1,41.3 94.4,38.2"/><polyline points="127.3,32.1 128.8,36.7 132.6,39.0 136.5,38.2 140.3,40.5 141.8,40.1"/><polyline points="132.6,39.0 133.4,43.6 137.2,45.9 141.0,45.1"/><polyline points="137.2,45.9 138.0,50.5 141.3,52.8"/><polyline points="133.4,29.8 131.9,27.8"/><polyline points="108.9,31.3 109.7,28.3"/><polyline points="96.7,30.6 95.9,28.3"/><polyline points="110.5,38.2 112.8,35.2 115.0,32.9"/><polyline points="118.9,38.2 118.1,34.4 121.2,30.6"/><polyline points="140.3,64.2 141.8,61.2 141.0,56.6 141.8,52.8"/><polyline points="121.2,89.4 122.1,90.2"/><polyline points="104.3,37.5 103.6,40.5 99.8,42.0 96.7,45.9"/><polyline points="118.9,38.2 121.2,42.8 124.2,47.4 128.0,51.2 131.9,54.3 135.7,57.3 138.7,60.4 140.3,64.2 141.0,70.3" stroke-width="2"/></g>
<rect x="113.3" y="60.1" width="14.1" height="13.2" fill="none" stroke="#e8404a" stroke-width="1"/>
<rect x="76.6" y="20.5" width="65.3" height="7" fill="#000"/>
<rect x="83.2" y="97.9" width="58.7" height="6.6" fill="#000"/>
<rect x="76.6" y="20.5" width="72.3" height="84" fill="none" stroke="#111" stroke-width="0.8"/>
<rect x="83.2" y="27.5" width="58.7" height="70.4" fill="none" stroke="#111" stroke-width="0.8"/>
<path d="M141.9,20.5v7h7M83.2,104.5v-6.6h-6.6M141.9,104.5v-6.6h7" fill="none" stroke="#111" stroke-width="0.8"/>
</g>
<text x="30.8" y="26.1" font-size="19.3" letter-spacing="-0.3" dx="-0.6" text-anchor="middle">40°54'</text>
<text x="30.8" y="222.2" font-size="19.3" letter-spacing="-0.3" dx="-0.6" text-anchor="middle">40°48'</text>
<text x="76" y="345" font-size="19.3" letter-spacing="-0.3" dx="-0.6" text-anchor="middle">14°00'</text>
<text x="225.5" y="345" font-size="19.3" letter-spacing="-0.3" dx="-0.6" text-anchor="middle">14°06'</text>
<text x="373.4" y="345" font-size="19.3" letter-spacing="-0.3" dx="-0.6" text-anchor="middle">14°12'</text>
</g>
<g id="panelC">
<path d="M177.7,512.5C178.0,508.9 178.7,503.6 181.2,500.2C183.8,496.9 187.6,494.4 192.9,492.7C198.3,490.9 206.0,489.6 213.3,489.7C220.6,489.9 232.8,490.7 236.7,493.5C240.6,496.4 237.2,501.6 236.7,506.7C236.2,511.8 232.8,519.3 233.7,524.2C234.7,529.0 239.3,533.2 242.5,535.8C245.7,538.5 252.7,538.5 252.7,540.2C252.7,541.9 247.6,545.9 242.5,546.0C237.4,546.2 228.4,543.2 222.1,541.1C215.8,539.0 210.2,535.7 204.6,533.5C199.0,531.3 192.7,529.6 188.5,527.7C184.4,525.7 181.6,524.4 179.8,521.8C178.0,519.3 177.5,516.1 177.7,512.5Z" fill="#c4c4c4" opacity="0.22"/>
<g fill="none" stroke="#c0c0c0" stroke-width="0.8" >
<circle cx="253.3" cy="470.9" r="1.2"/>
<circle cx="319.5" cy="524.6" r="1.3"/>
<circle cx="250.1" cy="532.0" r="1.6"/>
<circle cx="329.3" cy="446.7" r="1.9"/>
<circle cx="237.0" cy="532.0" r="1.9"/>
<circle cx="319.9" cy="441.2" r="1.8"/>
<circle cx="344.2" cy="508.2" r="1.2"/>
<circle cx="342.7" cy="507.7" r="1.4"/>
<circle cx="255.0" cy="477.3" r="3.2"/>
<circle cx="330.6" cy="485.8" r="5.6"/>
<circle cx="258.9" cy="468.0" r="1.8"/>
<circle cx="276.3" cy="531.7" r="1.5"/>
<circle cx="233.8" cy="524.5" r="2.2"/>
<circle cx="335.0" cy="469.3" r="4.6"/>
<circle cx="343.9" cy="507.4" r="1.5"/>
<circle cx="283.1" cy="529.5" r="2.0"/>
<circle cx="297.2" cy="528.8" r="2.3"/>
<circle cx="270.2" cy="456.5" r="1.8"/>
<circle cx="286.8" cy="533.5" r="1.6"/>
<circle cx="266.9" cy="528.4" r="2.5"/>
<circle cx="334.6" cy="468.3" r="3.0"/>
<circle cx="237.4" cy="491.2" r="2.5"/>
<circle cx="256.9" cy="459.4" r="1.4"/>
<circle cx="351.5" cy="513.1" r="1.1"/>
<circle cx="237.4" cy="504.0" r="2.0"/>
<circle cx="280.6" cy="451.2" r="1.7"/>
<circle cx="254.9" cy="532.6" r="1.6"/>
<circle cx="321.0" cy="527.7" r="2.6"/>
<circle cx="334.0" cy="524.7" r="1.6"/>
<circle cx="278.8" cy="461.2" r="2.1"/>
<circle cx="270.2" cy="461.3" r="1.3"/>
<circle cx="270.1" cy="537.9" r="3.2"/>
<circle cx="333.9" cy="485.1" r="1.8"/>
<circle cx="237.1" cy="507.0" r="4.1"/>
<circle cx="257.3" cy="463.9" r="3.3"/>
<circle cx="299.0" cy="525.8" r="1.6"/>
<circle cx="339.5" cy="496.9" r="2.3"/>
<circle cx="330.0" cy="457.6" r="1.9"/>
<circle cx="304.5" cy="531.1" r="3.1"/>
<circle cx="320.2" cy="440.5" r="1.4"/>
<circle cx="334.4" cy="523.1" r="3.9"/>
<circle cx="233.8" cy="510.0" r="2.1"/>
<circle cx="344.9" cy="523.4" r="2.5"/>
<circle cx="237.0" cy="530.7" r="1.7"/>
<circle cx="293.1" cy="528.3" r="2.3"/>
<circle cx="279.8" cy="458.5" r="2.4"/>
<circle cx="348.6" cy="524.4" r="3.2"/>
<circle cx="253.0" cy="466.3" r="1.8"/>
<circle cx="326.8" cy="529.4" r="1.2"/>
<circle cx="320.7" cy="525.3" r="2.1"/>
<circle cx="233.8" cy="524.6" r="1.6"/>
<circle cx="257.0" cy="465.7" r="1.1"/>
<circle cx="262.2" cy="536.3" r="3.4"/>
<circle cx="344.2" cy="502.4" r="3.1"/>
<circle cx="246.3" cy="536.9" r="2.4"/>
<circle cx="298.4" cy="443.9" r="2.0"/>
<circle cx="312.0" cy="527.6" r="2.0"/>
<circle cx="238.4" cy="531.6" r="1.4"/>
<circle cx="235.1" cy="531.3" r="2.6"/>
<circle cx="234.8" cy="507.7" r="1.1"/>
<circle cx="234.3" cy="506.2" r="3.9"/>
<circle cx="256.0" cy="464.5" r="2.8"/>
<circle cx="248.0" cy="537.1" r="1.1"/>
<circle cx="326.4" cy="528.2" r="1.1"/>
<circle cx="256.1" cy="467.8" r="4.4"/>
<circle cx="239.9" cy="498.3" r="1.6"/>
<circle cx="334.4" cy="488.2" r="2.2"/>
<circle cx="340.2" cy="491.9" r="1.8"/>
<circle cx="254.7" cy="474.7" r="1.7"/>
<circle cx="248.5" cy="479.5" r="1.8"/>
<circle cx="287.1" cy="523.6" r="2.0"/>
<circle cx="268.1" cy="460.9" r="1.5"/>
<circle cx="274.1" cy="459.6" r="1.7"/>
<circle cx="246.8" cy="537.2" r="1.7"/>
<circle cx="262.8" cy="529.9" r="2.6"/>
<circle cx="340.3" cy="524.6" r="1.2"/>
<circle cx="334.0" cy="470.4" r="1.2"/>
<circle cx="234.0" cy="522.7" r="1.8"/>
<circle cx="267.1" cy="531.3" r="1.7"/>
<circle cx="239.4" cy="515.3" r="1.6"/>
<circle cx="335.7" cy="468.0" r="2.0"/>
<circle cx="254.2" cy="476.8" r="2.4"/>
<circle cx="249.5" cy="479.2" r="3.3"/>
<circle cx="294.9" cy="443.2" r="1.9"/>
<circle cx="254.1" cy="475.0" r="6.4"/>
<circle cx="337.1" cy="531.8" r="2.0"/>
<circle cx="241.7" cy="532.7" r="1.8"/>
<circle cx="349.0" cy="516.9" r="2.1"/>
<circle cx="249.0" cy="478.2" r="1.4"/>
<circle cx="232.4" cy="523.3" r="1.7"/>
<circle cx="248.0" cy="485.6" r="2.5"/>
<circle cx="294.4" cy="441.6" r="1.9"/>
<circle cx="329.5" cy="455.2" r="1.4"/>
<circle cx="352.5" cy="521.2" r="3.6"/>
<circle cx="285.6" cy="529.6" r="5.6"/>
<circle cx="329.5" cy="464.0" r="1.5"/>
<circle cx="343.5" cy="505.8" r="1.0"/>
<circle cx="256.9" cy="466.9" r="1.4"/>
<circle cx="327.4" cy="449.2" r="1.5"/>
<circle cx="285.4" cy="446.9" r="3.0"/>
<circle cx="346.5" cy="523.4" r="1.3"/>
<circle cx="314.6" cy="521.7" r="1.3"/>
<circle cx="237.1" cy="495.0" r="1.7"/>
<circle cx="336.2" cy="482.4" r="2.5"/>
<circle cx="274.6" cy="464.6" r="1.2"/>
<circle cx="240.6" cy="493.9" r="1.9"/>
<circle cx="279.0" cy="449.1" r="3.9"/>
<circle cx="235.3" cy="535.0" r="1.5"/>
<circle cx="281.0" cy="527.9" r="1.4"/>
<circle cx="340.9" cy="525.6" r="1.2"/>
<circle cx="328.9" cy="528.4" r="1.8"/>
<circle cx="253.7" cy="469.4" r="3.6"/>
<circle cx="333.9" cy="455.7" r="1.6"/>
<circle cx="269.7" cy="460.4" r="3.4"/>
<circle cx="236.9" cy="512.7" r="1.9"/>
<circle cx="273.9" cy="533.0" r="1.8"/>
<circle cx="249.5" cy="486.8" r="2.3"/>
<circle cx="337.9" cy="482.2" r="1.2"/>
<circle cx="295.4" cy="440.9" r="1.4"/>
<circle cx="296.2" cy="441.4" r="2.0"/>
<circle cx="291.6" cy="529.1" r="1.2"/>
<circle cx="240.5" cy="507.8" r="1.9"/>
<circle cx="344.1" cy="500.7" r="1.7"/>
<circle cx="249.6" cy="473.8" r="1.6"/>
<circle cx="237.4" cy="520.7" r="1.2"/>
<circle cx="235.9" cy="500.8" r="1.3"/>
<circle cx="335.3" cy="481.1" r="2.1"/>
<circle cx="269.6" cy="532.2" r="4.9"/>
<circle cx="328.0" cy="466.0" r="1.3"/>
<circle cx="281.9" cy="458.6" r="1.5"/>
<circle cx="344.9" cy="511.1" r="1.6"/>
<circle cx="276.4" cy="459.2" r="1.1"/>
<circle cx="277.2" cy="525.6" r="1.2"/>
<circle cx="236.1" cy="513.2" r="5.3"/>
<circle cx="271.0" cy="530.5" r="1.5"/>
<circle cx="324.1" cy="528.8" r="1.2"/>
<circle cx="254.9" cy="468.3" r="1.2"/>
<circle cx="343.8" cy="507.5" r="1.7"/>
<circle cx="327.2" cy="451.6" r="2.4"/>
<circle cx="243.4" cy="485.5" r="3.0"/>
<circle cx="234.4" cy="524.5" r="3.1"/>
<circle cx="290.1" cy="528.0" r="1.0"/>
<circle cx="336.9" cy="500.7" r="2.0"/>
<circle cx="262.1" cy="458.2" r="1.8"/>
<circle cx="248.2" cy="477.2" r="1.5"/>
<circle cx="247.0" cy="492.8" r="2.3"/>
<circle cx="248.5" cy="482.8" r="2.7"/>
<circle cx="329.9" cy="448.8" r="1.4"/>
<circle cx="315.4" cy="531.6" r="2.1"/>
<circle cx="234.7" cy="504.2" r="1.7"/>
<circle cx="234.6" cy="505.0" r="1.4"/>
<circle cx="333.9" cy="468.4" r="2.4"/>
<circle cx="330.8" cy="459.8" r="1.4"/>
<circle cx="273.5" cy="457.4" r="1.6"/>
<circle cx="287.6" cy="529.4" r="1.4"/>
<circle cx="246.2" cy="487.1" r="3.2"/>
<circle cx="293.6" cy="525.3" r="1.3"/>
<circle cx="243.1" cy="540.0" r="1.5"/>
<circle cx="285.8" cy="445.2" r="1.1"/>
<circle cx="350.0" cy="515.0" r="2.7"/>
<circle cx="316.9" cy="440.5" r="1.7"/>
<circle cx="331.4" cy="467.9" r="2.0"/>
<circle cx="335.2" cy="529.3" r="1.5"/>
<circle cx="258.3" cy="534.8" r="6.3"/>
<circle cx="324.1" cy="449.2" r="1.8"/>
<circle cx="329.3" cy="470.0" r="2.6"/>
<circle cx="345.2" cy="499.3" r="1.4"/>
<circle cx="283.2" cy="528.9" r="2.6"/>
<circle cx="342.2" cy="493.5" r="2.5"/>
<circle cx="252.1" cy="480.0" r="3.9"/>
<circle cx="274.4" cy="460.4" r="1.4"/>
<circle cx="247.9" cy="539.2" r="1.0"/>
<circle cx="335.7" cy="487.8" r="2.7"/>
<circle cx="243.2" cy="487.9" r="1.6"/>
<circle cx="342.0" cy="502.2" r="2.1"/>
<circle cx="244.8" cy="486.3" r="1.6"/>
<circle cx="245.4" cy="491.8" r="4.7"/>
<circle cx="340.0" cy="499.9" r="6.0"/>
<circle cx="338.1" cy="524.9" r="3.6"/>
<circle cx="312.1" cy="524.6" r="1.5"/>
<circle cx="331.2" cy="527.6" r="1.1"/>
<circle cx="314.9" cy="442.4" r="1.3"/>
<circle cx="330.3" cy="453.9" r="1.4"/>
<circle cx="297.5" cy="527.2" r="1.6"/>
<circle cx="330.7" cy="459.5" r="3.3"/>
<circle cx="339.8" cy="498.4" r="1.5"/>
<circle cx="351.1" cy="521.4" r="3.4"/>
<circle cx="259.7" cy="462.3" r="1.3"/>
<circle cx="253.0" cy="482.7" r="1.3"/>
<circle cx="264.4" cy="463.4" r="1.1"/>
<circle cx="253.0" cy="481.7" r="1.4"/>
<circle cx="248.7" cy="491.6" r="1.1"/>
<circle cx="237.2" cy="500.4" r="1.6"/>
<circle cx="266.3" cy="530.9" r="2.1"/>
<circle cx="340.7" cy="526.3" r="1.1"/>
<circle cx="242.1" cy="537.4" r="2.0"/>
<circle cx="340.6" cy="529.6" r="1.8"/>
<circle cx="256.4" cy="470.8" r="1.5"/>
<circle cx="290.5" cy="524.6" r="2.2"/>
<circle cx="282.5" cy="449.9" r="1.4"/>
<circle cx="231.6" cy="517.2" r="1.7"/>
<circle cx="234.6" cy="503.1" r="1.6"/>
<circle cx="332.2" cy="474.1" r="1.7"/>
<circle cx="345.1" cy="523.8" r="1.1"/>
<circle cx="306.8" cy="442.4" r="1.6"/>
<circle cx="330.7" cy="458.0" r="1.7"/>
<circle cx="333.5" cy="529.2" r="2.0"/>
<circle cx="297.1" cy="530.5" r="2.6"/>
<circle cx="236.3" cy="510.2" r="1.0"/>
<circle cx="335.6" cy="526.5" r="2.9"/>
<circle cx="343.4" cy="508.6" r="1.8"/>
<circle cx="243.4" cy="502.7" r="3.8"/>
<circle cx="234.1" cy="523.5" r="1.3"/>
<circle cx="303.2" cy="526.5" r="1.3"/>
<circle cx="327.1" cy="448.6" r="1.5"/>
<circle cx="317.4" cy="529.1" r="1.6"/>
<circle cx="252.5" cy="479.9" r="1.5"/>
<circle cx="326.0" cy="526.7" r="2.0"/>
<circle cx="278.0" cy="527.7" r="2.7"/>
<circle cx="306.8" cy="443.6" r="1.6"/>
<circle cx="328.6" cy="528.1" r="1.7"/>
<circle cx="332.2" cy="485.4" r="2.9"/>
<circle cx="288.8" cy="444.5" r="1.3"/>
<circle cx="339.8" cy="503.4" r="1.7"/>
<circle cx="233.9" cy="518.6" r="2.4"/>
<circle cx="251.1" cy="532.4" r="2.0"/>
<circle cx="333.1" cy="476.0" r="2.4"/>
<circle cx="270.3" cy="527.1" r="1.5"/>
<circle cx="262.3" cy="534.8" r="3.4"/>
<circle cx="256.8" cy="462.5" r="1.7"/>
<circle cx="346.7" cy="504.8" r="1.1"/>
<circle cx="273.4" cy="531.7" r="1.3"/>
<circle cx="342.0" cy="500.2" r="2.4"/>
<circle cx="288.1" cy="527.1" r="2.8"/>
<circle cx="279.4" cy="459.1" r="1.6"/>
<circle cx="301.8" cy="528.2" r="2.0"/>
<circle cx="303.2" cy="522.3" r="1.7"/>
<circle cx="243.8" cy="485.3" r="1.7"/>
<circle cx="308.0" cy="527.3" r="5.1"/>
<circle cx="344.5" cy="500.0" r="1.5"/>
<circle cx="318.7" cy="439.9" r="1.4"/>
<circle cx="290.2" cy="531.2" r="2.7"/>
<circle cx="308.4" cy="525.2" r="1.2"/>
<circle cx="334.4" cy="466.4" r="2.0"/>
<circle cx="251.6" cy="483.5" r="1.7"/>
<circle cx="244.5" cy="493.3" r="1.4"/>
<circle cx="325.2" cy="443.9" r="1.8"/>
<circle cx="335.1" cy="483.6" r="1.9"/>
<circle cx="247.9" cy="539.2" r="1.6"/>
<circle cx="269.2" cy="460.0" r="2.8"/>
<circle cx="252.3" cy="537.0" r="1.6"/>
<circle cx="255.4" cy="536.1" r="1.7"/>
<circle cx="235.1" cy="522.7" r="2.9"/>
<circle cx="249.6" cy="472.4" r="1.1"/>
<circle cx="300.6" cy="440.5" r="1.5"/>
<circle cx="311.4" cy="528.3" r="1.3"/>
<circle cx="346.7" cy="527.5" r="2.7"/>
<circle cx="334.8" cy="528.8" r="1.0"/>
<circle cx="235.1" cy="529.9" r="2.1"/>
<circle cx="275.5" cy="459.9" r="4.5"/>
<circle cx="324.3" cy="529.3" r="1.3"/>
<circle cx="259.5" cy="535.0" r="2.3"/>
<circle cx="337.1" cy="492.4" r="2.2"/>
<circle cx="307.9" cy="443.2" r="4.5"/>
<circle cx="238.2" cy="524.1" r="2.3"/>
<circle cx="254.3" cy="479.5" r="1.8"/>
<circle cx="330.9" cy="452.2" r="1.6"/>
<circle cx="263.6" cy="461.0" r="1.9"/>
<circle cx="335.0" cy="525.4" r="2.0"/>
<circle cx="261.4" cy="531.9" r="2.8"/>
<circle cx="241.9" cy="532.5" r="1.5"/>
<circle cx="332.8" cy="473.7" r="2.8"/>
<circle cx="330.8" cy="468.2" r="2.9"/>
<circle cx="310.8" cy="529.9" r="2.6"/>
<circle cx="344.7" cy="500.6" r="1.6"/>
<circle cx="345.0" cy="509.8" r="1.8"/>
<circle cx="280.0" cy="531.6" r="2.2"/>
<circle cx="336.8" cy="478.9" r="2.4"/>
<circle cx="339.9" cy="484.1" r="1.0"/>
<circle cx="245.6" cy="484.5" r="2.2"/>
<circle cx="266.2" cy="463.8" r="2.2"/>
<circle cx="297.8" cy="527.5" r="2.8"/>
<circle cx="293.3" cy="442.6" r="1.3"/>
<circle cx="237.0" cy="508.7" r="1.9"/>
<circle cx="344.1" cy="511.4" r="4.1"/>
<circle cx="272.5" cy="458.5" r="3.4"/>
<circle cx="297.7" cy="526.9" r="1.5"/>
<circle cx="242.6" cy="505.3" r="1.3"/>
<circle cx="326.6" cy="528.7" r="6.1"/>
<circle cx="257.3" cy="459.5" r="1.3"/>
<circle cx="253.2" cy="462.2" r="1.3"/>
<circle cx="232.9" cy="519.7" r="1.8"/>
<circle cx="285.0" cy="454.1" r="1.4"/>
<circle cx="248.9" cy="481.0" r="3.1"/>
<circle cx="315.5" cy="442.3" r="3.1"/>
<circle cx="345.7" cy="503.8" r="1.9"/>
<circle cx="330.5" cy="460.1" r="1.4"/>
<circle cx="297.3" cy="523.9" r="1.8"/>
<circle cx="256.1" cy="460.1" r="2.2"/>
<circle cx="326.2" cy="521.8" r="2.4"/>
<circle cx="281.2" cy="450.0" r="2.1"/>
<circle cx="333.2" cy="467.0" r="2.6"/>
<circle cx="304.0" cy="527.9" r="1.6"/>
<circle cx="314.2" cy="528.6" r="1.7"/>
<circle cx="315.5" cy="529.1" r="1.1"/>
<circle cx="335.8" cy="470.8" r="2.5"/>
<circle cx="243.9" cy="492.0" r="1.2"/>
<circle cx="309.7" cy="444.0" r="1.8"/>
<circle cx="346.6" cy="522.6" r="3.5"/>
<circle cx="323.3" cy="449.2" r="2.2"/>
<circle cx="328.8" cy="451.5" r="3.9"/>
<circle cx="350.4" cy="520.3" r="1.3"/>
<circle cx="333.7" cy="472.3" r="1.7"/>
<circle cx="339.4" cy="484.6" r="4.2"/>
<circle cx="244.6" cy="497.8" r="1.5"/>
<circle cx="236.0" cy="527.5" r="1.3"/>
<circle cx="334.7" cy="476.5" r="2.7"/>
<circle cx="238.5" cy="519.6" r="1.4"/>
<circle cx="301.1" cy="442.8" r="1.5"/>
<circle cx="332.0" cy="456.2" r="1.9"/>
<circle cx="336.9" cy="532.6" r="1.8"/>
<circle cx="245.1" cy="495.6" r="1.3"/>
<circle cx="328.2" cy="456.1" r="2.0"/>
<circle cx="235.2" cy="526.5" r="1.6"/>
<circle cx="346.8" cy="511.8" r="6.1"/>
<circle cx="328.3" cy="455.7" r="1.9"/>
<circle cx="343.9" cy="509.4" r="1.0"/>
<circle cx="251.7" cy="485.5" r="2.0"/>
<circle cx="292.0" cy="440.8" r="1.4"/>
<circle cx="240.4" cy="534.8" r="2.0"/>
<circle cx="304.3" cy="440.9" r="1.4"/>
<circle cx="326.9" cy="453.7" r="2.8"/>
<circle cx="331.9" cy="483.6" r="1.7"/>
<circle cx="329.7" cy="463.5" r="3.5"/>
<circle cx="294.2" cy="527.8" r="1.7"/>
<circle cx="328.9" cy="463.8" r="1.4"/>
<circle cx="347.2" cy="511.9" r="2.4"/>
<circle cx="233.5" cy="526.7" r="1.9"/>
<circle cx="242.5" cy="489.7" r="3.6"/>
<circle cx="255.5" cy="471.8" r="1.2"/>
<circle cx="259.9" cy="536.3" r="1.7"/>
<circle cx="310.6" cy="525.6" r="2.2"/>
<circle cx="331.3" cy="454.4" r="2.4"/>
<circle cx="334.0" cy="478.5" r="1.9"/>
<circle cx="337.4" cy="528.3" r="1.5"/>
<circle cx="237.3" cy="496.0" r="1.9"/>
<circle cx="271.1" cy="457.0" r="1.7"/>
<circle cx="241.1" cy="489.2" r="1.5"/>
<circle cx="348.0" cy="520.7" r="2.5"/>
<circle cx="336.4" cy="525.9" r="2.8"/>
<circle cx="244.7" cy="487.2" r="1.3"/>
<circle cx="268.2" cy="457.7" r="1.2"/>
<circle cx="267.6" cy="458.2" r="2.0"/>
<circle cx="244.3" cy="531.7" r="2.2"/>
<circle cx="250.7" cy="531.2" r="2.0"/>
<circle cx="266.3" cy="452.1" r="2.4"/>
<circle cx="346.3" cy="526.0" r="5.1"/>
<circle cx="234.9" cy="530.0" r="1.6"/>
<circle cx="334.0" cy="471.0" r="2.1"/>
<circle cx="340.4" cy="493.3" r="1.0"/>
<circle cx="245.6" cy="535.3" r="1.1"/>
<circle cx="334.5" cy="475.4" r="1.4"/>
<circle cx="285.5" cy="531.2" r="3.9"/>
<circle cx="245.5" cy="527.5" r="1.3"/>
<circle cx="272.3" cy="456.5" r="1.8"/>
<circle cx="320.4" cy="440.0" r="1.3"/>
<circle cx="292.8" cy="527.7" r="1.8"/>
<circle cx="340.8" cy="504.1" r="1.2"/>
<circle cx="249.1" cy="536.3" r="1.9"/>
<circle cx="285.2" cy="455.2" r="3.1"/>
<circle cx="311.4" cy="443.6" r="1.5"/>
<circle cx="228.8" cy="518.9" r="1.0"/>
<circle cx="320.2" cy="529.6" r="5.4"/>
<circle cx="329.4" cy="453.1" r="1.1"/>
<circle cx="310.5" cy="442.1" r="1.4"/>
<circle cx="331.7" cy="468.6" r="2.9"/>
<circle cx="303.0" cy="529.4" r="1.5"/>
<circle cx="275.3" cy="462.4" r="2.0"/>
<circle cx="335.4" cy="527.8" r="1.8"/>
<circle cx="240.2" cy="503.0" r="1.4"/>
<circle cx="314.3" cy="443.6" r="2.3"/>
<circle cx="297.2" cy="522.0" r="2.5"/>
<circle cx="326.8" cy="440.6" r="1.0"/>
<circle cx="327.1" cy="524.4" r="2.7"/>
<circle cx="290.8" cy="441.0" r="1.4"/>
<circle cx="348.8" cy="522.6" r="2.4"/>
<circle cx="236.4" cy="508.0" r="1.2"/>
<circle cx="257.1" cy="469.2" r="1.1"/>
<circle cx="352.6" cy="519.0" r="2.9"/>
<circle cx="320.8" cy="525.5" r="2.0"/>
<circle cx="293.5" cy="441.3" r="2.1"/>
<circle cx="245.6" cy="536.1" r="2.9"/>
<circle cx="241.7" cy="533.6" r="1.8"/>
<circle cx="311.5" cy="528.7" r="1.9"/>
<circle cx="267.5" cy="457.2" r="1.5"/>
<circle cx="265.5" cy="532.3" r="2.1"/>
<circle cx="338.6" cy="490.6" r="5.3"/>
<circle cx="348.5" cy="521.4" r="1.0"/>
<circle cx="332.0" cy="527.8" r="2.5"/>
<circle cx="295.4" cy="526.3" r="4.4"/>
<circle cx="239.3" cy="532.4" r="2.2"/>
<circle cx="246.0" cy="483.1" r="2.3"/>
<circle cx="336.6" cy="476.5" r="1.8"/>
<circle cx="282.8" cy="446.8" r="1.6"/>
<circle cx="251.1" cy="534.2" r="2.1"/>
<circle cx="264.0" cy="458.3" r="1.6"/>
<circle cx="329.7" cy="458.3" r="1.6"/>
<circle cx="348.5" cy="514.8" r="5.9"/>
<circle cx="236.6" cy="511.0" r="2.1"/>
<circle cx="259.4" cy="473.0" r="5.7"/>
<circle cx="258.0" cy="465.4" r="1.8"/>
<circle cx="279.0" cy="529.0" r="2.1"/>
<circle cx="301.0" cy="440.8" r="1.4"/>
<circle cx="255.5" cy="534.6" r="2.0"/>
<circle cx="254.0" cy="475.4" r="1.2"/>
<circle cx="286.3" cy="454.0" r="1.5"/>
<circle cx="338.2" cy="524.1" r="1.5"/>
<circle cx="340.5" cy="491.9" r="5.1"/>
<circle cx="336.6" cy="471.1" r="1.3"/>
<circle cx="284.0" cy="452.6" r="1.5"/>
<circle cx="345.8" cy="520.9" r="2.2"/>
<circle cx="236.0" cy="502.4" r="1.7"/>
<circle cx="234.2" cy="524.0" r="5.4"/>
<circle cx="284.3" cy="528.2" r="1.5"/>
<circle cx="307.0" cy="527.2" r="2.7"/>
<circle cx="233.3" cy="513.0" r="2.3"/>
<circle cx="322.8" cy="450.5" r="2.9"/>
<circle cx="290.2" cy="444.4" r="2.7"/>
<circle cx="269.4" cy="462.6" r="5.9"/>
<circle cx="321.3" cy="447.8" r="1.0"/>
<circle cx="335.7" cy="475.8" r="2.0"/>
<circle cx="234.3" cy="526.8" r="1.4"/>
<circle cx="338.9" cy="500.5" r="2.3"/>
<circle cx="288.3" cy="528.8" r="2.6"/>
<circle cx="246.7" cy="489.7" r="1.6"/>
<circle cx="343.5" cy="499.8" r="1.4"/>
<circle cx="253.8" cy="475.2" r="5.0"/>
<circle cx="284.8" cy="441.7" r="2.6"/>
<circle cx="241.9" cy="497.9" r="3.5"/>
<circle cx="277.3" cy="531.3" r="1.7"/>
<circle cx="242.6" cy="496.7" r="1.5"/>
<circle cx="354.4" cy="515.8" r="5.6"/>
<circle cx="275.3" cy="538.1" r="1.9"/>
<circle cx="347.4" cy="515.7" r="1.2"/>
<circle cx="236.5" cy="494.6" r="1.3"/>
<circle cx="231.0" cy="511.9" r="1.8"/>
<circle cx="236.5" cy="530.3" r="1.3"/>
<circle cx="301.9" cy="526.3" r="1.4"/>
<circle cx="233.6" cy="524.3" r="1.5"/>
<circle cx="288.2" cy="442.4" r="2.2"/>
<circle cx="327.1" cy="448.3" r="3.3"/>
<circle cx="342.1" cy="501.9" r="1.5"/>
<circle cx="279.1" cy="459.9" r="1.9"/>
<circle cx="252.5" cy="479.9" r="4.2"/>
<circle cx="304.7" cy="525.7" r="1.6"/>
<circle cx="286.1" cy="525.5" r="1.7"/>
<circle cx="306.8" cy="440.8" r="1.2"/>
<circle cx="264.2" cy="462.0" r="1.0"/>
<circle cx="329.0" cy="473.0" r="2.2"/>
<circle cx="244.3" cy="483.2" r="1.3"/>
<circle cx="347.9" cy="525.2" r="1.9"/>
<circle cx="233.6" cy="519.1" r="1.2"/>
<circle cx="277.7" cy="527.5" r="1.6"/>
<circle cx="305.8" cy="530.1" r="1.0"/>
<circle cx="348.4" cy="497.5" r="1.1"/>
<circle cx="279.5" cy="459.4" r="1.9"/>
<circle cx="267.3" cy="458.5" r="1.1"/>
<circle cx="308.3" cy="527.8" r="1.1"/>
<circle cx="337.9" cy="528.7" r="1.5"/>
<circle cx="242.4" cy="498.8" r="1.0"/>
<circle cx="248.6" cy="482.4" r="2.1"/>
<circle cx="255.5" cy="471.3" r="4.7"/>
<circle cx="279.3" cy="459.4" r="2.3"/>
<circle cx="345.3" cy="492.3" r="1.6"/>
<circle cx="245.6" cy="487.7" r="2.3"/>
<circle cx="327.3" cy="450.8" r="1.3"/>
<circle cx="233.1" cy="516.4" r="1.3"/>
<circle cx="270.7" cy="459.1" r="1.9"/>
<circle cx="334.0" cy="470.9" r="2.2"/>
<circle cx="332.7" cy="484.6" r="1.5"/>
<circle cx="325.7" cy="526.2" r="4.6"/>
<circle cx="328.8" cy="447.1" r="2.9"/>
<circle cx="247.4" cy="487.4" r="0.9"/>
<circle cx="293.2" cy="444.5" r="1.4"/>
<circle cx="252.4" cy="476.6" r="1.8"/>
<circle cx="243.3" cy="499.9" r="2.3"/>
<circle cx="241.9" cy="487.6" r="2.6"/>
<circle cx="347.5" cy="511.0" r="1.3"/>
<circle cx="257.0" cy="531.5" r="4.3"/>
<circle cx="307.5" cy="440.1" r="1.6"/>
<circle cx="333.6" cy="476.8" r="1.9"/>
<circle cx="315.9" cy="523.7" r="4.3"/>
<circle cx="220.0" cy="511.0" r="2.6"/>
<circle cx="222.2" cy="496.8" r="1.1"/>
<circle cx="180.0" cy="510.0" r="2.0"/>
<circle cx="236.1" cy="538.1" r="3.5"/>
<circle cx="214.1" cy="526.5" r="1.6"/>
<circle cx="234.6" cy="507.8" r="2.2"/>
<circle cx="227.2" cy="534.4" r="1.6"/>
<circle cx="214.1" cy="502.3" r="1.6"/>
<circle cx="218.4" cy="519.4" r="2.7"/>
<circle cx="223.5" cy="528.3" r="1.8"/>
<circle cx="198.4" cy="494.3" r="1.3"/>
<circle cx="233.2" cy="514.7" r="2.1"/>
<circle cx="232.2" cy="533.4" r="3.2"/>
<circle cx="199.7" cy="530.1" r="1.9"/>
<circle cx="204.9" cy="532.3" r="5.5"/>
<circle cx="228.6" cy="526.3" r="1.3"/>
<circle cx="219.5" cy="540.0" r="1.7"/>
<circle cx="233.0" cy="520.5" r="1.6"/>
<circle cx="226.0" cy="527.7" r="1.5"/>
<circle cx="228.4" cy="533.8" r="2.6"/>
<circle cx="215.0" cy="497.6" r="1.1"/>
<circle cx="225.6" cy="494.3" r="2.9"/>
<circle cx="206.4" cy="513.7" r="1.7"/>
<circle cx="212.8" cy="531.2" r="2.0"/>
<circle cx="203.0" cy="523.6" r="1.4"/>
<circle cx="207.7" cy="530.9" r="3.5"/>
<circle cx="205.3" cy="496.0" r="1.9"/>
<circle cx="211.6" cy="514.9" r="2.1"/>
<circle cx="219.8" cy="506.5" r="1.7"/>
<circle cx="214.9" cy="533.2" r="2.3"/>
<circle cx="182.2" cy="515.5" r="1.3"/>
<circle cx="191.9" cy="520.3" r="1.1"/>
<circle cx="207.9" cy="525.4" r="1.6"/>
<circle cx="225.1" cy="493.2" r="2.9"/>
<circle cx="205.9" cy="493.0" r="1.8"/>
<circle cx="192.3" cy="496.5" r="2.1"/>
<circle cx="187.5" cy="520.8" r="1.3"/>
<circle cx="200.6" cy="503.9" r="2.5"/>
<circle cx="188.3" cy="517.8" r="1.4"/>
<circle cx="227.5" cy="495.7" r="2.9"/>
<circle cx="217.9" cy="493.2" r="1.0"/>
<circle cx="206.8" cy="497.6" r="1.8"/>
<circle cx="236.8" cy="532.7" r="2.7"/>
<circle cx="209.8" cy="496.9" r="1.4"/>
<circle cx="223.9" cy="517.3" r="1.7"/>
<circle cx="209.6" cy="530.6" r="1.0"/>
<circle cx="225.9" cy="508.9" r="1.1"/>
<circle cx="221.5" cy="540.7" r="4.1"/>
<circle cx="222.5" cy="524.4" r="1.9"/>
<circle cx="223.4" cy="502.3" r="1.3"/>
<circle cx="189.7" cy="511.6" r="1.4"/>
<circle cx="236.3" cy="539.3" r="2.5"/>
<circle cx="190.9" cy="504.8" r="1.5"/>
<circle cx="233.6" cy="532.3" r="3.9"/>
<circle cx="198.6" cy="497.0" r="1.3"/>
<circle cx="206.6" cy="505.8" r="1.8"/>
<circle cx="209.8" cy="520.0" r="1.4"/>
<circle cx="213.7" cy="521.7" r="1.1"/>
<circle cx="217.4" cy="520.0" r="1.8"/>
<circle cx="214.6" cy="494.9" r="2.6"/>
<circle cx="232.3" cy="521.5" r="2.0"/>
<circle cx="231.4" cy="504.7" r="2.6"/>
<circle cx="242.4" cy="536.4" r="2.2"/>
<circle cx="237.4" cy="529.4" r="2.7"/>
<circle cx="236.4" cy="534.6" r="1.1"/>
<circle cx="232.1" cy="495.1" r="1.2"/>
<circle cx="239.8" cy="539.0" r="2.9"/>
<circle cx="236.0" cy="527.8" r="1.9"/>
<circle cx="219.9" cy="504.3" r="1.9"/>
<circle cx="205.2" cy="504.4" r="1.1"/>
<circle cx="210.5" cy="523.5" r="2.5"/>
<circle cx="187.8" cy="504.9" r="1.9"/>
<circle cx="186.6" cy="500.6" r="1.7"/>
<circle cx="205.4" cy="498.1" r="1.4"/>
<circle cx="213.4" cy="497.2" r="1.5"/>
<circle cx="226.8" cy="535.5" r="1.4"/>
<circle cx="183.3" cy="519.8" r="1.5"/>
<circle cx="229.5" cy="518.9" r="1.2"/>
<circle cx="193.7" cy="501.3" r="3.0"/>
<circle cx="251.6" cy="540.5" r="1.7"/>
<circle cx="229.4" cy="518.9" r="1.2"/>
<circle cx="231.4" cy="517.0" r="2.0"/>
<circle cx="208.4" cy="521.5" r="2.5"/>
<circle cx="236.5" cy="537.0" r="2.0"/>
<circle cx="222.8" cy="532.8" r="1.5"/>
<circle cx="195.5" cy="524.5" r="1.8"/>
<circle cx="218.0" cy="535.6" r="4.1"/>
<circle cx="214.9" cy="511.2" r="1.3"/>
<circle cx="226.2" cy="532.4" r="1.3"/>
<circle cx="196.0" cy="520.6" r="1.7"/>
<circle cx="223.8" cy="508.8" r="1.4"/>
<circle cx="209.5" cy="494.7" r="1.2"/>
<circle cx="195.5" cy="504.5" r="1.3"/>
<circle cx="225.0" cy="522.3" r="1.9"/>
<circle cx="207.5" cy="518.8" r="2.0"/>
<circle cx="236.1" cy="530.1" r="3.1"/>
<circle cx="221.6" cy="534.1" r="1.4"/>
<circle cx="184.6" cy="516.3" r="1.5"/>
<circle cx="227.7" cy="535.9" r="3.9"/>
<circle cx="234.4" cy="493.6" r="1.5"/>
<circle cx="185.0" cy="510.0" r="1.3"/>
<circle cx="206.8" cy="496.1" r="2.9"/>
<circle cx="202.4" cy="507.3" r="1.7"/>
<circle cx="211.9" cy="495.6" r="1.6"/>
<circle cx="232.2" cy="522.9" r="1.1"/>
<circle cx="194.3" cy="524.8" r="1.6"/>
<circle cx="209.9" cy="510.7" r="3.6"/>
<circle cx="202.5" cy="504.0" r="2.3"/>
<circle cx="212.1" cy="531.2" r="1.7"/>
<circle cx="214.0" cy="509.9" r="1.7"/>
<circle cx="225.4" cy="530.3" r="1.7"/>
<circle cx="236.0" cy="497.3" r="1.8"/>
<circle cx="190.4" cy="495.0" r="3.6"/>
<circle cx="205.7" cy="506.5" r="2.7"/>
<circle cx="220.4" cy="525.5" r="1.9"/>
<circle cx="234.2" cy="532.2" r="4.4"/>
<circle cx="204.5" cy="493.6" r="2.4"/>
<circle cx="224.4" cy="538.5" r="1.0"/>
<circle cx="208.4" cy="499.4" r="3.2"/>
<circle cx="187.3" cy="505.8" r="1.1"/>
<circle cx="205.6" cy="527.6" r="1.9"/>
<circle cx="190.4" cy="495.0" r="2.7"/>
<circle cx="184.8" cy="516.4" r="6.0"/>
<circle cx="221.9" cy="506.2" r="2.7"/>
<circle cx="205.2" cy="502.2" r="1.5"/>
<circle cx="232.0" cy="511.9" r="2.5"/>
<circle cx="242.2" cy="544.2" r="2.4"/>
<circle cx="227.8" cy="532.7" r="1.2"/>
<circle cx="210.3" cy="535.1" r="1.1"/>
<circle cx="200.7" cy="498.3" r="1.2"/>
<circle cx="228.7" cy="527.8" r="2.3"/>
<circle cx="202.5" cy="528.2" r="1.4"/>
<circle cx="232.6" cy="516.6" r="4.9"/>
<circle cx="233.3" cy="536.2" r="1.3"/>
<circle cx="214.4" cy="494.3" r="2.0"/>
<circle cx="235.5" cy="512.9" r="1.1"/>
<circle cx="210.8" cy="530.9" r="1.2"/>
<circle cx="236.2" cy="506.0" r="1.6"/>
<circle cx="232.2" cy="523.1" r="1.4"/>
<circle cx="204.9" cy="520.6" r="5.8"/>
<circle cx="235.5" cy="509.4" r="2.8"/>
<circle cx="200.7" cy="503.9" r="1.7"/>
<circle cx="215.1" cy="505.2" r="1.4"/>
<circle cx="202.8" cy="510.1" r="2.0"/>
<circle cx="195.8" cy="496.6" r="1.9"/>
<circle cx="226.4" cy="508.4" r="2.4"/>
<circle cx="234.9" cy="541.9" r="2.7"/>
<circle cx="225.8" cy="533.4" r="1.0"/>
<circle cx="234.2" cy="515.2" r="2.5"/>
<circle cx="200.7" cy="521.1" r="1.9"/>
<circle cx="222.3" cy="525.2" r="2.3"/>
<circle cx="222.6" cy="493.7" r="1.2"/>
<circle cx="239.4" cy="532.7" r="2.3"/>
<circle cx="187.3" cy="510.1" r="1.5"/>
<circle cx="216.4" cy="514.2" r="1.3"/>
<circle cx="234.4" cy="528.4" r="6.3"/>
<circle cx="205.7" cy="530.8" r="2.4"/>
<circle cx="219.5" cy="511.2" r="3.0"/>
<circle cx="205.8" cy="515.8" r="5.5"/>
<circle cx="211.8" cy="490.3" r="1.6"/>
<circle cx="217.5" cy="536.9" r="3.5"/>
<circle cx="201.1" cy="526.8" r="1.0"/>
<circle cx="240.1" cy="538.3" r="2.4"/>
<circle cx="203.4" cy="527.8" r="2.0"/>
<circle cx="222.8" cy="502.2" r="1.5"/>
<circle cx="234.0" cy="497.7" r="2.2"/>
<circle cx="229.7" cy="512.0" r="1.5"/>
<circle cx="236.0" cy="534.3" r="1.8"/>
<circle cx="188.9" cy="520.6" r="1.9"/>
<circle cx="210.7" cy="500.4" r="2.9"/>
<circle cx="190.5" cy="520.5" r="2.0"/>
<circle cx="236.8" cy="535.4" r="1.9"/>
<circle cx="237.6" cy="535.7" r="2.6"/>
<circle cx="206.0" cy="521.1" r="3.8"/>
<circle cx="198.4" cy="526.4" r="1.4"/>
<circle cx="180.2" cy="509.4" r="1.2"/>
<circle cx="188.2" cy="511.2" r="2.5"/>
<circle cx="225.1" cy="519.5" r="1.1"/>
<circle cx="181.7" cy="518.5" r="3.0"/>
<circle cx="179.2" cy="514.6" r="2.4"/>
<circle cx="205.9" cy="526.1" r="1.4"/>
<circle cx="220.5" cy="511.8" r="1.4"/>
<circle cx="207.1" cy="527.8" r="2.1"/>
<circle cx="225.5" cy="526.3" r="3.1"/>
<circle cx="235.1" cy="510.3" r="1.7"/>
<circle cx="225.5" cy="524.1" r="3.6"/>
<circle cx="226.0" cy="524.9" r="1.3"/>
<circle cx="226.4" cy="516.8" r="3.0"/>
<circle cx="216.5" cy="497.8" r="1.2"/>
<circle cx="224.7" cy="511.3" r="1.6"/>
<circle cx="227.7" cy="510.7" r="2.4"/>
<circle cx="194.7" cy="508.1" r="1.6"/>
<circle cx="217.9" cy="503.7" r="2.0"/>
<circle cx="207.8" cy="507.2" r="2.4"/>
<circle cx="209.7" cy="511.3" r="1.8"/>
<circle cx="218.0" cy="517.4" r="1.9"/>
<circle cx="231.4" cy="524.1" r="1.6"/>
<circle cx="248.2" cy="539.1" r="1.2"/>
<circle cx="216.9" cy="503.4" r="2.1"/>
<circle cx="219.0" cy="531.5" r="2.0"/>
<circle cx="217.4" cy="521.4" r="1.5"/>
<circle cx="207.4" cy="525.4" r="1.8"/>
<circle cx="237.7" cy="536.2" r="1.6"/>
<circle cx="226.1" cy="508.7" r="2.3"/>
<circle cx="215.9" cy="509.1" r="3.9"/>
<circle cx="224.2" cy="538.3" r="2.5"/>
<circle cx="229.9" cy="508.7" r="1.8"/>
<circle cx="209.1" cy="492.3" r="5.0"/>
<circle cx="190.0" cy="501.4" r="1.2"/>
<circle cx="224.6" cy="525.0" r="1.8"/>
<circle cx="230.6" cy="537.5" r="1.2"/>
<circle cx="229.3" cy="519.9" r="1.6"/>
<circle cx="179.9" cy="516.7" r="2.8"/>
<circle cx="236.9" cy="535.5" r="2.7"/>
<circle cx="210.3" cy="491.1" r="1.9"/>
<circle cx="236.6" cy="541.4" r="1.3"/>
<circle cx="218.6" cy="511.8" r="2.1"/>
<circle cx="188.4" cy="505.6" r="1.2"/>
<circle cx="217.0" cy="533.1" r="1.7"/>
<circle cx="185.5" cy="516.5" r="1.4"/>
<circle cx="215.1" cy="517.0" r="2.9"/>
<circle cx="196.6" cy="497.5" r="2.6"/>
<circle cx="243.8" cy="542.9" r="1.6"/>
<circle cx="207.5" cy="511.2" r="1.3"/>
<circle cx="205.1" cy="494.4" r="1.1"/>
<circle cx="203.1" cy="513.5" r="1.0"/>
<circle cx="230.6" cy="506.9" r="1.8"/>
<circle cx="206.8" cy="532.3" r="3.9"/>
<circle cx="214.8" cy="524.2" r="1.8"/>
<circle cx="209.3" cy="500.6" r="1.5"/>
<circle cx="208.0" cy="520.9" r="1.8"/>
<circle cx="239.8" cy="535.4" r="2.1"/>
<circle cx="219.7" cy="501.4" r="1.4"/>
<circle cx="214.1" cy="494.8" r="5.9"/>
<circle cx="209.3" cy="517.1" r="0.9"/>
<circle cx="210.2" cy="497.8" r="1.8"/>
<circle cx="223.9" cy="499.9" r="1.5"/>
<circle cx="198.8" cy="508.8" r="1.4"/>
<circle cx="197.0" cy="528.6" r="1.9"/>
<circle cx="223.6" cy="538.2" r="1.5"/>
<circle cx="235.6" cy="535.2" r="2.0"/>
<circle cx="196.2" cy="522.6" r="2.6"/>
<circle cx="197.3" cy="530.5" r="3.6"/>
<circle cx="204.5" cy="525.2" r="1.9"/>
<circle cx="212.3" cy="516.3" r="2.9"/>
<circle cx="225.8" cy="541.2" r="2.0"/>
<circle cx="214.8" cy="525.7" r="1.5"/>
<circle cx="229.0" cy="534.2" r="2.1"/>
<circle cx="185.0" cy="521.1" r="1.3"/>
<circle cx="222.8" cy="533.8" r="1.2"/>
<circle cx="221.3" cy="525.2" r="1.1"/>
<circle cx="204.0" cy="527.1" r="1.8"/>
<circle cx="198.5" cy="520.5" r="1.2"/>
<circle cx="216.7" cy="519.8" r="1.5"/>
<circle cx="187.1" cy="518.6" r="1.6"/>
<circle cx="234.6" cy="496.8" r="5.9"/>
<circle cx="205.2" cy="491.6" r="2.3"/>
<circle cx="229.9" cy="509.7" r="2.3"/>
<circle cx="217.1" cy="497.8" r="1.4"/>
<circle cx="204.3" cy="530.5" r="2.7"/>
<circle cx="210.3" cy="505.0" r="1.0"/>
<circle cx="215.6" cy="537.0" r="2.6"/>
<circle cx="221.6" cy="504.8" r="1.7"/>
<circle cx="234.2" cy="514.8" r="2.3"/>
<circle cx="217.3" cy="504.3" r="3.1"/>
<circle cx="197.3" cy="498.5" r="2.5"/>
<circle cx="218.6" cy="530.4" r="1.0"/>
<circle cx="215.5" cy="520.6" r="2.3"/>
<circle cx="217.9" cy="499.2" r="1.0"/>
<circle cx="217.3" cy="498.8" r="1.8"/>
<circle cx="237.4" cy="533.7" r="1.9"/>
<circle cx="235.3" cy="502.2" r="2.5"/>
<circle cx="210.2" cy="494.8" r="1.2"/>
<circle cx="221.3" cy="501.1" r="1.8"/>
<circle cx="194.4" cy="522.1" r="1.8"/>
<circle cx="208.0" cy="527.2" r="1.7"/>
<circle cx="187.0" cy="521.7" r="3.8"/>
<circle cx="220.7" cy="527.4" r="1.2"/>
<circle cx="204.2" cy="514.6" r="1.4"/>
<circle cx="201.8" cy="493.7" r="2.5"/>
<circle cx="215.2" cy="532.7" r="1.4"/>
<circle cx="220.3" cy="531.7" r="1.4"/>
<circle cx="221.9" cy="504.6" r="1.0"/>
<circle cx="215.4" cy="536.3" r="2.2"/>
<circle cx="189.5" cy="497.2" r="1.8"/>
<circle cx="224.1" cy="526.3" r="1.5"/>
<circle cx="207.8" cy="495.6" r="1.8"/>
<circle cx="205.5" cy="499.1" r="1.1"/>
<circle cx="220.8" cy="526.9" r="2.7"/>
<circle cx="217.8" cy="511.1" r="1.6"/>
<circle cx="197.3" cy="528.1" r="6.1"/>
<circle cx="215.3" cy="519.9" r="2.6"/>
<circle cx="246.6" cy="540.1" r="2.4"/>
<circle cx="205.9" cy="499.3" r="1.0"/>
<circle cx="234.1" cy="530.6" r="1.7"/>
<circle cx="226.5" cy="530.0" r="1.9"/>
<circle cx="192.2" cy="506.9" r="2.0"/>
<circle cx="220.3" cy="540.0" r="1.3"/>
<circle cx="219.1" cy="521.3" r="1.8"/>
<circle cx="234.9" cy="529.3" r="1.2"/>
<circle cx="231.9" cy="492.8" r="1.4"/>
<circle cx="194.3" cy="517.0" r="2.3"/>
<circle cx="202.2" cy="498.9" r="1.0"/>
<circle cx="220.4" cy="510.2" r="2.2"/>
<circle cx="232.5" cy="502.0" r="2.0"/>
<circle cx="197.5" cy="502.0" r="1.4"/>
<circle cx="225.1" cy="524.5" r="5.9"/>
<circle cx="219.6" cy="504.6" r="1.1"/>
<circle cx="210.5" cy="495.0" r="2.0"/>
<circle cx="201.3" cy="498.3" r="1.5"/>
<circle cx="246.4" cy="541.6" r="3.3"/>
<circle cx="236.2" cy="532.9" r="1.5"/>
<circle cx="208.2" cy="516.8" r="1.4"/>
<circle cx="189.7" cy="519.7" r="2.4"/>
<circle cx="231.3" cy="504.4" r="1.6"/>
<circle cx="213.2" cy="495.8" r="1.3"/>
<circle cx="209.4" cy="524.1" r="3.5"/>
<circle cx="213.0" cy="501.2" r="3.0"/>
<circle cx="220.4" cy="513.9" r="1.9"/>
<circle cx="219.7" cy="535.3" r="2.0"/>
<circle cx="194.7" cy="518.6" r="2.1"/>
<circle cx="182.8" cy="501.6" r="3.2"/>
<circle cx="213.6" cy="532.0" r="2.1"/>
<circle cx="196.3" cy="523.9" r="1.7"/>
<circle cx="205.5" cy="499.0" r="1.7"/>
<circle cx="234.8" cy="534.1" r="5.7"/>
<circle cx="233.3" cy="535.1" r="1.6"/>
<circle cx="183.1" cy="512.0" r="2.7"/>
<circle cx="229.8" cy="508.5" r="6.2"/>
<circle cx="219.8" cy="501.8" r="2.3"/>
<circle cx="230.6" cy="515.4" r="1.5"/>
<circle cx="230.0" cy="496.2" r="1.3"/>
<circle cx="190.3" cy="511.3" r="3.7"/>
<circle cx="204.1" cy="533.2" r="1.6"/>
<circle cx="234.5" cy="494.5" r="1.6"/>
<circle cx="231.5" cy="496.8" r="2.0"/>
<circle cx="208.5" cy="495.9" r="2.5"/>
<circle cx="227.9" cy="512.3" r="1.5"/>
<circle cx="210.3" cy="521.8" r="2.1"/>
<circle cx="203.0" cy="493.2" r="1.5"/>
<circle cx="238.8" cy="520.5" r="1.6"/>
<circle cx="180.2" cy="523.2" r="2.2"/>
<circle cx="192.1" cy="529.2" r="1.4"/>
<circle cx="239.3" cy="529.5" r="2.9"/>
<circle cx="240.1" cy="508.9" r="2.0"/>
<circle cx="235.7" cy="521.0" r="1.0"/>
<circle cx="182.9" cy="500.6" r="1.7"/>
<circle cx="242.6" cy="544.0" r="2.3"/>
<circle cx="188.9" cy="497.0" r="1.2"/>
<circle cx="207.6" cy="491.3" r="1.1"/>
<circle cx="206.8" cy="538.9" r="1.3"/>
<circle cx="237.7" cy="545.4" r="1.0"/>
<circle cx="195.4" cy="527.1" r="1.0"/>
<circle cx="236.4" cy="494.3" r="2.2"/>
<circle cx="178.5" cy="501.5" r="1.3"/>
<circle cx="179.8" cy="515.6" r="1.8"/>
<circle cx="181.3" cy="504.9" r="4.3"/>
<circle cx="218.6" cy="534.6" r="3.8"/>
<circle cx="188.7" cy="496.4" r="1.1"/>
<circle cx="199.6" cy="491.9" r="1.9"/>
<circle cx="176.2" cy="512.2" r="6.0"/>
<circle cx="216.1" cy="489.9" r="1.4"/>
<circle cx="239.8" cy="540.3" r="2.7"/>
<circle cx="235.2" cy="503.0" r="1.0"/>
<circle cx="236.1" cy="531.6" r="3.4"/>
<circle cx="213.2" cy="534.1" r="2.8"/>
<circle cx="196.2" cy="494.3" r="1.3"/>
<circle cx="241.5" cy="531.3" r="3.6"/>
<circle cx="177.4" cy="521.4" r="2.1"/>
<circle cx="180.4" cy="521.3" r="1.9"/>
<circle cx="191.9" cy="527.6" r="2.1"/>
<circle cx="179.3" cy="504.4" r="1.1"/>
<circle cx="235.6" cy="494.1" r="2.0"/>
<circle cx="218.6" cy="494.9" r="3.1"/>
<circle cx="240.5" cy="548.8" r="5.4"/>
<circle cx="243.5" cy="533.0" r="2.6"/>
<circle cx="206.6" cy="490.8" r="6.1"/>
<circle cx="215.3" cy="534.8" r="1.9"/>
<circle cx="238.4" cy="522.7" r="2.5"/>
<circle cx="207.5" cy="537.4" r="2.3"/>
<circle cx="226.6" cy="543.5" r="2.5"/>
<circle cx="194.8" cy="496.5" r="1.3"/>
<circle cx="229.0" cy="494.1" r="1.5"/>
<circle cx="241.4" cy="525.1" r="1.0"/>
<circle cx="230.4" cy="523.5" r="1.2"/>
<circle cx="204.2" cy="490.8" r="1.3"/>
<circle cx="237.1" cy="523.1" r="1.3"/>
<circle cx="234.0" cy="510.2" r="3.1"/>
<circle cx="207.1" cy="488.9" r="2.3"/>
<circle cx="234.9" cy="506.6" r="1.5"/>
<circle cx="175.7" cy="519.9" r="1.5"/>
<circle cx="217.0" cy="485.4" r="1.5"/>
<circle cx="183.4" cy="523.5" r="4.1"/>
<circle cx="190.1" cy="491.9" r="2.1"/>
<circle cx="225.5" cy="493.5" r="1.4"/>
<circle cx="194.5" cy="488.5" r="1.3"/>
<circle cx="183.9" cy="518.9" r="1.7"/>
<circle cx="191.5" cy="530.9" r="1.0"/>
<circle cx="242.2" cy="544.5" r="1.8"/>
<circle cx="183.6" cy="522.3" r="1.9"/>
<circle cx="229.5" cy="489.9" r="1.3"/>
<circle cx="180.9" cy="501.1" r="1.1"/>
<circle cx="240.7" cy="516.0" r="1.7"/>
<circle cx="177.0" cy="516.7" r="3.8"/>
<circle cx="223.2" cy="494.1" r="1.8"/>
<circle cx="199.2" cy="493.4" r="1.9"/>
<circle cx="236.2" cy="495.8" r="1.3"/>
<circle cx="195.9" cy="537.5" r="1.4"/>
<circle cx="221.0" cy="486.3" r="1.5"/>
<circle cx="240.9" cy="537.3" r="1.2"/>
<circle cx="234.8" cy="494.2" r="4.6"/>
<circle cx="199.5" cy="533.7" r="1.6"/>
<circle cx="236.5" cy="515.5" r="1.6"/>
<circle cx="234.0" cy="522.4" r="3.2"/>
<circle cx="249.5" cy="545.7" r="1.7"/>
<circle cx="196.0" cy="531.9" r="2.4"/>
<circle cx="204.0" cy="489.8" r="3.1"/>
<circle cx="236.9" cy="541.7" r="3.7"/>
<circle cx="234.3" cy="516.5" r="1.2"/>
<circle cx="181.7" cy="523.6" r="1.7"/>
<circle cx="225.5" cy="539.1" r="2.2"/>
<circle cx="238.5" cy="506.9" r="2.0"/>
<circle cx="248.2" cy="541.8" r="1.3"/>
<circle cx="207.8" cy="489.2" r="2.2"/>
<circle cx="187.0" cy="506.4" r="1.1"/>
<circle cx="222.5" cy="538.0" r="1.2"/>
<circle cx="245.7" cy="547.5" r="2.9"/>
<circle cx="186.0" cy="499.1" r="1.1"/>
<circle cx="187.1" cy="528.1" r="2.7"/>
<circle cx="248.4" cy="542.1" r="4.0"/>
<circle cx="241.6" cy="529.5" r="1.9"/>
<circle cx="202.5" cy="490.4" r="2.6"/>
<circle cx="238.5" cy="542.0" r="6.1"/>
<circle cx="204.6" cy="536.8" r="1.8"/>
<circle cx="247.3" cy="539.7" r="6.2"/>
<circle cx="176.5" cy="520.2" r="3.9"/>
<circle cx="196.0" cy="524.4" r="1.4"/>
<circle cx="194.7" cy="493.0" r="2.6"/>
<circle cx="186.7" cy="520.3" r="1.9"/>
<circle cx="224.2" cy="491.5" r="1.7"/>
<circle cx="179.1" cy="515.8" r="3.0"/>
<circle cx="231.1" cy="511.0" r="1.7"/>
<circle cx="228.9" cy="494.7" r="1.9"/>
<circle cx="232.3" cy="517.8" r="1.9"/>
<circle cx="209.4" cy="492.2" r="1.6"/>
<circle cx="177.1" cy="509.5" r="1.7"/>
<circle cx="210.6" cy="485.9" r="2.8"/>
<circle cx="182.0" cy="501.9" r="2.5"/>
<circle cx="200.3" cy="532.7" r="2.4"/>
<circle cx="222.0" cy="544.8" r="3.9"/>
<circle cx="237.7" cy="553.7" r="1.8"/>
<circle cx="230.6" cy="535.9" r="5.8"/>
<circle cx="246.2" cy="550.0" r="2.8"/>
<circle cx="262.4" cy="535.2" r="2.4"/>
<circle cx="254.8" cy="549.3" r="1.9"/>
<circle cx="235.6" cy="547.3" r="3.0"/>
<circle cx="213.0" cy="546.1" r="5.1"/>
<circle cx="237.0" cy="552.0" r="2.6"/>
<circle cx="207.6" cy="542.1" r="2.1"/>
<circle cx="218.5" cy="548.0" r="1.4"/>
<circle cx="222.5" cy="556.8" r="1.2"/>
<circle cx="215.2" cy="566.8" r="1.4"/>
<circle cx="230.9" cy="553.2" r="1.1"/>
<circle cx="225.7" cy="558.2" r="1.3"/>
<circle cx="220.4" cy="555.4" r="2.3"/>
<circle cx="236.1" cy="568.7" r="3.1"/>
<circle cx="220.5" cy="573.9" r="2.0"/>
<circle cx="248.9" cy="540.4" r="2.6"/>
<circle cx="239.8" cy="556.7" r="1.4"/>
<circle cx="224.7" cy="551.9" r="3.8"/>
<circle cx="237.0" cy="567.7" r="4.5"/>
<circle cx="221.2" cy="518.3" r="1.2"/>
<circle cx="221.9" cy="540.3" r="3.3"/>
<circle cx="245.2" cy="527.0" r="1.8"/>
<circle cx="208.2" cy="565.1" r="5.5"/>
<circle cx="237.3" cy="551.7" r="2.1"/>
<circle cx="257.9" cy="556.4" r="2.0"/>
<circle cx="199.4" cy="553.3" r="2.1"/>
<circle cx="264.6" cy="551.7" r="2.5"/>
<circle cx="203.5" cy="553.3" r="4.3"/>
<circle cx="199.0" cy="543.2" r="3.1"/>
<circle cx="200.8" cy="523.2" r="1.2"/>
<circle cx="214.2" cy="552.3" r="1.5"/>
<circle cx="222.3" cy="547.5" r="1.9"/>
<circle cx="203.7" cy="541.3" r="1.2"/>
<circle cx="227.8" cy="540.8" r="1.2"/>
<circle cx="242.1" cy="564.3" r="2.0"/>
<circle cx="219.6" cy="539.2" r="1.1"/>
<circle cx="232.3" cy="535.3" r="2.5"/>
<circle cx="239.3" cy="556.4" r="1.3"/>
<circle cx="255.2" cy="566.2" r="1.7"/>
<circle cx="229.3" cy="532.4" r="2.7"/>
<circle cx="240.8" cy="536.1" r="1.1"/>
<circle cx="237.8" cy="535.3" r="1.7"/>
<circle cx="231.3" cy="552.9" r="1.3"/>
<circle cx="225.7" cy="555.1" r="3.3"/>
<circle cx="235.7" cy="565.5" r="1.9"/>
<circle cx="240.4" cy="547.5" r="2.5"/>
<circle cx="211.8" cy="545.2" r="1.4"/>
<circle cx="225.2" cy="540.8" r="6.3"/>
<circle cx="235.4" cy="562.0" r="2.4"/>
<circle cx="234.8" cy="540.9" r="2.1"/>
<circle cx="235.3" cy="538.0" r="1.2"/>
<circle cx="253.8" cy="545.4" r="1.3"/>
<circle cx="245.5" cy="547.8" r="4.8"/>
<circle cx="212.6" cy="553.0" r="3.6"/>
<circle cx="253.1" cy="540.5" r="1.3"/>
<circle cx="220.5" cy="569.6" r="6.3"/>
<circle cx="218.7" cy="571.6" r="2.6"/>
<circle cx="245.9" cy="534.4" r="3.2"/>
<circle cx="225.8" cy="549.9" r="3.2"/>
<circle cx="206.4" cy="535.8" r="3.5"/>
<circle cx="239.3" cy="544.7" r="1.7"/>
<circle cx="236.9" cy="533.0" r="2.3"/>
<circle cx="238.2" cy="544.7" r="1.6"/>
<circle cx="210.4" cy="551.4" r="1.5"/>
<circle cx="241.9" cy="550.2" r="1.2"/>
<circle cx="221.6" cy="531.7" r="1.9"/>
<circle cx="243.3" cy="523.6" r="1.6"/>
<circle cx="212.7" cy="525.4" r="1.6"/>
<circle cx="216.7" cy="563.1" r="1.9"/>
<circle cx="202.3" cy="545.9" r="2.3"/>
<circle cx="219.3" cy="549.0" r="1.7"/>
<circle cx="245.6" cy="565.9" r="5.3"/>
<circle cx="233.8" cy="535.8" r="1.6"/>
<circle cx="222.3" cy="553.2" r="1.7"/>
<circle cx="250.0" cy="539.8" r="3.7"/>
<circle cx="233.4" cy="550.4" r="1.6"/>
<circle cx="241.4" cy="525.1" r="3.3"/>
<circle cx="235.2" cy="543.2" r="5.1"/>
<circle cx="228.9" cy="547.2" r="2.2"/>
<circle cx="232.3" cy="549.4" r="1.4"/>
<circle cx="236.6" cy="530.5" r="2.0"/>
<circle cx="246.6" cy="545.1" r="6.3"/>
<circle cx="239.0" cy="558.9" r="1.4"/>
<circle cx="243.0" cy="547.0" r="1.7"/>
<circle cx="214.4" cy="558.6" r="3.4"/>
<circle cx="203.5" cy="556.2" r="2.2"/>
<circle cx="234.9" cy="551.1" r="2.8"/>
<circle cx="232.5" cy="543.6" r="2.9"/>
<circle cx="291.6" cy="557.3" r="1.4"/>
<circle cx="266.9" cy="536.1" r="1.5"/>
<circle cx="259.1" cy="559.3" r="1.9"/>
<circle cx="247.4" cy="541.9" r="1.4"/>
<circle cx="253.6" cy="550.7" r="1.3"/>
<circle cx="265.7" cy="544.1" r="2.2"/>
<circle cx="242.5" cy="551.5" r="2.8"/>
<circle cx="261.3" cy="558.5" r="2.1"/>
<circle cx="257.8" cy="553.7" r="1.3"/>
<circle cx="230.5" cy="537.0" r="1.4"/>
<circle cx="262.1" cy="545.7" r="1.3"/>
<circle cx="281.6" cy="549.2" r="2.7"/>
<circle cx="254.9" cy="565.0" r="1.0"/>
<circle cx="258.5" cy="543.4" r="1.6"/>
<circle cx="266.1" cy="544.4" r="4.0"/>
<circle cx="252.2" cy="541.0" r="3.4"/>
<circle cx="233.9" cy="547.5" r="2.3"/>
<circle cx="262.4" cy="554.0" r="1.7"/>
<circle cx="254.8" cy="539.0" r="1.9"/>
<circle cx="251.5" cy="560.7" r="2.5"/>
<circle cx="284.2" cy="559.4" r="3.1"/>
<circle cx="263.7" cy="555.3" r="4.1"/>
<circle cx="249.9" cy="553.6" r="1.4"/>
<circle cx="250.9" cy="570.1" r="6.0"/>
<circle cx="287.5" cy="538.4" r="1.3"/>
<circle cx="274.9" cy="543.0" r="1.8"/>
<circle cx="233.4" cy="567.5" r="1.1"/>
<circle cx="271.6" cy="536.9" r="1.2"/>
<circle cx="253.9" cy="550.8" r="3.4"/>
<circle cx="252.5" cy="546.4" r="5.0"/>
<circle cx="279.9" cy="539.5" r="1.4"/>
<circle cx="273.4" cy="539.4" r="1.6"/>
<circle cx="248.3" cy="546.1" r="1.9"/>
<circle cx="261.6" cy="550.4" r="4.5"/>
<circle cx="272.1" cy="552.5" r="1.1"/>
<circle cx="260.0" cy="553.4" r="1.4"/>
<circle cx="268.6" cy="548.6" r="2.8"/>
<circle cx="250.7" cy="548.3" r="1.4"/>
<circle cx="282.7" cy="553.5" r="1.4"/>
<circle cx="285.2" cy="542.2" r="6.3"/>
<circle cx="251.3" cy="536.0" r="3.6"/>
<circle cx="239.1" cy="555.6" r="1.8"/>
<circle cx="254.3" cy="529.2" r="5.6"/>
<circle cx="275.8" cy="553.1" r="3.4"/>
<circle cx="265.3" cy="559.6" r="1.8"/>
<circle cx="261.0" cy="536.7" r="2.5"/>
<circle cx="264.8" cy="527.8" r="2.2"/>
<circle cx="238.2" cy="540.3" r="1.8"/>
<circle cx="261.2" cy="550.8" r="1.5"/>
<circle cx="260.3" cy="539.2" r="3.4"/>
<circle cx="251.8" cy="557.3" r="2.4"/>
<circle cx="274.6" cy="553.8" r="3.5"/>
<circle cx="251.4" cy="539.0" r="1.3"/>
<circle cx="251.7" cy="554.9" r="1.5"/>
<circle cx="273.2" cy="534.9" r="1.1"/>
<circle cx="272.1" cy="543.9" r="2.8"/>
<circle cx="263.1" cy="550.0" r="1.1"/>
<circle cx="265.7" cy="560.0" r="1.3"/>
<circle cx="268.2" cy="555.1" r="3.1"/>
<circle cx="267.4" cy="561.6" r="1.7"/>
<circle cx="246.2" cy="534.8" r="3.2"/>
<circle cx="275.4" cy="577.1" r="1.2"/>
<circle cx="294.3" cy="540.0" r="1.2"/>
<circle cx="268.1" cy="550.5" r="2.7"/>
<circle cx="257.7" cy="562.2" r="1.6"/>
<circle cx="280.8" cy="552.6" r="2.1"/>
<circle cx="272.1" cy="558.9" r="1.7"/>
<circle cx="249.9" cy="536.8" r="1.3"/>
<circle cx="260.4" cy="537.8" r="1.8"/>
<circle cx="252.7" cy="543.9" r="2.6"/>
<circle cx="304.1" cy="535.1" r="3.2"/>
<circle cx="310.3" cy="549.7" r="2.2"/>
<circle cx="292.1" cy="538.4" r="1.4"/>
<circle cx="322.6" cy="543.4" r="3.8"/>
<circle cx="317.0" cy="533.4" r="2.0"/>
<circle cx="334.9" cy="533.9" r="1.5"/>
<circle cx="324.7" cy="541.9" r="1.7"/>
<circle cx="272.2" cy="545.4" r="5.6"/>
<circle cx="289.3" cy="533.4" r="1.2"/>
<circle cx="310.9" cy="548.6" r="2.2"/>
<circle cx="323.2" cy="536.7" r="5.7"/>
<circle cx="286.5" cy="550.8" r="5.7"/>
<circle cx="301.9" cy="529.0" r="4.6"/>
<circle cx="308.3" cy="535.9" r="1.8"/>
<circle cx="299.3" cy="543.6" r="1.2"/>
<circle cx="323.3" cy="538.0" r="1.3"/>
<circle cx="280.1" cy="534.1" r="1.2"/>
<circle cx="312.6" cy="543.6" r="2.2"/>
<circle cx="284.4" cy="546.0" r="1.6"/>
<circle cx="310.8" cy="535.5" r="3.1"/>
<circle cx="281.6" cy="544.6" r="2.3"/>
<circle cx="295.4" cy="535.2" r="6.0"/>
<circle cx="321.6" cy="532.4" r="1.2"/>
<circle cx="280.9" cy="548.6" r="3.6"/>
<circle cx="303.2" cy="534.2" r="5.0"/>
<circle cx="315.4" cy="534.8" r="1.9"/>
<circle cx="299.2" cy="544.5" r="1.4"/>
<circle cx="295.7" cy="531.0" r="1.8"/>
<circle cx="301.8" cy="531.2" r="1.3"/>
<circle cx="282.4" cy="536.6" r="3.0"/>
<circle cx="317.9" cy="539.3" r="1.8"/>
<circle cx="317.2" cy="545.8" r="1.6"/>
<circle cx="339.0" cy="537.1" r="1.2"/>
<circle cx="307.7" cy="533.5" r="1.9"/>
<circle cx="325.1" cy="528.6" r="3.4"/>
<circle cx="290.8" cy="536.1" r="3.0"/>
<circle cx="312.0" cy="535.0" r="2.4"/>
<circle cx="281.8" cy="547.2" r="1.3"/>
<circle cx="306.8" cy="526.0" r="3.6"/>
<circle cx="294.8" cy="524.7" r="3.4"/>
<circle cx="322.2" cy="524.0" r="2.3"/>
<circle cx="257.8" cy="536.7" r="1.8"/>
<circle cx="298.0" cy="541.9" r="1.6"/>
<circle cx="295.1" cy="551.1" r="1.1"/>
<circle cx="315.9" cy="525.9" r="2.1"/>
<circle cx="286.2" cy="539.7" r="2.7"/>
<circle cx="292.5" cy="533.7" r="1.9"/>
<circle cx="328.7" cy="551.1" r="4.9"/>
<circle cx="288.1" cy="541.2" r="1.5"/>
<circle cx="293.2" cy="550.4" r="1.4"/>
<circle cx="326.1" cy="538.3" r="1.3"/>
<circle cx="256.4" cy="546.8" r="1.4"/>
<circle cx="310.3" cy="541.3" r="2.1"/>
<circle cx="308.9" cy="533.5" r="2.1"/>
<circle cx="307.2" cy="545.8" r="1.4"/>
<circle cx="263.3" cy="536.1" r="2.6"/>
<circle cx="271.1" cy="520.9" r="1.3"/>
<circle cx="283.8" cy="537.7" r="1.9"/>
<circle cx="283.2" cy="528.9" r="1.6"/>
<circle cx="315.9" cy="542.6" r="1.1"/>
<circle cx="339.6" cy="475.8" r="5.6"/>
<circle cx="355.5" cy="515.3" r="1.1"/>
<circle cx="356.4" cy="488.1" r="1.3"/>
<circle cx="355.7" cy="489.9" r="1.5"/>
<circle cx="319.7" cy="542.9" r="1.0"/>
<circle cx="367.2" cy="516.8" r="1.6"/>
<circle cx="354.8" cy="485.6" r="1.3"/>
<circle cx="343.5" cy="507.6" r="5.4"/>
<circle cx="377.6" cy="464.6" r="1.4"/>
<circle cx="355.2" cy="483.4" r="1.2"/>
<circle cx="363.6" cy="495.8" r="1.4"/>
<circle cx="356.4" cy="483.5" r="2.3"/>
<circle cx="327.4" cy="477.8" r="3.5"/>
<circle cx="369.1" cy="513.6" r="1.4"/>
<circle cx="341.3" cy="486.5" r="2.3"/>
<circle cx="367.7" cy="482.0" r="1.7"/>
<circle cx="353.3" cy="486.6" r="1.1"/>
<circle cx="344.6" cy="485.3" r="1.2"/>
<circle cx="325.8" cy="516.7" r="6.4"/>
<circle cx="349.2" cy="505.9" r="2.0"/>
<circle cx="342.9" cy="467.0" r="4.7"/>
<circle cx="355.2" cy="528.6" r="2.3"/>
<circle cx="266.1" cy="482.8" r="2.6"/>
<circle cx="245.5" cy="472.6" r="2.2"/>
<circle cx="221.4" cy="466.1" r="1.5"/>
<circle cx="256.4" cy="455.2" r="1.5"/>
<circle cx="264.2" cy="490.3" r="2.3"/>
<circle cx="237.4" cy="470.8" r="2.3"/>
<circle cx="244.0" cy="447.9" r="1.3"/>
<circle cx="252.5" cy="464.0" r="1.7"/>
<circle cx="241.9" cy="469.4" r="3.5"/>
<circle cx="254.3" cy="471.1" r="1.3"/>
<circle cx="246.1" cy="459.0" r="1.3"/>
<circle cx="232.4" cy="480.9" r="1.4"/>
<circle cx="233.8" cy="475.3" r="1.3"/>
<circle cx="236.6" cy="470.1" r="2.2"/>
<circle cx="231.6" cy="463.2" r="1.6"/>
<circle cx="255.0" cy="452.2" r="2.1"/>
<circle cx="243.4" cy="465.1" r="1.3"/>
<circle cx="237.3" cy="467.6" r="1.3"/>
<circle cx="249.1" cy="458.0" r="3.7"/>
<circle cx="240.5" cy="472.5" r="1.4"/>
<circle cx="251.8" cy="477.4" r="1.1"/>
<circle cx="258.6" cy="465.0" r="1.1"/>
<circle cx="241.6" cy="465.6" r="4.2"/>
<circle cx="232.7" cy="469.4" r="1.4"/>
<circle cx="225.7" cy="485.9" r="1.1"/>
<circle cx="260.3" cy="483.6" r="1.6"/>
<circle cx="244.1" cy="453.4" r="1.2"/>
<circle cx="232.6" cy="464.8" r="1.6"/>
<circle cx="238.4" cy="494.6" r="2.4"/>
<circle cx="226.3" cy="466.4" r="2.0"/>
<circle cx="113.5" cy="517.7" r="3.6"/>
<circle cx="117.0" cy="505.2" r="2.0"/>
<circle cx="155.0" cy="508.0" r="2.0"/>
<circle cx="161.0" cy="508.0" r="1.5"/>
<circle cx="246.5" cy="453.5" r="4.0"/>
<circle cx="376.0" cy="508.5" r="4.5"/>
<circle cx="385.0" cy="513.0" r="2.5"/>
<circle cx="365.0" cy="591.5" r="3.5"/>
<circle cx="363.0" cy="476.0" r="2.0"/>
<circle cx="370.0" cy="456.0" r="1.8"/>
<circle cx="388.0" cy="563.0" r="2.0"/>
<circle cx="390.0" cy="568.0" r="1.5"/>
<circle cx="337.0" cy="538.0" r="5.0"/>
<circle cx="345.0" cy="520.0" r="4.5"/>
<circle cx="307.0" cy="544.0" r="4.0"/>
<circle cx="237.0" cy="575.0" r="4.5"/>
<circle cx="265.0" cy="574.0" r="4.0"/>
<circle cx="372.0" cy="552.0" r="1.3"/>
<circle cx="378.0" cy="582.0" r="1.5"/>
<circle cx="396.0" cy="507.0" r="1.3"/>
<circle cx="403.0" cy="505.0" r="1.2"/>
<circle cx="258.0" cy="460.0" r="2.0"/>
<circle cx="217.0" cy="471.0" r="2.5"/>
<circle cx="199.0" cy="481.0" r="2.0"/>
</g>
<path d="M289.2,442.5C292.1,440.6 295.5,440.1 300.8,439.6C306.2,439.1 316.9,437.6 321.2,439.6C325.6,441.5 325.1,446.4 327.1,451.2C329.0,456.1 331.2,462.4 332.9,468.7C334.6,475.1 335.3,482.8 337.3,489.2C339.2,495.5 342.4,501.8 344.6,506.7C346.8,511.5 350.4,514.9 350.4,518.3C350.4,521.7 349.0,525.4 344.6,527.1C340.2,528.8 330.5,528.5 324.2,528.5C317.8,528.5 313.5,527.1 306.7,527.1C299.9,527.1 291.1,527.6 283.3,528.5C275.6,529.5 266.8,531.7 260.0,532.9C253.2,534.1 246.9,537.3 242.5,535.8C238.1,534.4 234.7,529.0 233.7,524.2C232.8,519.3 235.2,512.0 236.7,506.7C238.1,501.3 240.1,496.5 242.5,492.1C244.9,487.7 248.8,485.3 251.2,480.4C253.7,475.6 254.2,466.6 257.1,462.9C260.0,459.3 265.1,459.0 268.7,458.5C272.4,458.1 276.5,461.2 279.0,460.0C281.4,458.8 281.6,454.2 283.3,451.2C285.0,448.3 286.2,444.4 289.2,442.5Z" fill="#c4c4c4" stroke="#c4c4c4" stroke-width="3" stroke-linejoin="round"/>
<ellipse cx="291.5" cy="570" rx="55.4" ry="37.8" fill="#d6eaf8" fill-opacity="0.6" stroke="#bccad1" stroke-width="0.7"/>
<path d="M268.8,446.5L279.2,457M279.2,446.5L268.8,457" stroke="#2d2485" stroke-width="2.2" fill="none"/>
<path d="M75.50,437.5v-9.5M75.50,635.75v9.5M80.47,437.5v-5M80.47,635.75v5M85.44,437.5v-5M85.44,635.75v5M90.41,437.5v-5M90.41,635.75v5M95.38,437.5v-5M95.38,635.75v5M100.34,437.5v-9.5M100.34,635.75v9.5M105.31,437.5v-5M105.31,635.75v5M110.28,437.5v-5M110.28,635.75v5M115.25,437.5v-5M115.25,635.75v5M120.22,437.5v-5M120.22,635.75v5M125.19,437.5v-9.5M125.19,635.75v9.5M130.16,437.5v-5M130.16,635.75v5M135.12,437.5v-5M135.12,635.75v5M140.09,437.5v-5M140.09,635.75v5M145.06,437.5v-5M145.06,635.75v5M150.03,437.5v-9.5M150.03,635.75v9.5M155.00,437.5v-5M155.00,635.75v5M159.97,437.5v-5M159.97,635.75v5M164.94,437.5v-5M164.94,635.75v5M169.91,437.5v-5M169.91,635.75v5M174.88,437.5v-9.5M174.88,635.75v9.5M179.84,437.5v-5M179.84,635.75v5M184.81,437.5v-5M184.81,635.75v5M189.78,437.5v-5M189.78,635.75v5M194.75,437.5v-5M194.75,635.75v5M199.72,437.5v-9.5M199.72,635.75v9.5M204.69,437.5v-5M204.69,635.75v5M209.66,437.5v-5M209.66,635.75v5M214.62,437.5v-5M214.62,635.75v5M219.59,437.5v-5M219.59,635.75v5M224.56,437.5v-9.5M224.56,635.75v9.5M229.53,437.5v-5M229.53,635.75v5M234.50,437.5v-5M234.50,635.75v5M239.47,437.5v-5M239.47,635.75v5M244.44,437.5v-5M244.44,635.75v5M249.41,437.5v-9.5M249.41,635.75v9.5M254.38,437.5v-5M254.38,635.75v5M259.34,437.5v-5M259.34,635.75v5M264.31,437.5v-5M264.31,635.75v5M269.28,437.5v-5M269.28,635.75v5M274.25,437.5v-9.5M274.25,635.75v9.5M279.22,437.5v-5M279.22,635.75v5M284.19,437.5v-5M284.19,635.75v5M289.16,437.5v-5M289.16,635.75v5M294.12,437.5v-5M294.12,635.75v5M299.09,437.5v-9.5M299.09,635.75v9.5M304.06,437.5v-5M304.06,635.75v5M309.03,437.5v-5M309.03,635.75v5M314.00,437.5v-5M314.00,635.75v5M318.97,437.5v-5M318.97,635.75v5M323.94,437.5v-9.5M323.94,635.75v9.5M328.91,437.5v-5M328.91,635.75v5M333.88,437.5v-5M333.88,635.75v5M338.84,437.5v-5M338.84,635.75v5M343.81,437.5v-5M343.81,635.75v5M348.78,437.5v-9.5M348.78,635.75v9.5M353.75,437.5v-5M353.75,635.75v5M358.72,437.5v-5M358.72,635.75v5M363.69,437.5v-5M363.69,635.75v5M368.66,437.5v-5M368.66,635.75v5M373.62,437.5v-9.5M373.62,635.75v9.5M378.59,437.5v-5M378.59,635.75v5M383.56,437.5v-5M383.56,635.75v5M388.53,437.5v-5M388.53,635.75v5M393.50,437.5v-5M393.50,635.75v5M398.47,437.5v-9.5M398.47,635.75v9.5M403.44,437.5v-5M403.44,635.75v5M408.41,437.5v-5M408.41,635.75v5M413.38,437.5v-5M413.38,635.75v5M418.34,437.5v-5M418.34,635.75v5M423.31,437.5v-9.5M423.31,635.75v9.5M428.28,437.5v-5M428.28,635.75v5M433.25,437.5v-5M433.25,635.75v5M438.22,437.5v-5M438.22,635.75v5M443.19,437.5v-5M443.19,635.75v5M448.16,437.5v-9.5M448.16,635.75v9.5M453.12,437.5v-5M453.12,635.75v5M458.09,437.5v-5M458.09,635.75v5M463.06,437.5v-5M463.06,635.75v5M468.03,437.5v-5M468.03,635.75v5M473.00,437.5v-9.5M473.00,635.75v9.5M75.5,437.50h-9.5M473,437.50h9.5M75.5,451.66h-5M473,451.66h5M75.5,465.82h-9.5M473,465.82h9.5M75.5,479.98h-5M473,479.98h5M75.5,494.14h-9.5M473,494.14h9.5M75.5,508.30h-5M473,508.30h5M75.5,522.46h-9.5M473,522.46h9.5M75.5,536.62h-5M473,536.62h5M75.5,550.79h-9.5M473,550.79h9.5M75.5,564.95h-5M473,564.95h5M75.5,579.11h-9.5M473,579.11h9.5M75.5,593.27h-5M473,593.27h5M75.5,607.43h-9.5M473,607.43h9.5M75.5,621.59h-5M473,621.59h5M75.5,635.75h-9.5M473,635.75h9.5" stroke="#222" stroke-width="1" fill="none"/>
<rect x="75.5" y="437.5" width="397.5" height="198.25" fill="none" stroke="#111" stroke-width="2.2"/>
<text x="58.5" y="444.7" font-size="19.8" text-anchor="end">0</text>
<text x="58.5" y="473.0" font-size="19.8" text-anchor="end">−1</text>
<text x="58.5" y="501.3" font-size="19.8" text-anchor="end">−2</text>
<text x="58.5" y="529.7" font-size="19.8" text-anchor="end">−3</text>
<text x="58.5" y="558.0" font-size="19.8" text-anchor="end">−4</text>
<text x="58.5" y="586.3" font-size="19.8" text-anchor="end">−5</text>
<text x="58.5" y="614.6" font-size="19.8" text-anchor="end">−6</text>
<text x="58.5" y="643.0" font-size="19.8" text-anchor="end">−7</text>
<text x="75.0" y="667.6" font-size="19.4" text-anchor="middle">−8</text>
<text x="99.8" y="667.6" font-size="19.4" text-anchor="middle">−7</text>
<text x="124.7" y="667.6" font-size="19.4" text-anchor="middle">−6</text>
<text x="149.5" y="667.6" font-size="19.4" text-anchor="middle">−5</text>
<text x="174.4" y="667.6" font-size="19.4" text-anchor="middle">−4</text>
<text x="199.2" y="667.6" font-size="19.4" text-anchor="middle">−3</text>
<text x="224.1" y="667.6" font-size="19.4" text-anchor="middle">−2</text>
<text x="248.9" y="667.6" font-size="19.4" text-anchor="middle">−1</text>
<text x="273.8" y="667.6" font-size="19.4" text-anchor="middle">0</text>
<text x="298.6" y="667.6" font-size="19.4" text-anchor="middle">1</text>
<text x="323.4" y="667.6" font-size="19.4" text-anchor="middle">2</text>
<text x="348.3" y="667.6" font-size="19.4" text-anchor="middle">3</text>
<text x="373.1" y="667.6" font-size="19.4" text-anchor="middle">4</text>
<text x="398.0" y="667.6" font-size="19.4" text-anchor="middle">5</text>
<text x="422.8" y="667.6" font-size="19.4" text-anchor="middle">6</text>
<text x="447.7" y="667.6" font-size="19.4" text-anchor="middle">7</text>
<text x="472.5" y="667.6" font-size="19.4" text-anchor="middle">8</text>
<text x="274" y="695.5" font-size="19.1" text-anchor="middle">Distance (km)</text>
<text transform="translate(23,537) rotate(-90)" font-size="19.6" text-anchor="middle">Z (km)</text>
<text x="1.2" y="437.7" font-size="21">(c)</text>
<text x="91" y="472.6" font-size="19.3">W</text>
<text x="441.5" y="472.6" font-size="19.3">E</text>
</g>
</svg>
</body></html>
